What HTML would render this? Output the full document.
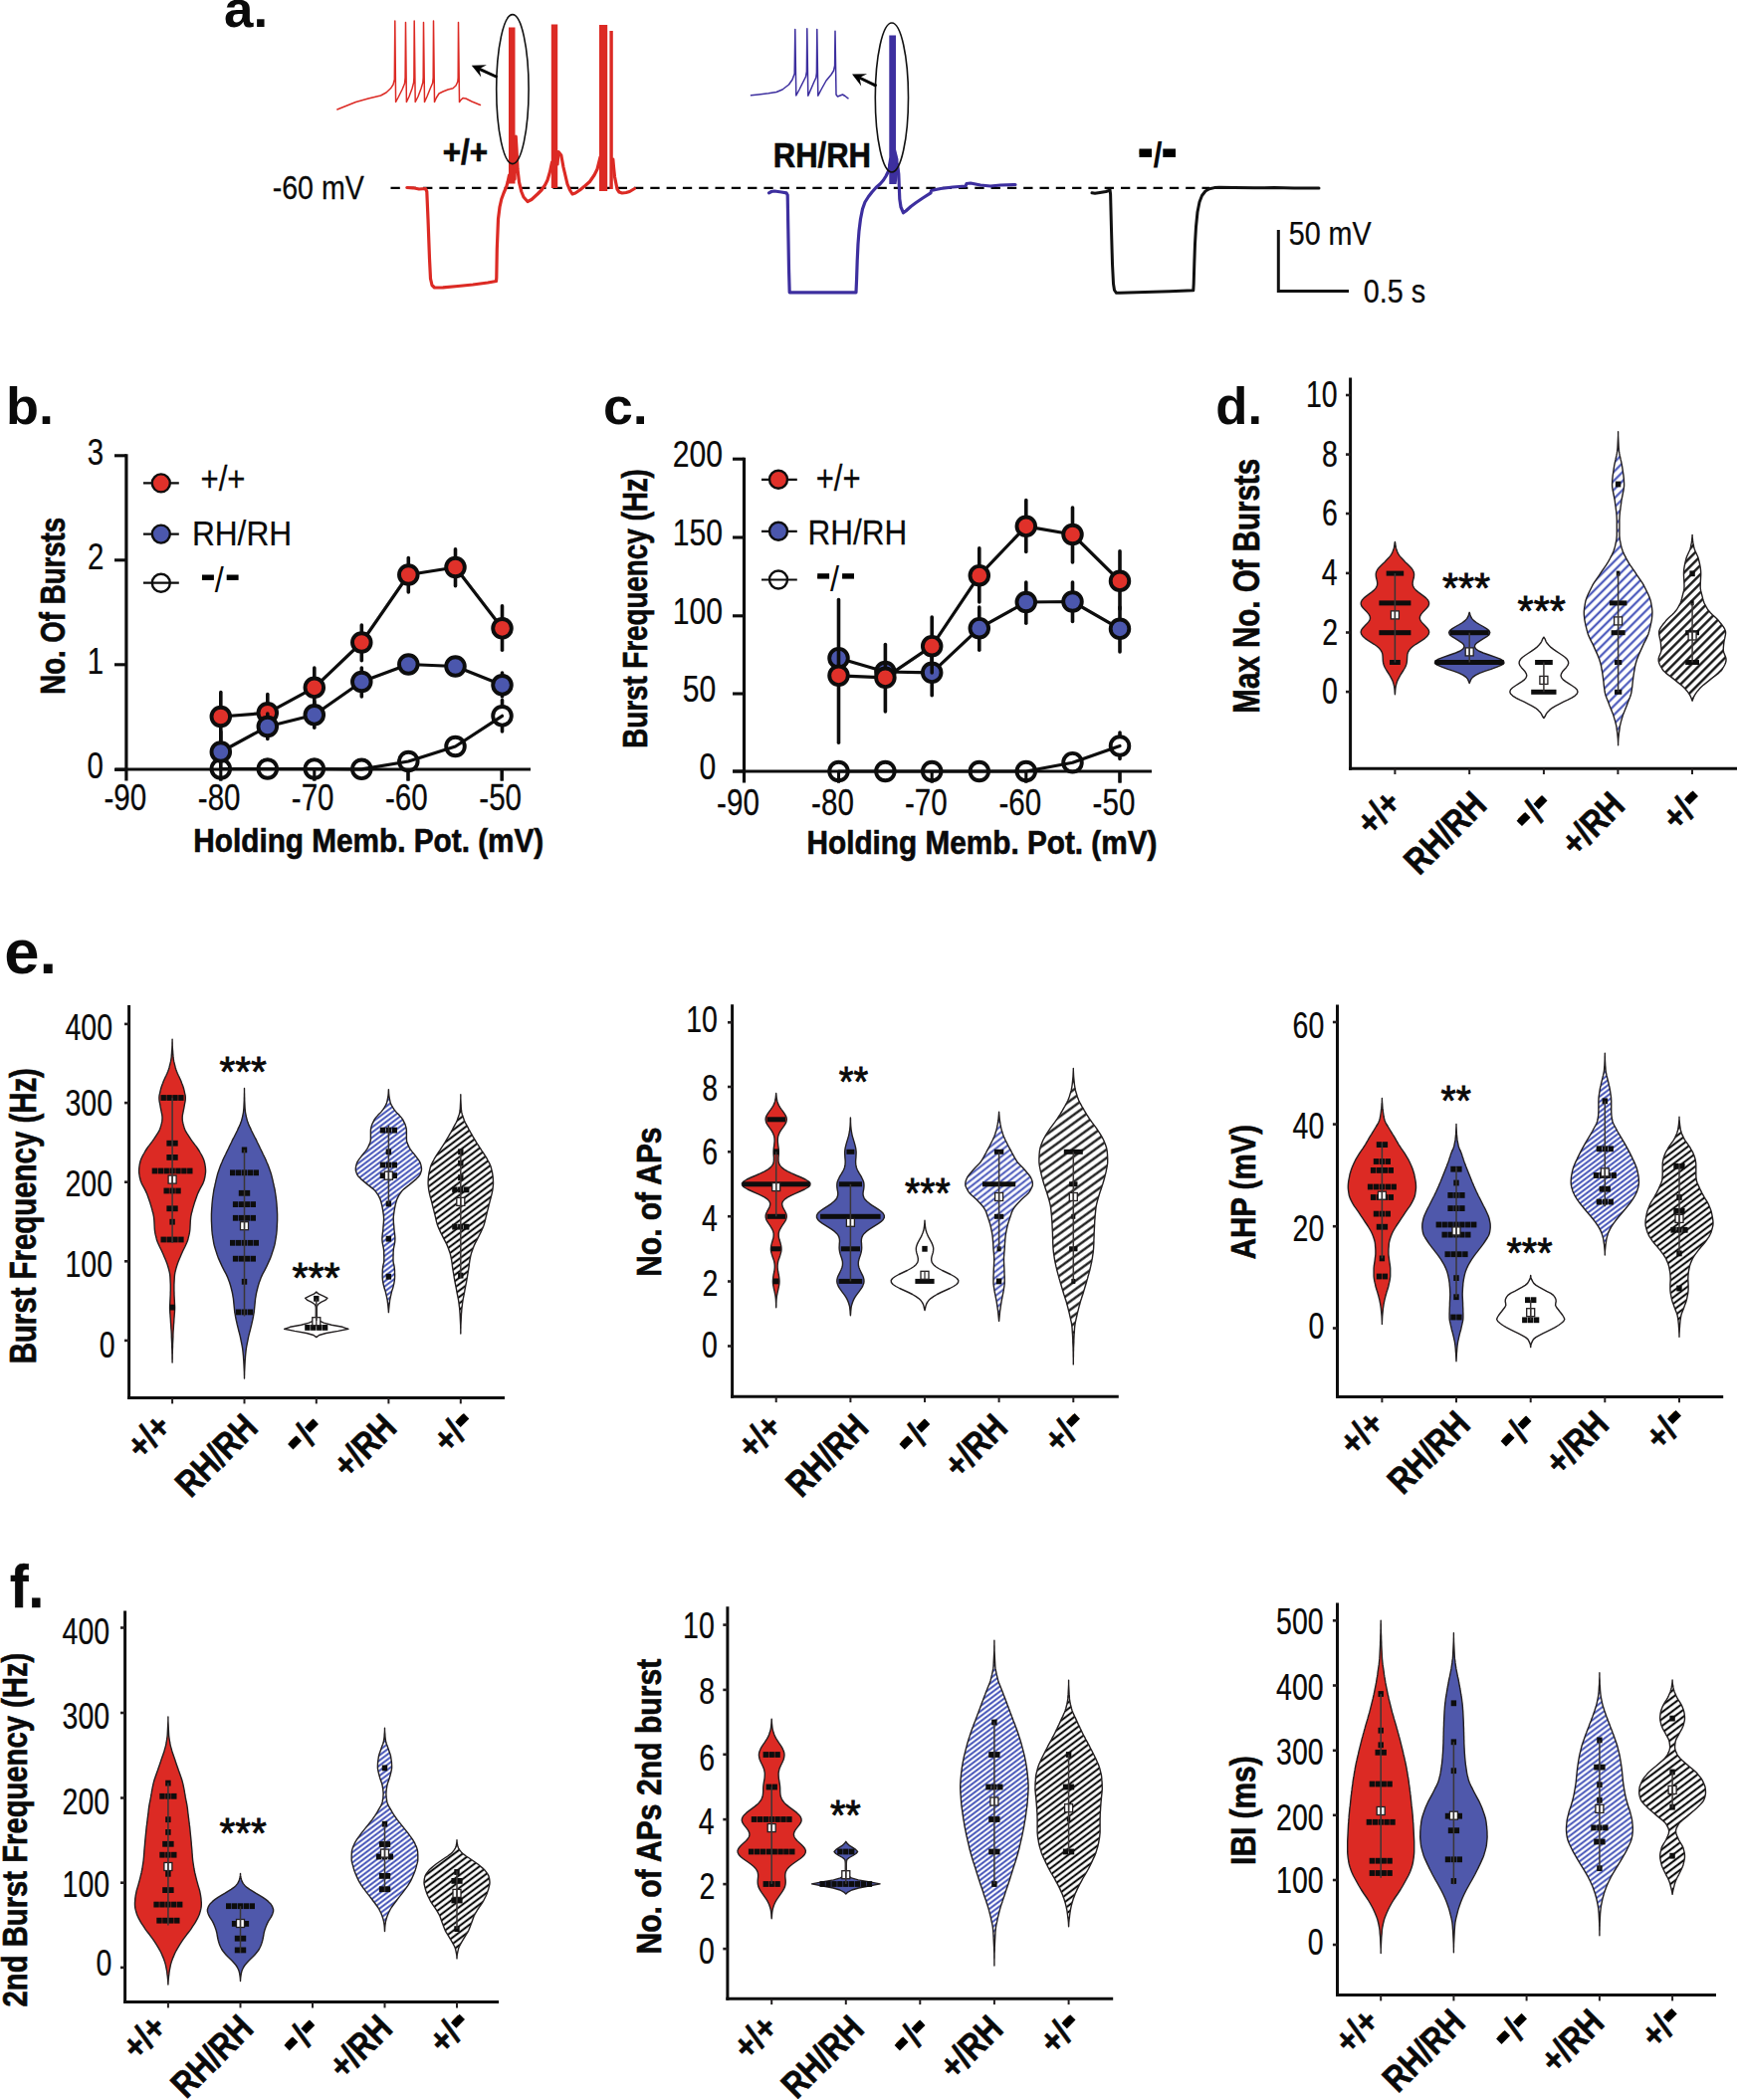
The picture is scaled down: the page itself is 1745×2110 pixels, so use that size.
<!DOCTYPE html>
<html><head><meta charset="utf-8"><title>figure</title>
<style>html,body{margin:0;padding:0;background:#fff}svg{display:block}text{font-family:"Liberation Sans",sans-serif;fill:#0a0a0a}.nb{stroke:#0a0a0a;stroke-width:.65px}.nr{stroke:#0a0a0a;stroke-width:.25px}</style>
</head><body>
<svg width="1745" height="2110" viewBox="0 0 1745 2110">
<defs>
<pattern id="hb" patternUnits="userSpaceOnUse" width="20" height="4.1" patternTransform="rotate(-37)"><rect width="20" height="4.1" fill="#fff"/><rect y="1.15" width="20" height="1.8" fill="#3444b2"/></pattern>
<pattern id="hk" patternUnits="userSpaceOnUse" width="20" height="5.1" patternTransform="rotate(-37)"><rect width="20" height="5.1" fill="#fff"/><rect y="1.5" width="20" height="2.1" fill="#0d0d0d"/></pattern>
<pattern id="hb2" patternUnits="userSpaceOnUse" width="20" height="4.85" patternTransform="rotate(-38)"><rect width="20" height="4.85" fill="#fff"/><rect y="1.5" width="20" height="1.8" fill="#3444b2"/></pattern>
<pattern id="hk2" patternUnits="userSpaceOnUse" width="20" height="6.8" patternTransform="rotate(-36)"><rect width="20" height="6.8" fill="#fff"/><rect y="2.3" width="20" height="2.2" fill="#0d0d0d"/></pattern>
<pattern id="hb3" patternUnits="userSpaceOnUse" width="20" height="4.4" patternTransform="rotate(-37)"><rect width="20" height="4.4" fill="#fff"/><rect y="1.3" width="20" height="1.8" fill="#3444b2"/></pattern>
<pattern id="hk3" patternUnits="userSpaceOnUse" width="20" height="5.5" patternTransform="rotate(-37)"><rect width="20" height="5.5" fill="#fff"/><rect y="1.7" width="20" height="2.15" fill="#0d0d0d"/></pattern>
<pattern id="hbd" patternUnits="userSpaceOnUse" width="20" height="6.4" patternTransform="rotate(-45)"><rect width="20" height="6.4" fill="#fff"/><rect y="2.2" width="20" height="1.95" fill="#3747b4"/></pattern>
<pattern id="hkd" patternUnits="userSpaceOnUse" width="20" height="6.4" patternTransform="rotate(-45)"><rect width="20" height="6.4" fill="#fff"/><rect y="2" width="20" height="2.3" fill="#0d0d0d"/></pattern>
</defs>
<rect width="1745" height="2110" fill="#fff"/>
<text transform="translate(225,26.5) scale(1.0170,1)" font-size="52" font-weight="bold">a.</text>
<line x1="392.5" y1="188.8" x2="1215" y2="188.8" stroke="#000" stroke-width="2.3" stroke-dasharray="9.3 7"/>
<path d="M408.8 188.5 L415 188.8 L421 190 L427.5 189.5 L428.8 192.5 L430 220 L431.5 260 L432.5 280 L434 286.5 L436.5 289 L445 288.8 L460 287.5 L475 286 L490 284 L498.5 282.5 L498.8 279 L499.3 250 L500.5 220 L502 208 L503.8 200 L506 194 L508.8 187.5 L510 183 L511.5 176" fill="none" stroke="#dc2a24" stroke-width="3.2" stroke-linejoin="round" stroke-linecap="round"/>
<rect x="511" y="27.5" width="6.5" height="157" fill="#dc2a24"/>
<path d="M517 180 L518.2 137 L519 150 L520 170 L521.5 183 L523.8 192.5 L526 198 L530 202.5 L534 200.5 L540 195 L544 191 L547.5 186 L550 181 L552.5 172.5 L554.5 163" fill="none" stroke="#dc2a24" stroke-width="3.2" stroke-linejoin="round" stroke-linecap="round"/>
<rect x="553.8" y="24.5" width="6.4" height="164.5" fill="#dc2a24"/>
<path d="M560 165 L561 152.5 L563.8 156 L566 168 L570 185 L572.5 191 L575 195 L578 194 L582.5 191 L588 186.5 L592.5 182.5 L597 176 L600 170 L603 158" fill="none" stroke="#dc2a24" stroke-width="3.2" stroke-linejoin="round" stroke-linecap="round"/>
<rect x="602" y="25" width="8.2" height="167" fill="#dc2a24"/>
<rect x="612.4" y="31" width="3.4" height="159" fill="#dc2a24"/>
<path d="M615.8 160 L616.5 168 L617.5 177.5 L620 190 L622 193 L625 194 L629 193.5 L632.5 192.5 L635 191 L637.5 189.5" fill="none" stroke="#dc2a24" stroke-width="3.2" stroke-linejoin="round" stroke-linecap="round"/>
<path d="M338.8 110 L345 107.5 L357.5 102.5 L370 99 L382.5 96 L388 93 L392.5 88.8 L395 85 L396.3 80 L396.8 21 L397.6 102.5 L400 98 L404 90 L406.5 84 L407.1 78 L407.5 22.5 L408.4 102.5 L411 97 L414 89 L415.6 83 L415.9 78 L416.2 21 L417.2 102.5 L420 97 L423 89 L424.8 83 L425.2 78 L425.5 22.5 L426.5 102.5 L429 97 L432 89.5 L434.6 83.5 L435.2 78 L435.5 21 L436.5 102.5 L438.5 98 L441 94 L445 92 L450 90 L455 88.8 L458 86 L459.8 82 L460.2 78 L460.5 22.5 L461.5 102.5 L462.5 101 L465 98.5 L468 99 L474 102 L482.5 105.5" fill="none" stroke="#dc2a24" stroke-width="1.5" stroke-linejoin="round" stroke-linecap="round"/>
<ellipse cx="514.9" cy="89.6" rx="16.2" ry="75" fill="none" stroke="#111" stroke-width="1.6"/>
<line x1="499.5" y1="77.5" x2="481.2" y2="69.2" stroke="#000" stroke-width="3" stroke-linecap="butt"/>
<path d="M473.8 65.8 L488.9 65.2 L481.4 69.3 L483.3 77.6 Z" fill="#000"/>
<text transform="translate(444.7,164.5) scale(0.8963,1)" font-size="35" font-weight="bold" class="nb">+/+</text>
<text transform="translate(273.7,200) scale(0.8660,1)" font-size="33" class="nr">-60 mV</text>
<path d="M772.5 193.8 L775 192.5 L778 192 L785 193 L790 193.8 L791.2 196 L791.8 230 L792.5 270 L793.2 293.8 L800 293.8 L830 293.8 L860 293.8 L860.6 280 L861.2 262 L862 245 L863 232 L864.5 220 L866.5 210 L869 203 L872.5 197.5 L876 193 L880 188.5 L884 185 L887.5 181 L890 177 L892.5 172 L894 166" fill="none" stroke="#3d2f9f" stroke-width="3.2" stroke-linejoin="round" stroke-linecap="round"/>
<path d="M893.3 35.5 L900 35.5 L900 150 L902.5 160 L902.5 172 L900.5 185 L893.3 185 L893.3 172 L892 166 L893.3 158 Z" fill="#3d2f9f"/>
<path d="M901.5 165 L902.8 175 L903.2 185 L903.8 200 L905 208 L907.5 213.8 L910 212 L915 207.5 L920 203.8 L927 199 L935 193.8 L935.5 191.5 L940 190.5 L945 189.5 L957 188 L970 187 L971 184.5 L975 184 L985 186 L995 187 L1005 186 L1020 185.5" fill="none" stroke="#3d2f9f" stroke-width="3.2" stroke-linejoin="round" stroke-linecap="round"/>
<path d="M754.5 95.8 L762 95 L772 93.8 L780 92.5 L786 90 L792.5 85 L796 80 L798.2 74 L798.8 29.5 L799.8 96 L803 90 L806.5 83 L809.5 77 L810.4 72 L810.8 28.8 L811.8 96.2 L814.5 90 L817.5 83 L819.8 78 L820.4 73 L820.8 29.5 L821.8 96.2 L825 90 L830 81 L835 75 L837.5 71 L838.6 66 L839 31.2 L840 95 L841.5 97 L844 96 L846.5 95 L849 96.5 L852 98.8" fill="none" stroke="#3d2f9f" stroke-width="1.5" stroke-linejoin="round" stroke-linecap="round"/>
<ellipse cx="895.9" cy="98" rx="16.6" ry="75" fill="none" stroke="#111" stroke-width="1.6"/>
<line x1="880.5" y1="86.3" x2="863.3" y2="78" stroke="#000" stroke-width="3" stroke-linecap="butt"/>
<path d="M856 74.5 L871.1 74.2 L863.5 78.1 L865.2 86.5 Z" fill="#000"/>
<text transform="translate(776.8,168) scale(0.8866,1)" font-size="35" font-weight="bold" class="nb">RH/RH</text>
<path d="M1097 193.8 L1100 194.3 L1105 193.5 L1111 192.5 L1114 191.5 L1115 190.5 L1115.6 195 L1116.5 230 L1117.5 265 L1118.5 285 L1119.5 291.5 L1121.5 294.3 L1125 294.3 L1150 293.5 L1175 292.8 L1198.8 291.8 L1199.2 285 L1199.8 265 L1200.5 245 L1201.5 228 L1203 213 L1205 203 L1207.5 196.5 L1211 192 L1215 189.8 L1220 188.6 L1225 188.2 L1240 188.4 L1260 188.8 L1280 188.6 L1300 189 L1325 189" fill="none" stroke="#111" stroke-width="3" stroke-linejoin="round" stroke-linecap="round"/>
<text transform="translate(1143.6,167.5) scale(0.93,1)" font-size="35" font-weight="bold"><tspan dy="-5.5">-</tspan><tspan dy="5.5" dx="4.4">/</tspan><tspan dy="-5.5" dx="1.5">-</tspan></text>
<rect x="1144.5" y="149.5" width="12.5" height="8.5" fill="#000"/>
<rect x="1168.3" y="149.5" width="12.7" height="8.5" fill="#000"/>
<path d="M1284.3 231 L1284.3 292.5 L1355 292.5" fill="none" stroke="#111" stroke-width="3" stroke-linejoin="miter"/>
<text transform="translate(1294.7,245.8) scale(0.8832,1)" font-size="32.5" class="nr">50 mV</text>
<text transform="translate(1369.7,303.8) scale(0.8853,1)" font-size="32.5" class="nr">0.5 s</text>
<text transform="translate(5.9,425.5) scale(1.0385,1)" font-size="52" font-weight="bold">b.</text>
<line x1="115" y1="457.8" x2="126.9" y2="457.8" stroke="#0d0d0d" stroke-width="3.1" stroke-linecap="butt"/>
<text transform="translate(87.7,466.5) scale(0.8100,1)" font-size="36.3" class="nr">3</text>
<line x1="115" y1="562.8" x2="126.9" y2="562.8" stroke="#0d0d0d" stroke-width="3.1" stroke-linecap="butt"/>
<text transform="translate(87.9,571.5) scale(0.8100,1)" font-size="36.3" class="nr">2</text>
<line x1="115" y1="667.8" x2="126.9" y2="667.8" stroke="#0d0d0d" stroke-width="3.1" stroke-linecap="butt"/>
<text transform="translate(87.7,676.5) scale(0.8100,1)" font-size="36.3" class="nr">1</text>
<line x1="115" y1="773.3" x2="126.9" y2="773.3" stroke="#0d0d0d" stroke-width="3.1" stroke-linecap="butt"/>
<text transform="translate(87.5,782) scale(0.8100,1)" font-size="36.3" class="nr">0</text>
<text transform="translate(104.5,814) scale(0.8150,1)" font-size="36.3" class="nr">-90</text>
<line x1="221.8" y1="773" x2="221.8" y2="784.5" stroke="#0d0d0d" stroke-width="3.1" stroke-linecap="butt"/>
<text transform="translate(198.8,814) scale(0.8150,1)" font-size="36.3" class="nr">-80</text>
<line x1="315.8" y1="773" x2="315.8" y2="784.5" stroke="#0d0d0d" stroke-width="3.1" stroke-linecap="butt"/>
<text transform="translate(292.8,814) scale(0.8150,1)" font-size="36.3" class="nr">-70</text>
<line x1="410" y1="773" x2="410" y2="784.5" stroke="#0d0d0d" stroke-width="3.1" stroke-linecap="butt"/>
<text transform="translate(387,814) scale(0.8150,1)" font-size="36.3" class="nr">-60</text>
<line x1="504.2" y1="773" x2="504.2" y2="784.5" stroke="#0d0d0d" stroke-width="3.1" stroke-linecap="butt"/>
<text transform="translate(481.3,814) scale(0.8150,1)" font-size="36.3" class="nr">-50</text>
<text transform="translate(194.3,856.2) scale(0.8752,1)" font-size="34" font-weight="bold" class="nb">Holding Memb. Pot. (mV)</text>
<text class="nb" transform="translate(64.6,697.8) rotate(-90) scale(0.7892,1)" font-size="35" font-weight="bold">No. Of Bursts</text>
<line x1="504.5" y1="703.5" x2="504.5" y2="735" stroke="#0d0d0d" stroke-width="3.6" stroke-linecap="round"/>
<circle cx="221.8" cy="772.5" r="9.3" fill="#fff" stroke="#0d0d0d" stroke-width="3.9"/>
<circle cx="268.8" cy="772.5" r="9.3" fill="#fff" stroke="#0d0d0d" stroke-width="3.9"/>
<circle cx="315.8" cy="772.5" r="9.3" fill="#fff" stroke="#0d0d0d" stroke-width="3.9"/>
<circle cx="363.3" cy="772.8" r="9.3" fill="#fff" stroke="#0d0d0d" stroke-width="3.9"/>
<circle cx="410.3" cy="765" r="9.3" fill="#fff" stroke="#0d0d0d" stroke-width="3.9"/>
<circle cx="457.5" cy="750" r="9.3" fill="#fff" stroke="#0d0d0d" stroke-width="3.9"/>
<circle cx="504.5" cy="719.3" r="9.3" fill="#fff" stroke="#0d0d0d" stroke-width="3.9"/>
<path d="M221.8 772.5 L268.8 772.5 L315.8 772.5 L363.3 772.8 L410.3 765 L457.5 750 L504.5 719.3" fill="none" stroke="#0d0d0d" stroke-width="3.2" stroke-linejoin="round" stroke-linecap="round"/>
<line x1="221.8" y1="695.5" x2="221.8" y2="744" stroke="#0d0d0d" stroke-width="3.6" stroke-linecap="round"/>
<line x1="268.8" y1="697.5" x2="268.8" y2="735" stroke="#0d0d0d" stroke-width="3.6" stroke-linecap="round"/>
<line x1="315.8" y1="671" x2="315.8" y2="710" stroke="#0d0d0d" stroke-width="3.6" stroke-linecap="round"/>
<line x1="363.3" y1="628" x2="363.3" y2="663.8" stroke="#0d0d0d" stroke-width="3.6" stroke-linecap="round"/>
<line x1="410.3" y1="560.5" x2="410.3" y2="595" stroke="#0d0d0d" stroke-width="3.6" stroke-linecap="round"/>
<line x1="457.5" y1="551.8" x2="457.5" y2="588.8" stroke="#0d0d0d" stroke-width="3.6" stroke-linecap="round"/>
<line x1="504.5" y1="608.8" x2="504.5" y2="653.3" stroke="#0d0d0d" stroke-width="3.6" stroke-linecap="round"/>
<path d="M221.8 720 L268.8 716.3 L315.8 690.8 L363.3 645.5 L410.3 577.5 L457.5 570 L504.5 631.3" fill="none" stroke="#0d0d0d" stroke-width="3.2" stroke-linejoin="round" stroke-linecap="round"/>
<circle cx="221.8" cy="720" r="9.3" fill="#e0312a" stroke="#0d0d0d" stroke-width="3.9"/>
<circle cx="268.8" cy="716.3" r="9.3" fill="#e0312a" stroke="#0d0d0d" stroke-width="3.9"/>
<circle cx="315.8" cy="690.8" r="9.3" fill="#e0312a" stroke="#0d0d0d" stroke-width="3.9"/>
<circle cx="363.3" cy="645.5" r="9.3" fill="#e0312a" stroke="#0d0d0d" stroke-width="3.9"/>
<circle cx="410.3" cy="577.5" r="9.3" fill="#e0312a" stroke="#0d0d0d" stroke-width="3.9"/>
<circle cx="457.5" cy="570" r="9.3" fill="#e0312a" stroke="#0d0d0d" stroke-width="3.9"/>
<circle cx="504.5" cy="631.3" r="9.3" fill="#e0312a" stroke="#0d0d0d" stroke-width="3.9"/>
<line x1="221.8" y1="735" x2="221.8" y2="772" stroke="#0d0d0d" stroke-width="3.6" stroke-linecap="round"/>
<line x1="268.8" y1="717" x2="268.8" y2="742.5" stroke="#0d0d0d" stroke-width="3.6" stroke-linecap="round"/>
<line x1="315.8" y1="705" x2="315.8" y2="731.3" stroke="#0d0d0d" stroke-width="3.6" stroke-linecap="round"/>
<line x1="363.3" y1="671" x2="363.3" y2="700" stroke="#0d0d0d" stroke-width="3.6" stroke-linecap="round"/>
<line x1="504.5" y1="676" x2="504.5" y2="700" stroke="#0d0d0d" stroke-width="3.6" stroke-linecap="round"/>
<path d="M221.8 755.5 L268.8 730 L315.8 718.3 L363.3 685 L410.3 667.5 L457.5 669.5 L504.5 688.3" fill="none" stroke="#0d0d0d" stroke-width="3.2" stroke-linejoin="round" stroke-linecap="round"/>
<circle cx="221.8" cy="755.5" r="9.3" fill="#4b57ad" stroke="#0d0d0d" stroke-width="3.9"/>
<circle cx="268.8" cy="730" r="9.3" fill="#4b57ad" stroke="#0d0d0d" stroke-width="3.9"/>
<circle cx="315.8" cy="718.3" r="9.3" fill="#4b57ad" stroke="#0d0d0d" stroke-width="3.9"/>
<circle cx="363.3" cy="685" r="9.3" fill="#4b57ad" stroke="#0d0d0d" stroke-width="3.9"/>
<circle cx="410.3" cy="667.5" r="9.3" fill="#4b57ad" stroke="#0d0d0d" stroke-width="3.9"/>
<circle cx="457.5" cy="669.5" r="9.3" fill="#4b57ad" stroke="#0d0d0d" stroke-width="3.9"/>
<circle cx="504.5" cy="688.3" r="9.3" fill="#4b57ad" stroke="#0d0d0d" stroke-width="3.9"/>
<line x1="126.9" y1="456.2" x2="126.9" y2="784.5" stroke="#0d0d0d" stroke-width="3.2" stroke-linecap="butt"/>
<line x1="115.5" y1="773" x2="533" y2="773" stroke="#0d0d0d" stroke-width="3.2" stroke-linecap="butt"/>
<line x1="221.8" y1="773" x2="221.8" y2="784.5" stroke="#0d0d0d" stroke-width="3.1" stroke-linecap="butt"/>
<line x1="315.8" y1="773" x2="315.8" y2="784.5" stroke="#0d0d0d" stroke-width="3.1" stroke-linecap="butt"/>
<line x1="410" y1="773" x2="410" y2="784.5" stroke="#0d0d0d" stroke-width="3.1" stroke-linecap="butt"/>
<line x1="504.2" y1="773" x2="504.2" y2="784.5" stroke="#0d0d0d" stroke-width="3.1" stroke-linecap="butt"/>
<line x1="144" y1="485.4" x2="179.8" y2="485.4" stroke="#0d0d0d" stroke-width="2.2" stroke-linecap="butt"/>
<circle cx="161.8" cy="485.4" r="9" fill="#e0312a" stroke="#0d0d0d" stroke-width="2.4"/>
<line x1="144" y1="536.6" x2="179.8" y2="536.6" stroke="#0d0d0d" stroke-width="2.2" stroke-linecap="butt"/>
<circle cx="161.8" cy="536.6" r="9" fill="#4b57ad" stroke="#0d0d0d" stroke-width="2.4"/>
<line x1="144" y1="585.7" x2="179.8" y2="585.7" stroke="#0d0d0d" stroke-width="2.2" stroke-linecap="butt"/>
<circle cx="161.8" cy="585.7" r="9" fill="none" stroke="#0d0d0d" stroke-width="2.4"/>
<text transform="translate(201.5,493) scale(0.8639,1)" font-size="36" class="nr">+/+</text>
<text transform="translate(192.9,548.3) scale(0.8796,1)" font-size="36" class="nr">RH/RH</text>
<text transform="translate(201.8,595) scale(0.9,1)" font-size="36"><tspan dy="-4.5">-</tspan><tspan dy="4.5" dx="3.5">/</tspan><tspan dy="-4.5" dx="2.5">-</tspan></text>
<rect x="203" y="577.5" width="11.9" height="5.4" fill="#000"/>
<rect x="227.7" y="577.5" width="11.9" height="5.4" fill="#000"/>
<text transform="translate(605.9,425.5) scale(1.0331,1)" font-size="52" font-weight="bold">c.</text>
<line x1="736" y1="461.2" x2="747.5" y2="461.2" stroke="#0d0d0d" stroke-width="3.1" stroke-linecap="butt"/>
<text transform="translate(675.8,469.4) scale(0.8300,1)" font-size="36.3" class="nr">200</text>
<line x1="736" y1="540" x2="747.5" y2="540" stroke="#0d0d0d" stroke-width="3.1" stroke-linecap="butt"/>
<text transform="translate(675.8,548.2) scale(0.8300,1)" font-size="36.3" class="nr">150</text>
<line x1="736" y1="618.8" x2="747.5" y2="618.8" stroke="#0d0d0d" stroke-width="3.1" stroke-linecap="butt"/>
<text transform="translate(675.8,627) scale(0.8300,1)" font-size="36.3" class="nr">100</text>
<line x1="736" y1="697" x2="747.5" y2="697" stroke="#0d0d0d" stroke-width="3.1" stroke-linecap="butt"/>
<text transform="translate(685.8,705.2) scale(0.8300,1)" font-size="36.3" class="nr">50</text>
<line x1="736" y1="775" x2="747.5" y2="775" stroke="#0d0d0d" stroke-width="3.1" stroke-linecap="butt"/>
<text transform="translate(702.6,783.2) scale(0.8300,1)" font-size="36.3" class="nr">0</text>
<text transform="translate(720.1,818.8) scale(0.8150,1)" font-size="36.3" class="nr">-90</text>
<line x1="842.5" y1="775" x2="842.5" y2="786.5" stroke="#0d0d0d" stroke-width="3.1" stroke-linecap="butt"/>
<text transform="translate(815.1,818.8) scale(0.8150,1)" font-size="36.3" class="nr">-80</text>
<line x1="936.2" y1="775" x2="936.2" y2="786.5" stroke="#0d0d0d" stroke-width="3.1" stroke-linecap="butt"/>
<text transform="translate(908.9,818.8) scale(0.8150,1)" font-size="36.3" class="nr">-70</text>
<line x1="1030.8" y1="775" x2="1030.8" y2="786.5" stroke="#0d0d0d" stroke-width="3.1" stroke-linecap="butt"/>
<text transform="translate(1003.4,818.8) scale(0.8150,1)" font-size="36.3" class="nr">-60</text>
<line x1="1125" y1="775" x2="1125" y2="786.5" stroke="#0d0d0d" stroke-width="3.1" stroke-linecap="butt"/>
<text transform="translate(1097.6,818.8) scale(0.8150,1)" font-size="36.3" class="nr">-50</text>
<text transform="translate(810.5,858) scale(0.8752,1)" font-size="34" font-weight="bold" class="nb">Holding Memb. Pot. (mV)</text>
<text class="nb" transform="translate(650,751.8) rotate(-90) scale(0.7929,1)" font-size="35" font-weight="bold">Burst Frequency (Hz)</text>
<line x1="1125" y1="736" x2="1125" y2="762.5" stroke="#0d0d0d" stroke-width="3.6" stroke-linecap="round"/>
<circle cx="842.5" cy="775" r="9.3" fill="#fff" stroke="#0d0d0d" stroke-width="3.9"/>
<circle cx="889.4" cy="775" r="9.3" fill="#fff" stroke="#0d0d0d" stroke-width="3.9"/>
<circle cx="936.2" cy="775" r="9.3" fill="#fff" stroke="#0d0d0d" stroke-width="3.9"/>
<circle cx="983.8" cy="775" r="9.3" fill="#fff" stroke="#0d0d0d" stroke-width="3.9"/>
<circle cx="1030.8" cy="775" r="9.3" fill="#fff" stroke="#0d0d0d" stroke-width="3.9"/>
<circle cx="1077.5" cy="766.2" r="9.3" fill="#fff" stroke="#0d0d0d" stroke-width="3.9"/>
<circle cx="1125" cy="749.5" r="9.3" fill="#fff" stroke="#0d0d0d" stroke-width="3.9"/>
<path d="M842.5 775 L889.4 775 L936.2 775 L983.8 775 L1030.8 775 L1077.5 766.2 L1125 749.5" fill="none" stroke="#0d0d0d" stroke-width="3.2" stroke-linejoin="round" stroke-linecap="round"/>
<line x1="936.2" y1="650" x2="936.2" y2="698.8" stroke="#0d0d0d" stroke-width="3.6" stroke-linecap="round"/>
<line x1="983.8" y1="610" x2="983.8" y2="653.2" stroke="#0d0d0d" stroke-width="3.6" stroke-linecap="round"/>
<line x1="1030.8" y1="585" x2="1030.8" y2="626.2" stroke="#0d0d0d" stroke-width="3.6" stroke-linecap="round"/>
<line x1="1077.5" y1="585" x2="1077.5" y2="624.5" stroke="#0d0d0d" stroke-width="3.6" stroke-linecap="round"/>
<line x1="1125" y1="610" x2="1125" y2="655" stroke="#0d0d0d" stroke-width="3.6" stroke-linecap="round"/>
<path d="M842.5 661.2 L889.4 675 L936.2 675.8 L983.8 631.2 L1030.8 605 L1077.5 604.5 L1125 631.8" fill="none" stroke="#0d0d0d" stroke-width="3.2" stroke-linejoin="round" stroke-linecap="round"/>
<circle cx="842.5" cy="661.2" r="9.3" fill="#4b57ad" stroke="#0d0d0d" stroke-width="3.9"/>
<circle cx="889.4" cy="675" r="9.3" fill="#4b57ad" stroke="#0d0d0d" stroke-width="3.9"/>
<circle cx="936.2" cy="675.8" r="9.3" fill="#4b57ad" stroke="#0d0d0d" stroke-width="3.9"/>
<circle cx="983.8" cy="631.2" r="9.3" fill="#4b57ad" stroke="#0d0d0d" stroke-width="3.9"/>
<circle cx="1030.8" cy="605" r="9.3" fill="#4b57ad" stroke="#0d0d0d" stroke-width="3.9"/>
<circle cx="1077.5" cy="604.5" r="9.3" fill="#4b57ad" stroke="#0d0d0d" stroke-width="3.9"/>
<circle cx="1125" cy="631.8" r="9.3" fill="#4b57ad" stroke="#0d0d0d" stroke-width="3.9"/>
<line x1="842.5" y1="602.5" x2="842.5" y2="746.2" stroke="#0d0d0d" stroke-width="3.6" stroke-linecap="round"/>
<line x1="889.4" y1="647.5" x2="889.4" y2="715" stroke="#0d0d0d" stroke-width="3.6" stroke-linecap="round"/>
<line x1="936.2" y1="620" x2="936.2" y2="676" stroke="#0d0d0d" stroke-width="3.6" stroke-linecap="round"/>
<line x1="983.8" y1="550.8" x2="983.8" y2="605" stroke="#0d0d0d" stroke-width="3.6" stroke-linecap="round"/>
<line x1="1030.8" y1="502.5" x2="1030.8" y2="554.5" stroke="#0d0d0d" stroke-width="3.6" stroke-linecap="round"/>
<line x1="1077.5" y1="510" x2="1077.5" y2="565" stroke="#0d0d0d" stroke-width="3.6" stroke-linecap="round"/>
<line x1="1125" y1="553.8" x2="1125" y2="612" stroke="#0d0d0d" stroke-width="3.6" stroke-linecap="round"/>
<path d="M842.5 678.8 L889.4 680.8 L936.2 649.2 L983.8 578.2 L1030.8 528.8 L1077.5 537 L1125 583.8" fill="none" stroke="#0d0d0d" stroke-width="3.2" stroke-linejoin="round" stroke-linecap="round"/>
<circle cx="842.5" cy="678.8" r="9.3" fill="#e0312a" stroke="#0d0d0d" stroke-width="3.9"/>
<circle cx="889.4" cy="680.8" r="9.3" fill="#e0312a" stroke="#0d0d0d" stroke-width="3.9"/>
<circle cx="936.2" cy="649.2" r="9.3" fill="#e0312a" stroke="#0d0d0d" stroke-width="3.9"/>
<circle cx="983.8" cy="578.2" r="9.3" fill="#e0312a" stroke="#0d0d0d" stroke-width="3.9"/>
<circle cx="1030.8" cy="528.8" r="9.3" fill="#e0312a" stroke="#0d0d0d" stroke-width="3.9"/>
<circle cx="1077.5" cy="537" r="9.3" fill="#e0312a" stroke="#0d0d0d" stroke-width="3.9"/>
<circle cx="1125" cy="583.8" r="9.3" fill="#e0312a" stroke="#0d0d0d" stroke-width="3.9"/>
<line x1="747.5" y1="459.8" x2="747.5" y2="786.5" stroke="#0d0d0d" stroke-width="3.2" stroke-linecap="butt"/>
<line x1="736.2" y1="775" x2="1157" y2="775" stroke="#0d0d0d" stroke-width="3.2" stroke-linecap="butt"/>
<line x1="842.5" y1="775" x2="842.5" y2="786.5" stroke="#0d0d0d" stroke-width="3.1" stroke-linecap="butt"/>
<line x1="936.2" y1="775" x2="936.2" y2="786.5" stroke="#0d0d0d" stroke-width="3.1" stroke-linecap="butt"/>
<line x1="1030.8" y1="775" x2="1030.8" y2="786.5" stroke="#0d0d0d" stroke-width="3.1" stroke-linecap="butt"/>
<line x1="1125" y1="775" x2="1125" y2="786.5" stroke="#0d0d0d" stroke-width="3.1" stroke-linecap="butt"/>
<line x1="765" y1="481.8" x2="800.8" y2="481.8" stroke="#0d0d0d" stroke-width="2.2" stroke-linecap="butt"/>
<circle cx="782" cy="481.8" r="9" fill="#e0312a" stroke="#0d0d0d" stroke-width="2.4"/>
<line x1="765" y1="533.8" x2="800.8" y2="533.8" stroke="#0d0d0d" stroke-width="2.2" stroke-linecap="butt"/>
<circle cx="782" cy="533.8" r="9" fill="#4b57ad" stroke="#0d0d0d" stroke-width="2.4"/>
<line x1="765" y1="582.5" x2="800.8" y2="582.5" stroke="#0d0d0d" stroke-width="2.2" stroke-linecap="butt"/>
<circle cx="782" cy="582.5" r="9" fill="none" stroke="#0d0d0d" stroke-width="2.4"/>
<text transform="translate(819.7,492.5) scale(0.8608,1)" font-size="36" class="nr">+/+</text>
<text transform="translate(811.6,547) scale(0.8750,1)" font-size="36" class="nr">RH/RH</text>
<text transform="translate(820,593.8) scale(0.9,1)" font-size="36"><tspan dy="-4.5">-</tspan><tspan dy="4.5" dx="3.5">/</tspan><tspan dy="-4.5" dx="2.5">-</tspan></text>
<rect x="821.2" y="576.2" width="11.9" height="5.4" fill="#000"/>
<rect x="846.1" y="576.2" width="11.9" height="5.4" fill="#000"/>
<text transform="translate(1221.2,425.9) scale(1.0137,1)" font-size="52" font-weight="bold">d.</text>
<line x1="1356.6" y1="379.5" x2="1356.6" y2="773.7" stroke="#0d0d0d" stroke-width="3" stroke-linecap="butt"/>
<line x1="1355.1" y1="772.2" x2="1745" y2="772.2" stroke="#0d0d0d" stroke-width="3" stroke-linecap="butt"/>
<line x1="1352" y1="397" x2="1356.6" y2="397" stroke="#231f20" stroke-width="2.6" stroke-linecap="butt"/>
<text transform="translate(1312,409.1) scale(0.7850,1)" font-size="36.3" class="nr">10</text>
<line x1="1352" y1="456.6" x2="1356.6" y2="456.6" stroke="#231f20" stroke-width="2.6" stroke-linecap="butt"/>
<text transform="translate(1328.1,468.7) scale(0.7850,1)" font-size="36.3" class="nr">8</text>
<line x1="1352" y1="516" x2="1356.6" y2="516" stroke="#231f20" stroke-width="2.6" stroke-linecap="butt"/>
<text transform="translate(1328.1,528.1) scale(0.7850,1)" font-size="36.3" class="nr">6</text>
<line x1="1352" y1="575.9" x2="1356.6" y2="575.9" stroke="#231f20" stroke-width="2.6" stroke-linecap="butt"/>
<text transform="translate(1327.7,588) scale(0.7850,1)" font-size="36.3" class="nr">4</text>
<line x1="1352" y1="635.5" x2="1356.6" y2="635.5" stroke="#231f20" stroke-width="2.6" stroke-linecap="butt"/>
<text transform="translate(1328.3,647.6) scale(0.7850,1)" font-size="36.3" class="nr">2</text>
<line x1="1352" y1="695.1" x2="1356.6" y2="695.1" stroke="#231f20" stroke-width="2.6" stroke-linecap="butt"/>
<text transform="translate(1327.9,707.2) scale(0.7850,1)" font-size="36.3" class="nr">0</text>
<line x1="1401.4" y1="772.2" x2="1401.4" y2="778" stroke="#231f20" stroke-width="2" stroke-linecap="butt"/>
<line x1="1476.2" y1="772.2" x2="1476.2" y2="778" stroke="#231f20" stroke-width="2" stroke-linecap="butt"/>
<line x1="1550.9" y1="772.2" x2="1550.9" y2="778" stroke="#231f20" stroke-width="2" stroke-linecap="butt"/>
<line x1="1625.4" y1="772.2" x2="1625.4" y2="778" stroke="#231f20" stroke-width="2" stroke-linecap="butt"/>
<line x1="1700" y1="772.2" x2="1700" y2="778" stroke="#231f20" stroke-width="2" stroke-linecap="butt"/>
<text class="nb" transform="translate(1265,716.7) rotate(-90) scale(0.8201,1)" font-size="36" font-weight="bold">Max No. Of Bursts</text>
<path d="M1401.4 544.5 L1401.8 546.5 L1402 548.5 L1402.4 550.5 L1403 552.6 L1403.8 554.6 L1404.8 556.6 L1406.1 558.6 L1407.8 560.6 L1409.7 562.6 L1411.7 564.7 L1413.9 566.7 L1415.9 568.7 L1417.8 570.7 L1419.2 572.7 L1420.2 574.7 L1420.6 576.8 L1420.5 578.8 L1420.2 580.8 L1419.6 582.8 L1419.2 584.8 L1419.1 586.8 L1419.5 588.8 L1420.6 590.9 L1422.3 592.9 L1424.7 594.9 L1427.4 596.9 L1430.1 598.9 L1432.6 600.9 L1434.5 603 L1435.5 605 L1435.6 607 L1434.9 609 L1433.3 611 L1431.4 613 L1429.4 615.1 L1427.7 617.1 L1426.6 619.1 L1426.3 621.1 L1426.8 623.1 L1428.2 625.1 L1430 627.1 L1432.1 629.2 L1433.9 631.2 L1435.2 633.2 L1435.7 635.2 L1435.2 637.2 L1433.8 639.2 L1431.5 641.3 L1428.6 643.3 L1425.5 645.3 L1422.4 647.3 L1419.6 649.3 L1417.3 651.3 L1415.6 653.4 L1414.5 655.4 L1413.9 657.4 L1413.7 659.4 L1413.6 661.4 L1413.5 663.4 L1413.3 665.4 L1412.8 667.5 L1412.1 669.5 L1411.1 671.5 L1409.9 673.5 L1408.6 675.5 L1407.3 677.5 L1406.1 679.6 L1405 681.6 L1404 683.6 L1403.3 685.6 L1402.7 687.6 L1402.2 689.6 L1401.9 691.7 L1401.7 693.7 L1401.6 695.7 L1401.4 697.7 L1401.2 695.7 L1401.1 693.7 L1400.9 691.7 L1400.6 689.6 L1400.1 687.6 L1399.5 685.6 L1398.8 683.6 L1397.8 681.6 L1396.7 679.6 L1395.5 677.5 L1394.2 675.5 L1392.9 673.5 L1391.7 671.5 L1390.7 669.5 L1390 667.5 L1389.5 665.4 L1389.3 663.4 L1389.2 661.4 L1389.1 659.4 L1388.9 657.4 L1388.3 655.4 L1387.2 653.4 L1385.5 651.3 L1383.2 649.3 L1380.4 647.3 L1377.3 645.3 L1374.2 643.3 L1371.3 641.3 L1369 639.2 L1367.6 637.2 L1367.1 635.2 L1367.6 633.2 L1368.9 631.2 L1370.7 629.2 L1372.8 627.1 L1374.6 625.1 L1376 623.1 L1376.5 621.1 L1376.2 619.1 L1375.1 617.1 L1373.4 615.1 L1371.4 613 L1369.5 611 L1367.9 609 L1367.2 607 L1367.3 605 L1368.3 603 L1370.2 600.9 L1372.7 598.9 L1375.4 596.9 L1378.1 594.9 L1380.5 592.9 L1382.2 590.9 L1383.3 588.8 L1383.7 586.8 L1383.6 584.8 L1383.2 582.8 L1382.6 580.8 L1382.3 578.8 L1382.2 576.8 L1382.6 574.7 L1383.6 572.7 L1385 570.7 L1386.9 568.7 L1388.9 566.7 L1391.1 564.7 L1393.1 562.6 L1395 560.6 L1396.7 558.6 L1398 556.6 L1399 554.6 L1399.8 552.6 L1400.4 550.5 L1400.8 548.5 L1401 546.5Z" fill="#dc2a24" stroke="#231f20" stroke-width="1.4" stroke-linejoin="round"/>
<rect x="1392.7" y="573.6" width="17.5" height="5" fill="#0d0d0d"/>
<rect x="1385.4" y="603.4" width="32" height="5" fill="#0d0d0d"/>
<rect x="1385.4" y="633.2" width="32" height="5" fill="#0d0d0d"/>
<rect x="1396" y="663" width="10.8" height="5" fill="#0d0d0d"/>
<rect x="1397.4" y="613.9" width="8" height="8" fill="#fff" stroke="#231f20" stroke-width="1.3"/>
<line x1="1401.4" y1="613.9" x2="1401.4" y2="621.9" stroke="#3a3636" stroke-width="1.3" stroke-linecap="butt"/>
<line x1="1401.4" y1="576.1" x2="1401.4" y2="665.5" stroke="#3a3636" stroke-width="1.5" stroke-linecap="butt"/>
<path d="M1476.2 615.3 L1476.8 617.3 L1477.5 619.4 L1478.6 621.4 L1480.4 623.4 L1483.1 625.5 L1486.4 627.5 L1490 629.5 L1493.4 631.6 L1495.9 633.6 L1496.8 635.6 L1496 637.7 L1493.6 639.7 L1490.3 641.7 L1486.8 643.8 L1483.8 645.8 L1481.9 647.8 L1481.4 649.9 L1482.5 651.9 L1485.4 654 L1490 656 L1495.8 658 L1501.9 660.1 L1507.2 662.1 L1510.5 664.1 L1511 666.2 L1508.6 668.2 L1503.9 670.2 L1497.9 672.3 L1491.7 674.3 L1486.4 676.3 L1482.4 678.4 L1479.6 680.4 L1477.9 682.4 L1477 684.5 L1476.2 686.5 L1475.4 684.5 L1474.5 682.4 L1472.8 680.4 L1470 678.4 L1466 676.3 L1460.7 674.3 L1454.5 672.3 L1448.5 670.2 L1443.8 668.2 L1441.4 666.2 L1441.9 664.1 L1445.2 662.1 L1450.5 660.1 L1456.6 658 L1462.4 656 L1467 654 L1469.9 651.9 L1471 649.9 L1470.5 647.8 L1468.6 645.8 L1465.6 643.8 L1462.1 641.7 L1458.8 639.7 L1456.4 637.7 L1455.6 635.6 L1456.5 633.6 L1459 631.6 L1462.4 629.5 L1466 627.5 L1469.3 625.5 L1472 623.4 L1473.8 621.4 L1474.9 619.4 L1475.6 617.3Z" fill="#4f58ab" stroke="#231f20" stroke-width="1.4" stroke-linejoin="round"/>
<rect x="1456.7" y="633.2" width="39" height="5" fill="#0d0d0d"/>
<rect x="1441.8" y="663" width="68.8" height="5" fill="#0d0d0d"/>
<rect x="1472.2" y="650.9" width="8" height="8" fill="#fff" stroke="#231f20" stroke-width="1.3"/>
<line x1="1476.2" y1="650.9" x2="1476.2" y2="658.9" stroke="#3a3636" stroke-width="1.3" stroke-linecap="butt"/>
<line x1="1476.2" y1="635.7" x2="1476.2" y2="665.5" stroke="#3a3636" stroke-width="1.5" stroke-linecap="butt"/>
<path d="M1550.9 640.2 L1552.2 642.2 L1553 644.3 L1554.2 646.3 L1555.9 648.3 L1558 650.4 L1560.6 652.4 L1563.5 654.4 L1566.7 656.5 L1569.7 658.5 L1572.4 660.5 L1574.4 662.6 L1575.5 664.6 L1575.7 666.6 L1574.9 668.7 L1573.4 670.7 L1571.5 672.7 L1569.7 674.8 L1568.5 676.8 L1568 678.8 L1568.7 680.9 L1570.3 682.9 L1573 684.9 L1576.1 686.9 L1579.4 689 L1582.3 691 L1584.3 693 L1585 695.1 L1584.3 697.1 L1582.2 699.1 L1579 701.2 L1575.1 703.2 L1570.7 705.2 L1566.5 707.3 L1562.6 709.3 L1559.3 711.3 L1556.7 713.4 L1554.7 715.4 L1553.3 717.4 L1552.3 719.5 L1550.9 721.5 L1549.5 719.5 L1548.5 717.4 L1547.1 715.4 L1545.1 713.4 L1542.5 711.3 L1539.2 709.3 L1535.3 707.3 L1531.1 705.2 L1526.7 703.2 L1522.8 701.2 L1519.6 699.1 L1517.5 697.1 L1516.8 695.1 L1517.5 693 L1519.5 691 L1522.4 689 L1525.7 686.9 L1528.8 684.9 L1531.5 682.9 L1533.1 680.9 L1533.8 678.8 L1533.3 676.8 L1532.1 674.8 L1530.3 672.7 L1528.4 670.7 L1526.9 668.7 L1526.1 666.6 L1526.3 664.6 L1527.4 662.6 L1529.4 660.5 L1532.1 658.5 L1535.1 656.5 L1538.3 654.4 L1541.2 652.4 L1543.8 650.4 L1545.9 648.3 L1547.6 646.3 L1548.8 644.3 L1549.6 642.2Z" fill="#fff" stroke="#231f20" stroke-width="1.4" stroke-linejoin="round"/>
<rect x="1542.1" y="663" width="17.7" height="5" fill="#0d0d0d"/>
<rect x="1538.2" y="692.8" width="25.3" height="5" fill="#0d0d0d"/>
<rect x="1546.9" y="679.4" width="8" height="8" fill="#fff" stroke="#231f20" stroke-width="1.3"/>
<line x1="1550.9" y1="679.4" x2="1550.9" y2="687.4" stroke="#3a3636" stroke-width="1.3" stroke-linecap="butt"/>
<line x1="1550.9" y1="665.5" x2="1550.9" y2="695.3" stroke="#3a3636" stroke-width="1.5" stroke-linecap="butt"/>
<path d="M1625.6 433.8 L1625.6 435.8 L1625.6 437.8 L1625.7 439.8 L1625.8 441.8 L1625.9 443.8 L1626 445.8 L1626.1 447.8 L1626.2 449.8 L1626.4 451.9 L1626.6 453.9 L1626.9 455.9 L1627.3 457.9 L1627.8 459.9 L1628.2 461.9 L1628.7 463.9 L1629.1 465.9 L1629.5 467.9 L1629.8 469.9 L1630.1 471.9 L1630.4 473.9 L1630.7 475.9 L1631 477.9 L1631.2 479.9 L1631.4 481.9 L1631.5 483.9 L1631.6 485.9 L1631.6 488 L1631.4 490 L1631.1 492 L1630.7 494 L1630.3 496 L1629.9 498 L1629.5 500 L1629.1 502 L1628.8 504 L1628.6 506 L1628.3 508 L1628 510 L1627.8 512 L1627.5 514 L1627.3 516 L1627.1 518 L1627 520 L1626.9 522.1 L1626.9 524.1 L1626.9 526.1 L1626.9 528.1 L1626.9 530.1 L1626.9 532.1 L1626.9 534.1 L1626.9 536.1 L1626.9 538.1 L1627.1 540.1 L1627.3 542.1 L1627.7 544.1 L1628.1 546.1 L1628.5 548.1 L1629 550.1 L1629.6 552.1 L1630.3 554.1 L1631.2 556.1 L1632.2 558.2 L1633.3 560.2 L1634.3 562.2 L1635.4 564.2 L1636.6 566.2 L1637.9 568.2 L1639.3 570.2 L1640.7 572.2 L1642.1 574.2 L1643.4 576.2 L1644.7 578.2 L1646.1 580.2 L1647.5 582.2 L1648.9 584.2 L1650.2 586.2 L1651.4 588.2 L1652.4 590.2 L1653.4 592.3 L1654.4 594.3 L1655.4 596.3 L1656.3 598.3 L1657.1 600.3 L1657.8 602.3 L1658.4 604.3 L1658.8 606.3 L1659.1 608.3 L1659.5 610.3 L1659.7 612.3 L1659.9 614.3 L1659.9 616.3 L1659.8 618.3 L1659.6 620.3 L1659.4 622.3 L1659 624.3 L1658.6 626.4 L1658.2 628.4 L1657.7 630.4 L1657.2 632.4 L1656.7 634.4 L1656.1 636.4 L1655.4 638.4 L1654.5 640.4 L1653.6 642.4 L1652.6 644.4 L1651.5 646.4 L1650.6 648.4 L1649.7 650.4 L1648.8 652.4 L1647.9 654.4 L1647 656.4 L1646.1 658.4 L1645.3 660.4 L1644.5 662.5 L1643.9 664.5 L1643.3 666.5 L1642.8 668.5 L1642.4 670.5 L1642.1 672.5 L1641.7 674.5 L1641.4 676.5 L1641.1 678.5 L1640.8 680.5 L1640.6 682.5 L1640.3 684.5 L1640.1 686.5 L1639.9 688.5 L1639.7 690.5 L1639.4 692.5 L1639.1 694.5 L1638.7 696.6 L1638.2 698.6 L1637.5 700.6 L1636.7 702.6 L1635.9 704.6 L1635.1 706.6 L1634.4 708.6 L1633.6 710.6 L1632.8 712.6 L1632 714.6 L1631.2 716.6 L1630.4 718.6 L1629.8 720.6 L1629.2 722.6 L1628.6 724.6 L1628.1 726.6 L1627.6 728.6 L1627.2 730.6 L1627 732.7 L1626.7 734.7 L1626.4 736.7 L1626.2 738.7 L1626 740.7 L1625.8 742.7 L1625.7 744.7 L1625.6 746.7 L1625.6 748.7 L1625.6 746.7 L1625.5 744.7 L1625.4 742.7 L1625.2 740.7 L1625 738.7 L1624.8 736.7 L1624.5 734.7 L1624.2 732.7 L1624 730.6 L1623.6 728.6 L1623.1 726.6 L1622.6 724.6 L1622 722.6 L1621.4 720.6 L1620.8 718.6 L1620 716.6 L1619.2 714.6 L1618.4 712.6 L1617.6 710.6 L1616.8 708.6 L1616.1 706.6 L1615.3 704.6 L1614.5 702.6 L1613.7 700.6 L1613 698.6 L1612.5 696.6 L1612.1 694.5 L1611.8 692.5 L1611.5 690.5 L1611.3 688.5 L1611.1 686.5 L1610.9 684.5 L1610.6 682.5 L1610.4 680.5 L1610.1 678.5 L1609.8 676.5 L1609.5 674.5 L1609.1 672.5 L1608.8 670.5 L1608.4 668.5 L1607.9 666.5 L1607.3 664.5 L1606.7 662.5 L1605.9 660.4 L1605.1 658.4 L1604.2 656.4 L1603.3 654.4 L1602.4 652.4 L1601.5 650.4 L1600.6 648.4 L1599.7 646.4 L1598.6 644.4 L1597.6 642.4 L1596.7 640.4 L1595.8 638.4 L1595.1 636.4 L1594.5 634.4 L1594 632.4 L1593.5 630.4 L1593 628.4 L1592.6 626.4 L1592.2 624.3 L1591.8 622.3 L1591.6 620.3 L1591.4 618.3 L1591.3 616.3 L1591.3 614.3 L1591.5 612.3 L1591.7 610.3 L1592.1 608.3 L1592.4 606.3 L1592.8 604.3 L1593.4 602.3 L1594.1 600.3 L1594.9 598.3 L1595.8 596.3 L1596.8 594.3 L1597.8 592.3 L1598.8 590.2 L1599.8 588.2 L1601 586.2 L1602.3 584.2 L1603.7 582.2 L1605.1 580.2 L1606.5 578.2 L1607.8 576.2 L1609.1 574.2 L1610.5 572.2 L1611.9 570.2 L1613.3 568.2 L1614.6 566.2 L1615.8 564.2 L1616.9 562.2 L1617.9 560.2 L1619 558.2 L1620 556.1 L1620.9 554.1 L1621.6 552.1 L1622.2 550.1 L1622.7 548.1 L1623.1 546.1 L1623.5 544.1 L1623.9 542.1 L1624.1 540.1 L1624.3 538.1 L1624.3 536.1 L1624.3 534.1 L1624.3 532.1 L1624.3 530.1 L1624.3 528.1 L1624.3 526.1 L1624.3 524.1 L1624.3 522.1 L1624.2 520 L1624.1 518 L1623.9 516 L1623.7 514 L1623.4 512 L1623.2 510 L1622.9 508 L1622.6 506 L1622.4 504 L1622.1 502 L1621.7 500 L1621.3 498 L1620.9 496 L1620.5 494 L1620.1 492 L1619.8 490 L1619.6 488 L1619.6 485.9 L1619.7 483.9 L1619.8 481.9 L1620 479.9 L1620.2 477.9 L1620.5 475.9 L1620.8 473.9 L1621.1 471.9 L1621.4 469.9 L1621.7 467.9 L1622.1 465.9 L1622.5 463.9 L1623 461.9 L1623.4 459.9 L1623.9 457.9 L1624.3 455.9 L1624.6 453.9 L1624.8 451.9 L1625 449.8 L1625.1 447.8 L1625.2 445.8 L1625.3 443.8 L1625.4 441.8 L1625.5 439.8 L1625.6 437.8 L1625.6 435.8Z" fill="url(#hbd)" stroke="#231f20" stroke-width="1.4" stroke-linejoin="round"/>
<rect x="1622.9" y="483.6" width="5.4" height="5.8" fill="#0d0d0d"/>
<rect x="1623.8" y="573.6" width="3.6" height="5" fill="#0d0d0d"/>
<rect x="1616.9" y="603.4" width="17.5" height="5" fill="#0d0d0d"/>
<rect x="1618.6" y="633.2" width="14" height="5" fill="#0d0d0d"/>
<rect x="1622" y="663" width="7.3" height="5" fill="#0d0d0d"/>
<rect x="1622" y="692.8" width="7.3" height="5" fill="#0d0d0d"/>
<rect x="1621.6" y="619.9" width="8" height="8" fill="#fff" stroke="#231f20" stroke-width="1.3"/>
<line x1="1625.6" y1="619.9" x2="1625.6" y2="627.9" stroke="#3a3636" stroke-width="1.3" stroke-linecap="butt"/>
<line x1="1625.6" y1="576.1" x2="1625.6" y2="695.3" stroke="#3a3636" stroke-width="1.5" stroke-linecap="butt"/>
<path d="M1700.1 537.4 L1700.2 539.4 L1700.4 541.4 L1700.6 543.4 L1700.9 545.4 L1701.3 547.4 L1701.7 549.5 L1702.2 551.5 L1703 553.5 L1703.9 555.5 L1704.8 557.5 L1705.7 559.5 L1706.3 561.5 L1706.8 563.5 L1707.3 565.5 L1707.7 567.5 L1708.1 569.6 L1708.4 571.6 L1708.6 573.6 L1708.7 575.6 L1708.7 577.6 L1708.6 579.6 L1708.5 581.6 L1708.4 583.6 L1708.3 585.6 L1708.2 587.6 L1708.2 589.7 L1708.3 591.7 L1708.7 593.7 L1709.2 595.7 L1709.7 597.7 L1710.2 599.7 L1710.7 601.7 L1711.3 603.7 L1712 605.7 L1712.9 607.7 L1714 609.7 L1715.3 611.8 L1716.7 613.8 L1718.4 615.8 L1720.4 617.8 L1722.7 619.8 L1724.8 621.8 L1726.7 623.8 L1728.2 625.8 L1729.9 627.8 L1731.4 629.8 L1732.6 631.9 L1733.4 633.9 L1733.6 635.9 L1733.4 637.9 L1733 639.9 L1732.6 641.9 L1732.1 643.9 L1731.8 645.9 L1731.6 647.9 L1731.4 649.9 L1731.3 651.9 L1731.3 654 L1731.9 656 L1732.7 658 L1733.5 660 L1734 662 L1734 664 L1733.5 666 L1732.7 668 L1731.6 670 L1730.4 672 L1729 674.1 L1726.8 676.1 L1724.2 678.1 L1721.5 680.1 L1718.9 682.1 L1716.5 684.1 L1714 686.1 L1711.5 688.1 L1709.3 690.1 L1707.3 692.1 L1705.5 694.2 L1704 696.2 L1702.7 698.2 L1701.6 700.2 L1700.8 702.2 L1700.1 704.2 L1699.4 702.2 L1698.6 700.2 L1697.5 698.2 L1696.2 696.2 L1694.7 694.2 L1692.9 692.1 L1690.9 690.1 L1688.7 688.1 L1686.2 686.1 L1683.7 684.1 L1681.3 682.1 L1678.7 680.1 L1676 678.1 L1673.4 676.1 L1671.2 674.1 L1669.8 672 L1668.6 670 L1667.5 668 L1666.7 666 L1666.2 664 L1666.2 662 L1666.7 660 L1667.5 658 L1668.3 656 L1668.9 654 L1668.9 651.9 L1668.8 649.9 L1668.6 647.9 L1668.4 645.9 L1668.1 643.9 L1667.6 641.9 L1667.2 639.9 L1666.8 637.9 L1666.6 635.9 L1666.8 633.9 L1667.6 631.9 L1668.8 629.8 L1670.3 627.8 L1672 625.8 L1673.5 623.8 L1675.4 621.8 L1677.5 619.8 L1679.8 617.8 L1681.8 615.8 L1683.5 613.8 L1684.9 611.8 L1686.2 609.7 L1687.3 607.7 L1688.2 605.7 L1688.9 603.7 L1689.5 601.7 L1690 599.7 L1690.5 597.7 L1691 595.7 L1691.5 593.7 L1691.9 591.7 L1692 589.7 L1692 587.6 L1691.9 585.6 L1691.8 583.6 L1691.7 581.6 L1691.6 579.6 L1691.5 577.6 L1691.5 575.6 L1691.6 573.6 L1691.8 571.6 L1692.1 569.6 L1692.5 567.5 L1692.9 565.5 L1693.4 563.5 L1693.9 561.5 L1694.5 559.5 L1695.4 557.5 L1696.3 555.5 L1697.2 553.5 L1698 551.5 L1698.5 549.5 L1698.9 547.4 L1699.3 545.4 L1699.6 543.4 L1699.8 541.4 L1700 539.4Z" fill="url(#hkd)" stroke="#231f20" stroke-width="1.4" stroke-linejoin="round"/>
<rect x="1697.4" y="573.4" width="5.4" height="5.8" fill="#0d0d0d"/>
<rect x="1698.5" y="603.4" width="3.2" height="5" fill="#0d0d0d"/>
<rect x="1693.2" y="633.2" width="13.8" height="5" fill="#0d0d0d"/>
<rect x="1693.2" y="663" width="13.8" height="5" fill="#0d0d0d"/>
<rect x="1696.1" y="635" width="8" height="8" fill="#fff" stroke="#231f20" stroke-width="1.3"/>
<line x1="1700.1" y1="635" x2="1700.1" y2="643" stroke="#3a3636" stroke-width="1.3" stroke-linecap="butt"/>
<line x1="1700.1" y1="605.9" x2="1700.1" y2="665.5" stroke="#3a3636" stroke-width="1.5" stroke-linecap="butt"/>
<text transform="translate(1449,605.3) scale(0.9579,1)" font-size="43" style="stroke:#0a0a0a;stroke-width:0.9px">***</text>
<text transform="translate(1524.6,627.6) scale(0.9579,1)" font-size="43" style="stroke:#0a0a0a;stroke-width:0.9px">***</text>
<text class="nb" transform="translate(1377.9,841.2) rotate(-45) scale(0.84,1)" font-size="37" font-weight="bold">+/+</text>
<text class="nb" transform="translate(1425.8,880.5) rotate(-45) scale(0.84,1)" font-size="37" font-weight="bold">RH/RH</text>
<g transform="translate(1562.2,812.3) rotate(-45)">
<text class="nb" transform="translate(-34.8,0) scale(0.84,1)" font-size="37" font-weight="bold"><tspan dy="-6.5">-</tspan><tspan dy="6.5" dx="4">/</tspan><tspan dy="-6.5" dx="3.2">-</tspan></text>
<rect x="-36.1" y="-18.5" width="12.2" height="7.6" fill="#000"/>
<rect x="-12.2" y="-18.5" width="12.2" height="7.6" fill="#000"/>
</g>
<text class="nb" transform="translate(1583.5,862) rotate(-45) scale(0.84,1)" font-size="37" font-weight="bold">+/RH</text>
<g transform="translate(1713.7,807.6) rotate(-45)">
<text class="nb" transform="translate(-40.5,0) scale(0.84,1)" font-size="37" font-weight="bold">+/<tspan dy="-6.5" dx="3.2">-</tspan></text>
<rect x="-12.2" y="-18.5" width="12.2" height="7.6" fill="#000"/>
</g>
<text transform="translate(4.2,978.2) scale(1.0222,1)" font-size="62" font-weight="bold">e.</text>
<line x1="129.6" y1="1010.1" x2="129.6" y2="1406.1" stroke="#0d0d0d" stroke-width="3" stroke-linecap="butt"/>
<line x1="128.1" y1="1404.6" x2="507" y2="1404.6" stroke="#0d0d0d" stroke-width="3" stroke-linecap="butt"/>
<line x1="125" y1="1028.9" x2="129.6" y2="1028.9" stroke="#231f20" stroke-width="2.6" stroke-linecap="butt"/>
<text transform="translate(65.5,1044.5) scale(0.7850,1)" font-size="36.3" class="nr">400</text>
<line x1="125" y1="1108.1" x2="129.6" y2="1108.1" stroke="#231f20" stroke-width="2.6" stroke-linecap="butt"/>
<text transform="translate(65.5,1121.1) scale(0.7850,1)" font-size="36.3" class="nr">300</text>
<line x1="125" y1="1187.7" x2="129.6" y2="1187.7" stroke="#231f20" stroke-width="2.6" stroke-linecap="butt"/>
<text transform="translate(65.5,1201.7) scale(0.7850,1)" font-size="36.3" class="nr">200</text>
<line x1="125" y1="1267.3" x2="129.6" y2="1267.3" stroke="#231f20" stroke-width="2.6" stroke-linecap="butt"/>
<text transform="translate(65.5,1282.6) scale(0.7850,1)" font-size="36.3" class="nr">100</text>
<line x1="125" y1="1346.9" x2="129.6" y2="1346.9" stroke="#231f20" stroke-width="2.6" stroke-linecap="butt"/>
<text transform="translate(99.8,1364.1) scale(0.7850,1)" font-size="36.3" class="nr">0</text>
<line x1="173.1" y1="1404.6" x2="173.1" y2="1410.4" stroke="#231f20" stroke-width="2" stroke-linecap="butt"/>
<line x1="245.5" y1="1404.6" x2="245.5" y2="1410.4" stroke="#231f20" stroke-width="2" stroke-linecap="butt"/>
<line x1="317.8" y1="1404.6" x2="317.8" y2="1410.4" stroke="#231f20" stroke-width="2" stroke-linecap="butt"/>
<line x1="390.4" y1="1404.6" x2="390.4" y2="1410.4" stroke="#231f20" stroke-width="2" stroke-linecap="butt"/>
<line x1="462.8" y1="1404.6" x2="462.8" y2="1410.4" stroke="#231f20" stroke-width="2" stroke-linecap="butt"/>
<text class="nb" transform="translate(35.8,1370.3) rotate(-90) scale(0.8164,1)" font-size="36" font-weight="bold">Burst Frequency (Hz)</text>
<path d="M173.1 1044.1 L173.1 1046.1 L173.2 1048.1 L173.2 1050.1 L173.3 1052.1 L173.4 1054.1 L173.6 1056.1 L173.7 1058.1 L173.9 1060.1 L174 1062.2 L174.3 1064.2 L174.6 1066.2 L175.1 1068.2 L175.6 1070.2 L176.1 1072.2 L176.7 1074.2 L177.4 1076.2 L178.2 1078.2 L179.1 1080.2 L180.1 1082.2 L181 1084.2 L181.9 1086.2 L182.6 1088.2 L183.4 1090.2 L184.1 1092.3 L184.7 1094.3 L185.2 1096.3 L185.6 1098.3 L186.1 1100.3 L186.3 1102.3 L186.3 1104.3 L186.1 1106.3 L185.7 1108.3 L185.3 1110.3 L185 1112.3 L184.6 1114.3 L184.2 1116.3 L183.8 1118.3 L183.4 1120.3 L183.2 1122.3 L183.2 1124.4 L183.4 1126.4 L183.8 1128.4 L184.3 1130.4 L184.9 1132.4 L185.6 1134.4 L186.4 1136.4 L187.6 1138.4 L188.9 1140.4 L190.2 1142.4 L191.5 1144.4 L192.9 1146.4 L194.4 1148.4 L195.9 1150.4 L197.5 1152.4 L198.9 1154.5 L200.2 1156.5 L201.3 1158.5 L202.5 1160.5 L203.5 1162.5 L204.4 1164.5 L205.1 1166.5 L205.6 1168.5 L206 1170.5 L206.3 1172.5 L206.5 1174.5 L206.6 1176.5 L206.5 1178.5 L206.2 1180.5 L205.9 1182.5 L205.4 1184.5 L204.9 1186.6 L204.1 1188.6 L203.1 1190.6 L202 1192.6 L200.9 1194.6 L199.9 1196.6 L199 1198.6 L198.2 1200.6 L197.5 1202.6 L196.8 1204.6 L196.1 1206.6 L195.4 1208.6 L194.8 1210.6 L194.2 1212.6 L193.6 1214.6 L193.1 1216.7 L192.5 1218.7 L192.1 1220.7 L191.7 1222.7 L191.5 1224.7 L191.3 1226.7 L191.2 1228.7 L191.1 1230.7 L191 1232.7 L190.9 1234.7 L190.7 1236.7 L190.4 1238.7 L190 1240.7 L189.5 1242.7 L189 1244.7 L188.4 1246.8 L187.6 1248.8 L186.7 1250.8 L185.8 1252.8 L184.8 1254.8 L183.8 1256.8 L182.9 1258.8 L182 1260.8 L181.2 1262.8 L180.3 1264.8 L179.5 1266.8 L178.7 1268.8 L178 1270.8 L177.4 1272.8 L176.8 1274.8 L176.3 1276.8 L175.8 1278.9 L175.5 1280.9 L175.3 1282.9 L175.2 1284.9 L175.1 1286.9 L175 1288.9 L174.9 1290.9 L174.9 1292.9 L174.9 1294.9 L174.9 1296.9 L175 1298.9 L175 1300.9 L175.1 1302.9 L175.2 1304.9 L175.3 1306.9 L175.4 1309 L175.5 1311 L175.6 1313 L175.6 1315 L175.5 1317 L175.4 1319 L175.2 1321 L175.1 1323 L174.9 1325 L174.8 1327 L174.7 1329 L174.5 1331 L174.4 1333 L174.3 1335 L174.1 1337 L174 1339 L173.9 1341.1 L173.9 1343.1 L173.8 1345.1 L173.7 1347.1 L173.6 1349.1 L173.5 1351.1 L173.5 1353.1 L173.4 1355.1 L173.3 1357.1 L173.3 1359.1 L173.2 1361.1 L173.2 1363.1 L173.2 1365.1 L173.1 1367.1 L173.1 1369.1 L173.1 1367.1 L173 1365.1 L173 1363.1 L173 1361.1 L172.9 1359.1 L172.9 1357.1 L172.8 1355.1 L172.7 1353.1 L172.7 1351.1 L172.6 1349.1 L172.5 1347.1 L172.4 1345.1 L172.3 1343.1 L172.3 1341.1 L172.2 1339 L172.1 1337 L171.9 1335 L171.8 1333 L171.7 1331 L171.5 1329 L171.4 1327 L171.3 1325 L171.1 1323 L171 1321 L170.8 1319 L170.7 1317 L170.6 1315 L170.6 1313 L170.7 1311 L170.8 1309 L170.9 1306.9 L171 1304.9 L171.1 1302.9 L171.2 1300.9 L171.2 1298.9 L171.3 1296.9 L171.3 1294.9 L171.3 1292.9 L171.3 1290.9 L171.2 1288.9 L171.1 1286.9 L171 1284.9 L170.9 1282.9 L170.7 1280.9 L170.4 1278.9 L169.9 1276.8 L169.4 1274.8 L168.8 1272.8 L168.2 1270.8 L167.5 1268.8 L166.7 1266.8 L165.9 1264.8 L165 1262.8 L164.2 1260.8 L163.3 1258.8 L162.4 1256.8 L161.4 1254.8 L160.4 1252.8 L159.5 1250.8 L158.6 1248.8 L157.8 1246.8 L157.2 1244.7 L156.7 1242.7 L156.2 1240.7 L155.8 1238.7 L155.5 1236.7 L155.3 1234.7 L155.2 1232.7 L155.1 1230.7 L155 1228.7 L154.9 1226.7 L154.7 1224.7 L154.5 1222.7 L154.1 1220.7 L153.7 1218.7 L153.1 1216.7 L152.6 1214.6 L152 1212.6 L151.4 1210.6 L150.8 1208.6 L150.1 1206.6 L149.4 1204.6 L148.7 1202.6 L148 1200.6 L147.2 1198.6 L146.3 1196.6 L145.3 1194.6 L144.2 1192.6 L143.1 1190.6 L142.1 1188.6 L141.3 1186.6 L140.8 1184.5 L140.3 1182.5 L140 1180.5 L139.7 1178.5 L139.6 1176.5 L139.7 1174.5 L139.9 1172.5 L140.2 1170.5 L140.6 1168.5 L141.1 1166.5 L141.8 1164.5 L142.7 1162.5 L143.7 1160.5 L144.9 1158.5 L146 1156.5 L147.3 1154.5 L148.7 1152.4 L150.3 1150.4 L151.8 1148.4 L153.3 1146.4 L154.7 1144.4 L156 1142.4 L157.3 1140.4 L158.6 1138.4 L159.8 1136.4 L160.6 1134.4 L161.3 1132.4 L161.9 1130.4 L162.4 1128.4 L162.8 1126.4 L163 1124.4 L163 1122.3 L162.8 1120.3 L162.4 1118.3 L162 1116.3 L161.6 1114.3 L161.2 1112.3 L160.9 1110.3 L160.5 1108.3 L160.1 1106.3 L159.9 1104.3 L159.9 1102.3 L160.1 1100.3 L160.6 1098.3 L161 1096.3 L161.5 1094.3 L162.1 1092.3 L162.8 1090.2 L163.6 1088.2 L164.3 1086.2 L165.2 1084.2 L166.1 1082.2 L167.1 1080.2 L168 1078.2 L168.8 1076.2 L169.5 1074.2 L170.1 1072.2 L170.6 1070.2 L171.1 1068.2 L171.6 1066.2 L171.9 1064.2 L172.2 1062.2 L172.3 1060.1 L172.5 1058.1 L172.6 1056.1 L172.8 1054.1 L172.9 1052.1 L173 1050.1 L173 1048.1 L173.1 1046.1Z" fill="#dc2a24" stroke="#231f20" stroke-width="1.4" stroke-linejoin="round"/>
<rect x="161.5" y="1100.1" width="5.4" height="5.8" fill="#0d0d0d"/>
<rect x="167.4" y="1100.1" width="5.4" height="5.8" fill="#0d0d0d"/>
<rect x="173.3" y="1100.1" width="5.4" height="5.8" fill="#0d0d0d"/>
<rect x="179.2" y="1100.1" width="5.4" height="5.8" fill="#0d0d0d"/>
<rect x="167.4" y="1145.8" width="5.4" height="5.8" fill="#0d0d0d"/>
<rect x="173.3" y="1145.8" width="5.4" height="5.8" fill="#0d0d0d"/>
<rect x="167.4" y="1160" width="5.4" height="5.8" fill="#0d0d0d"/>
<rect x="173.3" y="1160" width="5.4" height="5.8" fill="#0d0d0d"/>
<rect x="152.7" y="1173.6" width="5.4" height="5.8" fill="#0d0d0d"/>
<rect x="158.6" y="1173.6" width="5.4" height="5.8" fill="#0d0d0d"/>
<rect x="164.5" y="1173.6" width="5.4" height="5.8" fill="#0d0d0d"/>
<rect x="170.4" y="1173.6" width="5.4" height="5.8" fill="#0d0d0d"/>
<rect x="176.3" y="1173.6" width="5.4" height="5.8" fill="#0d0d0d"/>
<rect x="182.2" y="1173.6" width="5.4" height="5.8" fill="#0d0d0d"/>
<rect x="188.1" y="1173.6" width="5.4" height="5.8" fill="#0d0d0d"/>
<rect x="164.5" y="1193.6" width="5.4" height="5.8" fill="#0d0d0d"/>
<rect x="170.4" y="1193.6" width="5.4" height="5.8" fill="#0d0d0d"/>
<rect x="176.3" y="1193.6" width="5.4" height="5.8" fill="#0d0d0d"/>
<rect x="167.4" y="1211.4" width="5.4" height="5.8" fill="#0d0d0d"/>
<rect x="173.3" y="1211.4" width="5.4" height="5.8" fill="#0d0d0d"/>
<rect x="170.4" y="1224.8" width="5.4" height="5.8" fill="#0d0d0d"/>
<rect x="161.5" y="1242.6" width="5.4" height="5.8" fill="#0d0d0d"/>
<rect x="167.4" y="1242.6" width="5.4" height="5.8" fill="#0d0d0d"/>
<rect x="173.3" y="1242.6" width="5.4" height="5.8" fill="#0d0d0d"/>
<rect x="179.2" y="1242.6" width="5.4" height="5.8" fill="#0d0d0d"/>
<rect x="170.4" y="1310.7" width="5.4" height="5.8" fill="#0d0d0d"/>
<rect x="169.1" y="1181.1" width="8" height="8" fill="#fff" stroke="#231f20" stroke-width="1.3"/>
<line x1="173.1" y1="1181.1" x2="173.1" y2="1189.1" stroke="#3a3636" stroke-width="1.3" stroke-linecap="butt"/>
<line x1="173.1" y1="1103" x2="173.1" y2="1249" stroke="#3a3636" stroke-width="1.5" stroke-linecap="butt"/>
<path d="M245.5 1093.4 L245.5 1095.4 L245.5 1097.4 L245.6 1099.5 L245.6 1101.5 L245.7 1103.5 L245.7 1105.5 L245.8 1107.5 L245.9 1109.5 L246 1111.5 L246.1 1113.5 L246.3 1115.5 L246.5 1117.6 L246.9 1119.6 L247.3 1121.6 L247.8 1123.6 L248.3 1125.6 L248.9 1127.6 L249.7 1129.6 L250.6 1131.6 L251.6 1133.6 L252.5 1135.7 L253.5 1137.7 L254.5 1139.7 L255.5 1141.7 L256.5 1143.7 L257.6 1145.7 L258.5 1147.7 L259.5 1149.7 L260.5 1151.7 L261.4 1153.8 L262.4 1155.8 L263.4 1157.8 L264.3 1159.8 L265.3 1161.8 L266.3 1163.8 L267.2 1165.8 L268 1167.8 L268.9 1169.8 L269.7 1171.8 L270.5 1173.9 L271.2 1175.9 L271.9 1177.9 L272.5 1179.9 L273 1181.9 L273.5 1183.9 L274 1185.9 L274.4 1187.9 L274.9 1189.9 L275.3 1192 L275.8 1194 L276.2 1196 L276.5 1198 L276.8 1200 L277.1 1202 L277.4 1204 L277.6 1206 L277.8 1208 L278 1210.1 L278.1 1212.1 L278.3 1214.1 L278.4 1216.1 L278.5 1218.1 L278.6 1220.1 L278.6 1222.1 L278.6 1224.1 L278.6 1226.1 L278.5 1228.2 L278.4 1230.2 L278.3 1232.2 L278.2 1234.2 L278.1 1236.2 L277.9 1238.2 L277.7 1240.2 L277.4 1242.2 L277.1 1244.2 L276.7 1246.3 L276.4 1248.3 L276 1250.3 L275.5 1252.3 L274.9 1254.3 L274.3 1256.3 L273.6 1258.3 L273 1260.3 L272.3 1262.3 L271.5 1264.4 L270.6 1266.4 L269.7 1268.4 L268.8 1270.4 L267.9 1272.4 L266.9 1274.4 L265.9 1276.4 L264.8 1278.4 L263.7 1280.4 L262.8 1282.4 L261.9 1284.5 L261.2 1286.5 L260.4 1288.5 L259.8 1290.5 L259.2 1292.5 L258.7 1294.5 L258.2 1296.5 L257.7 1298.5 L257.3 1300.5 L257 1302.6 L256.6 1304.6 L256.4 1306.6 L256.2 1308.6 L256 1310.6 L255.8 1312.6 L255.6 1314.6 L255.4 1316.6 L255.2 1318.6 L254.8 1320.7 L254.5 1322.7 L254.1 1324.7 L253.7 1326.7 L253.2 1328.7 L252.8 1330.7 L252.3 1332.7 L251.8 1334.7 L251.3 1336.7 L250.7 1338.8 L250.2 1340.8 L249.7 1342.8 L249.3 1344.8 L248.9 1346.8 L248.5 1348.8 L248.1 1350.8 L247.7 1352.8 L247.4 1354.8 L247.1 1356.9 L246.9 1358.9 L246.7 1360.9 L246.5 1362.9 L246.4 1364.9 L246.2 1366.9 L246.1 1368.9 L246 1370.9 L245.9 1372.9 L245.8 1374.9 L245.7 1377 L245.6 1379 L245.6 1381 L245.5 1383 L245.5 1385 L245.5 1383 L245.4 1381 L245.4 1379 L245.3 1377 L245.2 1374.9 L245.1 1372.9 L245 1370.9 L244.9 1368.9 L244.8 1366.9 L244.6 1364.9 L244.5 1362.9 L244.3 1360.9 L244.1 1358.9 L243.9 1356.9 L243.6 1354.8 L243.3 1352.8 L242.9 1350.8 L242.5 1348.8 L242.1 1346.8 L241.7 1344.8 L241.3 1342.8 L240.8 1340.8 L240.3 1338.8 L239.7 1336.7 L239.2 1334.7 L238.7 1332.7 L238.2 1330.7 L237.8 1328.7 L237.3 1326.7 L236.9 1324.7 L236.5 1322.7 L236.2 1320.7 L235.8 1318.6 L235.6 1316.6 L235.4 1314.6 L235.2 1312.6 L235 1310.6 L234.8 1308.6 L234.6 1306.6 L234.4 1304.6 L234 1302.6 L233.7 1300.5 L233.3 1298.5 L232.8 1296.5 L232.3 1294.5 L231.8 1292.5 L231.2 1290.5 L230.6 1288.5 L229.8 1286.5 L229.1 1284.5 L228.2 1282.4 L227.3 1280.4 L226.2 1278.4 L225.1 1276.4 L224.1 1274.4 L223.1 1272.4 L222.2 1270.4 L221.3 1268.4 L220.4 1266.4 L219.5 1264.4 L218.7 1262.3 L218 1260.3 L217.4 1258.3 L216.7 1256.3 L216.1 1254.3 L215.5 1252.3 L215 1250.3 L214.6 1248.3 L214.3 1246.3 L213.9 1244.2 L213.6 1242.2 L213.3 1240.2 L213.1 1238.2 L212.9 1236.2 L212.8 1234.2 L212.7 1232.2 L212.6 1230.2 L212.5 1228.2 L212.4 1226.1 L212.4 1224.1 L212.4 1222.1 L212.4 1220.1 L212.5 1218.1 L212.6 1216.1 L212.7 1214.1 L212.9 1212.1 L213 1210.1 L213.2 1208 L213.4 1206 L213.6 1204 L213.9 1202 L214.2 1200 L214.5 1198 L214.8 1196 L215.2 1194 L215.7 1192 L216.1 1189.9 L216.6 1187.9 L217 1185.9 L217.5 1183.9 L218 1181.9 L218.5 1179.9 L219.1 1177.9 L219.8 1175.9 L220.5 1173.9 L221.3 1171.8 L222.1 1169.8 L223 1167.8 L223.8 1165.8 L224.7 1163.8 L225.7 1161.8 L226.7 1159.8 L227.6 1157.8 L228.6 1155.8 L229.6 1153.8 L230.5 1151.7 L231.5 1149.7 L232.5 1147.7 L233.4 1145.7 L234.5 1143.7 L235.5 1141.7 L236.5 1139.7 L237.5 1137.7 L238.5 1135.7 L239.4 1133.6 L240.4 1131.6 L241.3 1129.6 L242.1 1127.6 L242.7 1125.6 L243.2 1123.6 L243.7 1121.6 L244.1 1119.6 L244.5 1117.6 L244.7 1115.5 L244.9 1113.5 L245 1111.5 L245.1 1109.5 L245.2 1107.5 L245.3 1105.5 L245.3 1103.5 L245.4 1101.5 L245.4 1099.5 L245.5 1097.4 L245.5 1095.4Z" fill="#4f58ab" stroke="#231f20" stroke-width="1.4" stroke-linejoin="round"/>
<rect x="242.8" y="1152.5" width="5.4" height="5.8" fill="#0d0d0d"/>
<rect x="231" y="1175.4" width="5.4" height="5.8" fill="#0d0d0d"/>
<rect x="236.9" y="1175.4" width="5.4" height="5.8" fill="#0d0d0d"/>
<rect x="242.8" y="1175.4" width="5.4" height="5.8" fill="#0d0d0d"/>
<rect x="248.7" y="1175.4" width="5.4" height="5.8" fill="#0d0d0d"/>
<rect x="254.6" y="1175.4" width="5.4" height="5.8" fill="#0d0d0d"/>
<rect x="239.8" y="1195.9" width="5.4" height="5.8" fill="#0d0d0d"/>
<rect x="245.8" y="1195.9" width="5.4" height="5.8" fill="#0d0d0d"/>
<rect x="233.9" y="1207.2" width="5.4" height="5.8" fill="#0d0d0d"/>
<rect x="239.8" y="1207.2" width="5.4" height="5.8" fill="#0d0d0d"/>
<rect x="245.8" y="1207.2" width="5.4" height="5.8" fill="#0d0d0d"/>
<rect x="251.6" y="1207.2" width="5.4" height="5.8" fill="#0d0d0d"/>
<rect x="233.9" y="1220.9" width="5.4" height="5.8" fill="#0d0d0d"/>
<rect x="239.8" y="1220.9" width="5.4" height="5.8" fill="#0d0d0d"/>
<rect x="245.8" y="1220.9" width="5.4" height="5.8" fill="#0d0d0d"/>
<rect x="251.6" y="1220.9" width="5.4" height="5.8" fill="#0d0d0d"/>
<rect x="231" y="1245.9" width="5.4" height="5.8" fill="#0d0d0d"/>
<rect x="236.9" y="1245.9" width="5.4" height="5.8" fill="#0d0d0d"/>
<rect x="242.8" y="1245.9" width="5.4" height="5.8" fill="#0d0d0d"/>
<rect x="248.7" y="1245.9" width="5.4" height="5.8" fill="#0d0d0d"/>
<rect x="254.6" y="1245.9" width="5.4" height="5.8" fill="#0d0d0d"/>
<rect x="233.9" y="1261.8" width="5.4" height="5.8" fill="#0d0d0d"/>
<rect x="239.8" y="1261.8" width="5.4" height="5.8" fill="#0d0d0d"/>
<rect x="245.8" y="1261.8" width="5.4" height="5.8" fill="#0d0d0d"/>
<rect x="251.6" y="1261.8" width="5.4" height="5.8" fill="#0d0d0d"/>
<rect x="242.8" y="1284.9" width="5.4" height="5.8" fill="#0d0d0d"/>
<rect x="236.9" y="1315.5" width="5.4" height="5.8" fill="#0d0d0d"/>
<rect x="242.8" y="1315.5" width="5.4" height="5.8" fill="#0d0d0d"/>
<rect x="248.7" y="1315.5" width="5.4" height="5.8" fill="#0d0d0d"/>
<rect x="241.5" y="1227.7" width="8" height="8" fill="#fff" stroke="#231f20" stroke-width="1.3"/>
<line x1="245.5" y1="1227.7" x2="245.5" y2="1235.7" stroke="#3a3636" stroke-width="1.3" stroke-linecap="butt"/>
<line x1="245.5" y1="1155.4" x2="245.5" y2="1322.5" stroke="#3a3636" stroke-width="1.5" stroke-linecap="butt"/>
<path d="M317.8 1298.1 L320.3 1300.2 L324.7 1302.2 L329 1304.3 L326.7 1306.4 L322.5 1308.4 L319.5 1310.5 L318.4 1312.6 L318.3 1314.6 L318.3 1316.7 L318.3 1318.8 L318.3 1320.8 L318.4 1322.9 L318.8 1325 L320.9 1327.1 L325.2 1329.1 L333 1331.2 L344.2 1333.3 L350 1335.3 L339.6 1337.4 L327.6 1339.5 L320.6 1341.5 L317.8 1343.6 L315 1341.5 L308 1339.5 L296 1337.4 L285.6 1335.3 L291.4 1333.3 L302.6 1331.2 L310.4 1329.1 L314.7 1327.1 L316.8 1325 L317.2 1322.9 L317.3 1320.8 L317.3 1318.8 L317.3 1316.7 L317.3 1314.6 L317.2 1312.6 L316.1 1310.5 L313.1 1308.4 L308.9 1306.4 L306.6 1304.3 L310.9 1302.2 L315.3 1300.2Z" fill="#fff" stroke="#231f20" stroke-width="1.4" stroke-linejoin="round"/>
<rect x="315.1" y="1301.9" width="5.4" height="5.8" fill="#0d0d0d"/>
<rect x="306.2" y="1331" width="5.4" height="5.8" fill="#0d0d0d"/>
<rect x="312.1" y="1331" width="5.4" height="5.8" fill="#0d0d0d"/>
<rect x="318.1" y="1331" width="5.4" height="5.8" fill="#0d0d0d"/>
<rect x="323.9" y="1331" width="5.4" height="5.8" fill="#0d0d0d"/>
<rect x="313.8" y="1323.7" width="8" height="8" fill="#fff" stroke="#231f20" stroke-width="1.3"/>
<line x1="317.8" y1="1323.7" x2="317.8" y2="1331.7" stroke="#3a3636" stroke-width="1.3" stroke-linecap="butt"/>
<line x1="317.8" y1="1304.8" x2="317.8" y2="1327" stroke="#3a3636" stroke-width="1.5" stroke-linecap="butt"/>
<path d="M390.4 1094.6 L390.5 1096.6 L390.6 1098.6 L390.8 1100.6 L391.1 1102.6 L391.5 1104.6 L391.9 1106.6 L392.4 1108.6 L393.4 1110.6 L394.6 1112.6 L395.9 1114.6 L397.4 1116.6 L399.2 1118.6 L401.2 1120.6 L403 1122.6 L404.5 1124.6 L405.5 1126.6 L406.5 1128.6 L407.3 1130.6 L407.9 1132.6 L408.3 1134.6 L408.4 1136.6 L408.4 1138.6 L408.4 1140.6 L408.4 1142.6 L408.4 1144.6 L408.6 1146.6 L409.2 1148.6 L410.1 1150.6 L411 1152.6 L412.1 1154.6 L413.6 1156.6 L415.3 1158.6 L416.9 1160.6 L418.4 1162.6 L419.9 1164.6 L421.3 1166.6 L422.3 1168.6 L422.9 1170.6 L423.3 1172.6 L423.5 1174.6 L423.3 1176.6 L422.6 1178.6 L421.7 1180.6 L420.3 1182.6 L418.2 1184.6 L415.8 1186.6 L413.4 1188.6 L411 1190.6 L408.4 1192.6 L406 1194.6 L403.9 1196.6 L402.4 1198.6 L401 1200.6 L399.9 1202.6 L399 1204.6 L398.3 1206.6 L397.7 1208.6 L397.2 1210.6 L396.8 1212.6 L396.4 1214.6 L396.1 1216.6 L395.8 1218.6 L395.5 1220.6 L395.3 1222.6 L395.2 1224.6 L395.3 1226.6 L395.4 1228.6 L395.6 1230.6 L395.8 1232.6 L395.9 1234.6 L396.1 1236.6 L396.4 1238.6 L396.6 1240.6 L396.8 1242.6 L396.9 1244.6 L396.8 1246.6 L396.6 1248.6 L396.2 1250.6 L395.8 1252.6 L395.4 1254.6 L395.2 1256.6 L395.1 1258.6 L395.1 1260.6 L395 1262.6 L395 1264.6 L395 1266.6 L395.2 1268.6 L395.7 1270.6 L396.1 1272.6 L396.3 1274.6 L396.5 1276.6 L396.5 1278.6 L396.6 1280.6 L396.6 1282.6 L396.5 1284.6 L396.3 1286.6 L396 1288.6 L395.6 1290.6 L395.1 1292.6 L394.6 1294.6 L393.9 1296.6 L393.3 1298.6 L392.9 1300.6 L392.4 1302.6 L392 1304.6 L391.6 1306.6 L391.4 1308.6 L391.1 1310.6 L390.9 1312.6 L390.7 1314.6 L390.5 1316.6 L390.4 1318.6 L390.3 1316.6 L390.1 1314.6 L389.9 1312.6 L389.7 1310.6 L389.4 1308.6 L389.2 1306.6 L388.8 1304.6 L388.4 1302.6 L387.9 1300.6 L387.5 1298.6 L386.9 1296.6 L386.2 1294.6 L385.7 1292.6 L385.2 1290.6 L384.8 1288.6 L384.5 1286.6 L384.3 1284.6 L384.2 1282.6 L384.2 1280.6 L384.3 1278.6 L384.3 1276.6 L384.5 1274.6 L384.7 1272.6 L385.1 1270.6 L385.6 1268.6 L385.8 1266.6 L385.8 1264.6 L385.8 1262.6 L385.7 1260.6 L385.7 1258.6 L385.6 1256.6 L385.4 1254.6 L385 1252.6 L384.6 1250.6 L384.2 1248.6 L384 1246.6 L383.9 1244.6 L384 1242.6 L384.2 1240.6 L384.4 1238.6 L384.7 1236.6 L384.9 1234.6 L385 1232.6 L385.2 1230.6 L385.4 1228.6 L385.5 1226.6 L385.6 1224.6 L385.5 1222.6 L385.3 1220.6 L385 1218.6 L384.7 1216.6 L384.4 1214.6 L384 1212.6 L383.6 1210.6 L383.1 1208.6 L382.5 1206.6 L381.8 1204.6 L380.9 1202.6 L379.8 1200.6 L378.4 1198.6 L376.9 1196.6 L374.8 1194.6 L372.4 1192.6 L369.8 1190.6 L367.4 1188.6 L365 1186.6 L362.6 1184.6 L360.5 1182.6 L359.1 1180.6 L358.2 1178.6 L357.5 1176.6 L357.3 1174.6 L357.5 1172.6 L357.9 1170.6 L358.5 1168.6 L359.5 1166.6 L360.9 1164.6 L362.4 1162.6 L363.9 1160.6 L365.5 1158.6 L367.2 1156.6 L368.7 1154.6 L369.8 1152.6 L370.7 1150.6 L371.6 1148.6 L372.2 1146.6 L372.4 1144.6 L372.4 1142.6 L372.4 1140.6 L372.4 1138.6 L372.4 1136.6 L372.5 1134.6 L372.9 1132.6 L373.5 1130.6 L374.3 1128.6 L375.3 1126.6 L376.3 1124.6 L377.8 1122.6 L379.6 1120.6 L381.6 1118.6 L383.4 1116.6 L384.9 1114.6 L386.2 1112.6 L387.4 1110.6 L388.4 1108.6 L388.9 1106.6 L389.3 1104.6 L389.7 1102.6 L390 1100.6 L390.2 1098.6 L390.3 1096.6Z" fill="url(#hb)" stroke="#231f20" stroke-width="1.4" stroke-linejoin="round"/>
<rect x="381.8" y="1132.7" width="5.4" height="5.8" fill="#0d0d0d"/>
<rect x="387.7" y="1132.7" width="5.4" height="5.8" fill="#0d0d0d"/>
<rect x="393.6" y="1132.7" width="5.4" height="5.8" fill="#0d0d0d"/>
<rect x="387.7" y="1154.4" width="5.4" height="5.8" fill="#0d0d0d"/>
<rect x="381.8" y="1167.6" width="5.4" height="5.8" fill="#0d0d0d"/>
<rect x="387.7" y="1167.6" width="5.4" height="5.8" fill="#0d0d0d"/>
<rect x="393.6" y="1167.6" width="5.4" height="5.8" fill="#0d0d0d"/>
<rect x="381.8" y="1178.3" width="5.4" height="5.8" fill="#0d0d0d"/>
<rect x="387.7" y="1178.3" width="5.4" height="5.8" fill="#0d0d0d"/>
<rect x="393.6" y="1178.3" width="5.4" height="5.8" fill="#0d0d0d"/>
<rect x="387.7" y="1206.6" width="5.4" height="5.8" fill="#0d0d0d"/>
<rect x="387.7" y="1241.8" width="5.4" height="5.8" fill="#0d0d0d"/>
<rect x="387.7" y="1279.8" width="5.4" height="5.8" fill="#0d0d0d"/>
<rect x="386.4" y="1177.2" width="8" height="8" fill="#fff" stroke="#231f20" stroke-width="1.3"/>
<line x1="390.4" y1="1177.2" x2="390.4" y2="1185.2" stroke="#3a3636" stroke-width="1.3" stroke-linecap="butt"/>
<line x1="390.4" y1="1130.8" x2="390.4" y2="1209.5" stroke="#3a3636" stroke-width="1.5" stroke-linecap="butt"/>
<path d="M462.8 1099.7 L462.8 1101.7 L462.8 1103.7 L462.9 1105.7 L463 1107.7 L463.1 1109.7 L463.2 1111.7 L463.3 1113.7 L463.5 1115.7 L463.8 1117.7 L464.3 1119.7 L465 1121.7 L465.7 1123.7 L466.4 1125.7 L467.3 1127.7 L468.3 1129.7 L469.4 1131.7 L470.5 1133.7 L471.5 1135.7 L472.6 1137.7 L473.8 1139.7 L474.9 1141.7 L476.1 1143.7 L477.3 1145.7 L478.6 1147.8 L479.9 1149.8 L481.2 1151.8 L482.5 1153.8 L483.8 1155.8 L485.2 1157.8 L486.5 1159.8 L487.8 1161.8 L489 1163.8 L490 1165.8 L491.1 1167.8 L492.1 1169.8 L492.9 1171.8 L493.5 1173.8 L494 1175.8 L494.5 1177.8 L494.8 1179.8 L495.1 1181.8 L495.3 1183.8 L495.4 1185.8 L495.5 1187.8 L495.5 1189.8 L495.3 1191.8 L495.1 1193.8 L494.8 1195.8 L494.4 1197.8 L494 1199.8 L493.5 1201.8 L493 1203.8 L492.4 1205.8 L491.9 1207.8 L491.4 1209.8 L490.9 1211.8 L490.4 1213.8 L489.9 1215.8 L489.4 1217.8 L488.9 1219.8 L488.4 1221.8 L487.9 1223.8 L487.5 1225.8 L487 1227.9 L486.4 1229.9 L485.7 1231.9 L484.9 1233.9 L484 1235.9 L483.1 1237.9 L482.1 1239.9 L481.1 1241.9 L480.1 1243.9 L479.1 1245.9 L478 1247.9 L477 1249.9 L476.1 1251.9 L475.3 1253.9 L474.6 1255.9 L473.9 1257.9 L473.3 1259.9 L472.8 1261.9 L472.4 1263.9 L472 1265.9 L471.7 1267.9 L471.4 1269.9 L471.2 1271.9 L470.9 1273.9 L470.6 1275.9 L470.3 1277.9 L469.9 1279.9 L469.6 1281.9 L469.3 1283.9 L468.9 1285.9 L468.6 1287.9 L468.2 1289.9 L467.8 1291.9 L467.4 1293.9 L467 1295.9 L466.7 1297.9 L466.3 1299.9 L465.9 1301.9 L465.5 1303.9 L465.1 1305.9 L464.8 1308 L464.5 1310 L464.3 1312 L464 1314 L463.8 1316 L463.7 1318 L463.5 1320 L463.4 1322 L463.3 1324 L463.2 1326 L463.1 1328 L463 1330 L462.9 1332 L462.9 1334 L462.8 1336 L462.8 1338 L462.8 1340 L462.8 1338 L462.8 1336 L462.7 1334 L462.7 1332 L462.6 1330 L462.5 1328 L462.4 1326 L462.3 1324 L462.2 1322 L462.1 1320 L461.9 1318 L461.8 1316 L461.6 1314 L461.3 1312 L461.1 1310 L460.8 1308 L460.5 1305.9 L460.1 1303.9 L459.7 1301.9 L459.3 1299.9 L458.9 1297.9 L458.6 1295.9 L458.2 1293.9 L457.8 1291.9 L457.4 1289.9 L457 1287.9 L456.7 1285.9 L456.3 1283.9 L456 1281.9 L455.7 1279.9 L455.3 1277.9 L455 1275.9 L454.7 1273.9 L454.4 1271.9 L454.2 1269.9 L453.9 1267.9 L453.6 1265.9 L453.2 1263.9 L452.8 1261.9 L452.3 1259.9 L451.7 1257.9 L451 1255.9 L450.3 1253.9 L449.5 1251.9 L448.6 1249.9 L447.6 1247.9 L446.5 1245.9 L445.5 1243.9 L444.5 1241.9 L443.5 1239.9 L442.5 1237.9 L441.6 1235.9 L440.7 1233.9 L439.9 1231.9 L439.2 1229.9 L438.6 1227.9 L438.1 1225.8 L437.7 1223.8 L437.2 1221.8 L436.7 1219.8 L436.2 1217.8 L435.7 1215.8 L435.2 1213.8 L434.7 1211.8 L434.2 1209.8 L433.7 1207.8 L433.2 1205.8 L432.6 1203.8 L432.1 1201.8 L431.6 1199.8 L431.2 1197.8 L430.8 1195.8 L430.5 1193.8 L430.3 1191.8 L430.1 1189.8 L430.1 1187.8 L430.2 1185.8 L430.3 1183.8 L430.5 1181.8 L430.8 1179.8 L431.1 1177.8 L431.6 1175.8 L432.1 1173.8 L432.7 1171.8 L433.5 1169.8 L434.5 1167.8 L435.6 1165.8 L436.6 1163.8 L437.8 1161.8 L439.1 1159.8 L440.4 1157.8 L441.8 1155.8 L443.1 1153.8 L444.4 1151.8 L445.7 1149.8 L447 1147.8 L448.3 1145.7 L449.5 1143.7 L450.7 1141.7 L451.8 1139.7 L453 1137.7 L454.1 1135.7 L455.1 1133.7 L456.2 1131.7 L457.3 1129.7 L458.3 1127.7 L459.2 1125.7 L459.9 1123.7 L460.6 1121.7 L461.3 1119.7 L461.8 1117.7 L462.1 1115.7 L462.3 1113.7 L462.4 1111.7 L462.5 1109.7 L462.6 1107.7 L462.7 1105.7 L462.8 1103.7 L462.8 1101.7Z" fill="url(#hk)" stroke="#231f20" stroke-width="1.4" stroke-linejoin="round"/>
<rect x="460.1" y="1154.4" width="5.4" height="5.8" fill="#0d0d0d"/>
<rect x="460.1" y="1165.8" width="5.4" height="5.8" fill="#0d0d0d"/>
<rect x="460.1" y="1180.3" width="5.4" height="5.8" fill="#0d0d0d"/>
<rect x="454.2" y="1192.5" width="5.4" height="5.8" fill="#0d0d0d"/>
<rect x="460.1" y="1192.5" width="5.4" height="5.8" fill="#0d0d0d"/>
<rect x="466" y="1192.5" width="5.4" height="5.8" fill="#0d0d0d"/>
<rect x="454.2" y="1229.8" width="5.4" height="5.8" fill="#0d0d0d"/>
<rect x="460.1" y="1229.8" width="5.4" height="5.8" fill="#0d0d0d"/>
<rect x="466" y="1229.8" width="5.4" height="5.8" fill="#0d0d0d"/>
<rect x="460.1" y="1278.7" width="5.4" height="5.8" fill="#0d0d0d"/>
<rect x="458.8" y="1203.4" width="8" height="8" fill="#fff" stroke="#231f20" stroke-width="1.3"/>
<line x1="462.8" y1="1203.4" x2="462.8" y2="1211.4" stroke="#3a3636" stroke-width="1.3" stroke-linecap="butt"/>
<line x1="462.8" y1="1155.6" x2="462.8" y2="1284.1" stroke="#3a3636" stroke-width="1.5" stroke-linecap="butt"/>
<text transform="translate(220.4,1090.7) scale(0.9415,1)" font-size="43" class="nr" style="stroke:#0a0a0a;stroke-width:0.9px">***</text>
<text transform="translate(293.5,1297.7) scale(0.9600,1)" font-size="43" style="stroke:#0a0a0a;stroke-width:0.9px">***</text>
<text class="nb" transform="translate(142.4,1467.9) rotate(-45) scale(0.84,1)" font-size="37" font-weight="bold">+/+</text>
<text class="nb" transform="translate(191.4,1506) rotate(-45) scale(0.84,1)" font-size="37" font-weight="bold">RH/RH</text>
<g transform="translate(327.7,1438.6) rotate(-45)">
<text class="nb" transform="translate(-34.8,0) scale(0.84,1)" font-size="37" font-weight="bold"><tspan dy="-6.5">-</tspan><tspan dy="6.5" dx="4">/</tspan><tspan dy="-6.5" dx="3.2">-</tspan></text>
<rect x="-36.1" y="-18.5" width="12.2" height="7.6" fill="#000"/>
<rect x="-12.2" y="-18.5" width="12.2" height="7.6" fill="#000"/>
</g>
<text class="nb" transform="translate(349.7,1487) rotate(-45) scale(0.84,1)" font-size="37" font-weight="bold">+/RH</text>
<g transform="translate(479,1433.1) rotate(-45)">
<text class="nb" transform="translate(-40.5,0) scale(0.84,1)" font-size="37" font-weight="bold">+/<tspan dy="-6.5" dx="3.2">-</tspan></text>
<rect x="-12.2" y="-18.5" width="12.2" height="7.6" fill="#000"/>
</g>
<line x1="735.6" y1="1009.3" x2="735.6" y2="1404.8" stroke="#0d0d0d" stroke-width="3" stroke-linecap="butt"/>
<line x1="734.1" y1="1403.3" x2="1123.8" y2="1403.3" stroke="#0d0d0d" stroke-width="3" stroke-linecap="butt"/>
<line x1="731" y1="1027.3" x2="735.6" y2="1027.3" stroke="#231f20" stroke-width="2.6" stroke-linecap="butt"/>
<text transform="translate(689.2,1037.3) scale(0.7850,1)" font-size="36.3" class="nr">10</text>
<line x1="731" y1="1092" x2="735.6" y2="1092" stroke="#231f20" stroke-width="2.6" stroke-linecap="butt"/>
<text transform="translate(705.3,1106.1) scale(0.7850,1)" font-size="36.3" class="nr">8</text>
<line x1="731" y1="1157.3" x2="735.6" y2="1157.3" stroke="#231f20" stroke-width="2.6" stroke-linecap="butt"/>
<text transform="translate(705.3,1170.3) scale(0.7850,1)" font-size="36.3" class="nr">6</text>
<line x1="731" y1="1222.2" x2="735.6" y2="1222.2" stroke="#231f20" stroke-width="2.6" stroke-linecap="butt"/>
<text transform="translate(704.9,1237.3) scale(0.7850,1)" font-size="36.3" class="nr">4</text>
<line x1="731" y1="1287.5" x2="735.6" y2="1287.5" stroke="#231f20" stroke-width="2.6" stroke-linecap="butt"/>
<text transform="translate(705.5,1301.5) scale(0.7850,1)" font-size="36.3" class="nr">2</text>
<line x1="731" y1="1352.5" x2="735.6" y2="1352.5" stroke="#231f20" stroke-width="2.6" stroke-linecap="butt"/>
<text transform="translate(705.1,1363.8) scale(0.7850,1)" font-size="36.3" class="nr">0</text>
<line x1="779.7" y1="1403.3" x2="779.7" y2="1409.1" stroke="#231f20" stroke-width="2" stroke-linecap="butt"/>
<line x1="854.4" y1="1403.3" x2="854.4" y2="1409.1" stroke="#231f20" stroke-width="2" stroke-linecap="butt"/>
<line x1="929" y1="1403.3" x2="929" y2="1409.1" stroke="#231f20" stroke-width="2" stroke-linecap="butt"/>
<line x1="1003.6" y1="1403.3" x2="1003.6" y2="1409.1" stroke="#231f20" stroke-width="2" stroke-linecap="butt"/>
<line x1="1078.3" y1="1403.3" x2="1078.3" y2="1409.1" stroke="#231f20" stroke-width="2" stroke-linecap="butt"/>
<text class="nb" transform="translate(663.7,1282.8) rotate(-90) scale(0.8322,1)" font-size="36" font-weight="bold">No. of APs</text>
<path d="M779.7 1098.5 L779.9 1100.5 L780.1 1102.5 L780.4 1104.5 L780.8 1106.5 L781.5 1108.6 L782.4 1110.6 L783.6 1112.6 L785 1114.6 L786.5 1116.6 L787.9 1118.6 L789.1 1120.6 L790 1122.6 L790.3 1124.6 L790 1126.7 L789.3 1128.7 L788.1 1130.7 L786.7 1132.7 L785.2 1134.7 L783.9 1136.7 L782.8 1138.7 L782 1140.7 L781.5 1142.7 L781.3 1144.8 L781.3 1146.8 L781.5 1148.8 L781.7 1150.8 L782 1152.8 L782.2 1154.8 L782.3 1156.8 L782.3 1158.8 L782.2 1160.8 L782 1162.9 L782 1164.9 L782.1 1166.9 L782.5 1168.9 L783.5 1170.9 L785.2 1172.9 L787.7 1174.9 L791.1 1176.9 L795.3 1178.9 L800 1181 L804.8 1183 L809.1 1185 L812.3 1187 L814 1189 L813.8 1191 L811.8 1193 L808.3 1195 L803.9 1197 L799.2 1199.1 L794.8 1201.1 L791 1203.1 L788.2 1205.1 L786.5 1207.1 L785.7 1209.1 L785.8 1211.1 L786.5 1213.1 L787.6 1215.2 L788.7 1217.2 L789.7 1219.2 L790.2 1221.2 L790.2 1223.2 L789.7 1225.2 L788.7 1227.2 L787.4 1229.2 L786 1231.2 L784.6 1233.3 L783.5 1235.3 L782.7 1237.3 L782.2 1239.3 L782.2 1241.3 L782.4 1243.3 L782.9 1245.3 L783.5 1247.3 L784.1 1249.3 L784.6 1251.4 L784.9 1253.4 L785 1255.4 L784.8 1257.4 L784.3 1259.4 L783.7 1261.4 L783 1263.4 L782.3 1265.4 L781.7 1267.4 L781.3 1269.5 L781.1 1271.5 L781.1 1273.5 L781.3 1275.5 L781.6 1277.5 L782 1279.5 L782.4 1281.5 L782.7 1283.5 L782.9 1285.5 L783 1287.6 L782.9 1289.6 L782.6 1291.6 L782.2 1293.6 L781.8 1295.6 L781.3 1297.6 L780.9 1299.6 L780.5 1301.6 L780.2 1303.6 L780 1305.7 L779.9 1307.7 L779.8 1309.7 L779.8 1311.7 L779.7 1313.7 L779.6 1311.7 L779.6 1309.7 L779.5 1307.7 L779.4 1305.7 L779.2 1303.6 L778.9 1301.6 L778.5 1299.6 L778.1 1297.6 L777.6 1295.6 L777.2 1293.6 L776.8 1291.6 L776.5 1289.6 L776.4 1287.6 L776.5 1285.5 L776.7 1283.5 L777 1281.5 L777.4 1279.5 L777.8 1277.5 L778.1 1275.5 L778.3 1273.5 L778.3 1271.5 L778.1 1269.5 L777.7 1267.4 L777.1 1265.4 L776.4 1263.4 L775.7 1261.4 L775.1 1259.4 L774.6 1257.4 L774.4 1255.4 L774.5 1253.4 L774.8 1251.4 L775.3 1249.3 L775.9 1247.3 L776.5 1245.3 L777 1243.3 L777.2 1241.3 L777.2 1239.3 L776.7 1237.3 L775.9 1235.3 L774.8 1233.3 L773.4 1231.2 L772 1229.2 L770.7 1227.2 L769.7 1225.2 L769.2 1223.2 L769.2 1221.2 L769.7 1219.2 L770.7 1217.2 L771.8 1215.2 L772.9 1213.1 L773.6 1211.1 L773.7 1209.1 L772.9 1207.1 L771.2 1205.1 L768.4 1203.1 L764.6 1201.1 L760.2 1199.1 L755.5 1197 L751.1 1195 L747.6 1193 L745.6 1191 L745.4 1189 L747.1 1187 L750.3 1185 L754.6 1183 L759.4 1181 L764.1 1178.9 L768.3 1176.9 L771.7 1174.9 L774.2 1172.9 L775.9 1170.9 L776.9 1168.9 L777.3 1166.9 L777.4 1164.9 L777.4 1162.9 L777.2 1160.8 L777.1 1158.8 L777.1 1156.8 L777.2 1154.8 L777.4 1152.8 L777.7 1150.8 L777.9 1148.8 L778.1 1146.8 L778.1 1144.8 L777.9 1142.7 L777.4 1140.7 L776.6 1138.7 L775.5 1136.7 L774.2 1134.7 L772.7 1132.7 L771.3 1130.7 L770.1 1128.7 L769.4 1126.7 L769.1 1124.6 L769.4 1122.6 L770.3 1120.6 L771.5 1118.6 L772.9 1116.6 L774.4 1114.6 L775.8 1112.6 L777 1110.6 L777.9 1108.6 L778.6 1106.5 L779 1104.5 L779.3 1102.5 L779.5 1100.5Z" fill="#dc2a24" stroke="#231f20" stroke-width="1.4" stroke-linejoin="round"/>
<rect x="770.5" y="1122.3" width="18.5" height="5" fill="#0d0d0d"/>
<rect x="777" y="1154.4" width="5.4" height="5.8" fill="#0d0d0d"/>
<rect x="746" y="1187.3" width="67.5" height="5" fill="#0d0d0d"/>
<rect x="770.5" y="1219.8" width="18.5" height="5" fill="#0d0d0d"/>
<rect x="775" y="1252.3" width="9.5" height="5" fill="#0d0d0d"/>
<rect x="777" y="1284.5" width="5.4" height="5.8" fill="#0d0d0d"/>
<rect x="775.7" y="1188.6" width="8" height="8" fill="#fff" stroke="#231f20" stroke-width="1.3"/>
<line x1="779.7" y1="1188.6" x2="779.7" y2="1196.6" stroke="#3a3636" stroke-width="1.3" stroke-linecap="butt"/>
<line x1="779.7" y1="1157.3" x2="779.7" y2="1222.3" stroke="#3a3636" stroke-width="1.5" stroke-linecap="butt"/>
<path d="M854.4 1123 L854.5 1125 L854.5 1127 L854.6 1129 L854.7 1131 L854.9 1133 L855.1 1135 L855.4 1137 L855.8 1139.1 L856.2 1141.1 L856.8 1143.1 L857.4 1145.1 L858 1147.1 L858.6 1149.1 L859.1 1151.1 L859.6 1153.1 L859.9 1155.1 L860.1 1157.1 L860.1 1159.1 L860 1161.1 L859.9 1163.1 L859.7 1165.1 L859.6 1167.2 L859.7 1169.2 L859.9 1171.2 L860.4 1173.2 L861.2 1175.2 L862.2 1177.2 L863.3 1179.2 L864.6 1181.2 L865.7 1183.2 L866.7 1185.2 L867.5 1187.2 L867.9 1189.2 L868 1191.2 L867.9 1193.2 L867.6 1195.3 L867.2 1197.3 L867 1199.3 L867.2 1201.3 L867.9 1203.3 L869.1 1205.3 L871.1 1207.3 L873.6 1209.3 L876.5 1211.3 L879.7 1213.3 L882.7 1215.3 L885.3 1217.3 L887.3 1219.3 L888.3 1221.3 L888.3 1223.4 L887.2 1225.4 L885.2 1227.4 L882.5 1229.4 L879.3 1231.4 L876.1 1233.4 L873 1235.4 L870.3 1237.4 L868.2 1239.4 L866.7 1241.4 L865.8 1243.4 L865.4 1245.4 L865.3 1247.4 L865.5 1249.4 L865.6 1251.5 L865.7 1253.5 L865.6 1255.5 L865.3 1257.5 L864.8 1259.5 L864.2 1261.5 L863.5 1263.5 L862.9 1265.5 L862.4 1267.5 L862.3 1269.5 L862.4 1271.5 L862.9 1273.5 L863.7 1275.5 L864.6 1277.5 L865.6 1279.6 L866.6 1281.6 L867.4 1283.6 L867.9 1285.6 L868 1287.6 L867.7 1289.6 L866.9 1291.6 L865.9 1293.6 L864.5 1295.6 L863.1 1297.6 L861.6 1299.6 L860.1 1301.6 L858.8 1303.6 L857.7 1305.6 L856.8 1307.7 L856.1 1309.7 L855.5 1311.7 L855.1 1313.7 L854.9 1315.7 L854.7 1317.7 L854.6 1319.7 L854.4 1321.7 L854.2 1319.7 L854.1 1317.7 L853.9 1315.7 L853.7 1313.7 L853.3 1311.7 L852.7 1309.7 L852 1307.7 L851.1 1305.6 L850 1303.6 L848.7 1301.6 L847.2 1299.6 L845.7 1297.6 L844.3 1295.6 L842.9 1293.6 L841.9 1291.6 L841.1 1289.6 L840.8 1287.6 L840.9 1285.6 L841.4 1283.6 L842.2 1281.6 L843.2 1279.6 L844.2 1277.5 L845.1 1275.5 L845.9 1273.5 L846.4 1271.5 L846.5 1269.5 L846.4 1267.5 L845.9 1265.5 L845.3 1263.5 L844.6 1261.5 L844 1259.5 L843.5 1257.5 L843.2 1255.5 L843.1 1253.5 L843.2 1251.5 L843.3 1249.4 L843.5 1247.4 L843.4 1245.4 L843 1243.4 L842.1 1241.4 L840.6 1239.4 L838.5 1237.4 L835.8 1235.4 L832.7 1233.4 L829.5 1231.4 L826.3 1229.4 L823.6 1227.4 L821.6 1225.4 L820.5 1223.4 L820.5 1221.3 L821.5 1219.3 L823.5 1217.3 L826.1 1215.3 L829.1 1213.3 L832.3 1211.3 L835.2 1209.3 L837.7 1207.3 L839.7 1205.3 L840.9 1203.3 L841.6 1201.3 L841.8 1199.3 L841.6 1197.3 L841.2 1195.3 L840.9 1193.2 L840.8 1191.2 L840.9 1189.2 L841.3 1187.2 L842.1 1185.2 L843.1 1183.2 L844.2 1181.2 L845.5 1179.2 L846.6 1177.2 L847.6 1175.2 L848.4 1173.2 L848.9 1171.2 L849.1 1169.2 L849.2 1167.2 L849.1 1165.1 L848.9 1163.1 L848.8 1161.1 L848.7 1159.1 L848.7 1157.1 L848.9 1155.1 L849.2 1153.1 L849.7 1151.1 L850.2 1149.1 L850.8 1147.1 L851.4 1145.1 L852 1143.1 L852.6 1141.1 L853 1139.1 L853.4 1137 L853.7 1135 L853.9 1133 L854.1 1131 L854.2 1129 L854.3 1127 L854.3 1125Z" fill="#4f58ab" stroke="#231f20" stroke-width="1.4" stroke-linejoin="round"/>
<rect x="850.4" y="1154.8" width="8" height="5" fill="#0d0d0d"/>
<rect x="842.8" y="1187.3" width="23.2" height="5" fill="#0d0d0d"/>
<rect x="824.1" y="1219.8" width="60.5" height="5" fill="#0d0d0d"/>
<rect x="844.8" y="1252.3" width="19.2" height="5" fill="#0d0d0d"/>
<rect x="842.5" y="1284.9" width="23.8" height="5" fill="#0d0d0d"/>
<rect x="850.4" y="1224.3" width="8" height="8" fill="#fff" stroke="#231f20" stroke-width="1.3"/>
<line x1="854.4" y1="1224.3" x2="854.4" y2="1232.3" stroke="#3a3636" stroke-width="1.3" stroke-linecap="butt"/>
<line x1="854.4" y1="1189.8" x2="854.4" y2="1287.4" stroke="#3a3636" stroke-width="1.5" stroke-linecap="butt"/>
<path d="M929 1226.3 L929.1 1228.3 L929.3 1230.3 L929.5 1232.3 L929.8 1234.3 L930.2 1236.3 L930.8 1238.3 L931.6 1240.3 L932.5 1242.4 L933.6 1244.4 L934.7 1246.4 L935.8 1248.4 L936.7 1250.4 L937.4 1252.4 L937.7 1254.4 L937.6 1256.4 L937.3 1258.4 L936.7 1260.4 L936.1 1262.4 L935.7 1264.4 L935.7 1266.4 L936.2 1268.4 L937.6 1270.4 L939.8 1272.5 L942.9 1274.5 L946.6 1276.5 L950.8 1278.5 L955 1280.5 L958.6 1282.5 L961.4 1284.5 L962.8 1286.5 L962.6 1288.5 L961 1290.5 L958 1292.5 L954.2 1294.5 L949.8 1296.5 L945.4 1298.5 L941.4 1300.5 L937.9 1302.6 L935.1 1304.6 L933 1306.6 L931.5 1308.6 L930.5 1310.6 L929.9 1312.6 L929.5 1314.6 L929 1316.6 L928.5 1314.6 L928.1 1312.6 L927.5 1310.6 L926.5 1308.6 L925 1306.6 L922.9 1304.6 L920.1 1302.6 L916.6 1300.5 L912.6 1298.5 L908.2 1296.5 L903.8 1294.5 L900 1292.5 L897 1290.5 L895.4 1288.5 L895.2 1286.5 L896.6 1284.5 L899.4 1282.5 L903 1280.5 L907.2 1278.5 L911.4 1276.5 L915.1 1274.5 L918.2 1272.5 L920.4 1270.4 L921.8 1268.4 L922.3 1266.4 L922.3 1264.4 L921.9 1262.4 L921.3 1260.4 L920.7 1258.4 L920.4 1256.4 L920.3 1254.4 L920.6 1252.4 L921.3 1250.4 L922.2 1248.4 L923.3 1246.4 L924.4 1244.4 L925.5 1242.4 L926.4 1240.3 L927.2 1238.3 L927.8 1236.3 L928.2 1234.3 L928.5 1232.3 L928.7 1230.3 L928.9 1228.3Z" fill="#fff" stroke="#231f20" stroke-width="1.4" stroke-linejoin="round"/>
<rect x="926.3" y="1251.9" width="5.4" height="5.8" fill="#0d0d0d"/>
<rect x="919.4" y="1284.9" width="19.2" height="5" fill="#0d0d0d"/>
<rect x="925" y="1277.3" width="8" height="8" fill="#fff" stroke="#231f20" stroke-width="1.3"/>
<line x1="929" y1="1277.3" x2="929" y2="1285.3" stroke="#3a3636" stroke-width="1.3" stroke-linecap="butt"/>
<path d="M1003.6 1117.1 L1003.7 1119.1 L1003.9 1121.1 L1004.1 1123.2 L1004.3 1125.2 L1004.6 1127.2 L1004.9 1129.2 L1005.3 1131.2 L1005.7 1133.2 L1006.2 1135.2 L1006.8 1137.2 L1007.4 1139.2 L1008.1 1141.2 L1009 1143.2 L1009.9 1145.2 L1010.9 1147.2 L1011.9 1149.2 L1012.9 1151.2 L1013.9 1153.2 L1015 1155.2 L1016.1 1157.2 L1017.1 1159.2 L1018.2 1161.2 L1019.3 1163.2 L1020.5 1165.2 L1021.8 1167.2 L1023.5 1169.2 L1025.5 1171.2 L1027.5 1173.2 L1029.3 1175.2 L1031 1177.2 L1032.7 1179.2 L1034.3 1181.2 L1035.6 1183.2 L1036.5 1185.2 L1037.1 1187.2 L1037.4 1189.2 L1037.3 1191.2 L1036.5 1193.2 L1035.5 1195.2 L1034.3 1197.3 L1032.8 1199.3 L1030.7 1201.3 L1028.4 1203.3 L1026.2 1205.3 L1024.3 1207.3 L1022.4 1209.3 L1020.6 1211.3 L1019 1213.3 L1017.7 1215.3 L1016.8 1217.3 L1016 1219.3 L1015.4 1221.3 L1014.7 1223.3 L1014 1225.3 L1013.4 1227.3 L1012.7 1229.3 L1012.2 1231.3 L1011.7 1233.3 L1011.3 1235.3 L1010.9 1237.3 L1010.5 1239.3 L1010.2 1241.3 L1010 1243.3 L1009.8 1245.3 L1009.7 1247.3 L1009.5 1249.3 L1009.4 1251.3 L1009.3 1253.3 L1009.2 1255.3 L1009 1257.3 L1008.8 1259.3 L1008.7 1261.3 L1008.5 1263.3 L1008.5 1265.3 L1008.5 1267.3 L1008.6 1269.3 L1008.7 1271.4 L1008.8 1273.4 L1008.9 1275.4 L1009 1277.4 L1009 1279.4 L1009.1 1281.4 L1009.2 1283.4 L1009.2 1285.4 L1009.2 1287.4 L1009.2 1289.4 L1009 1291.4 L1008.7 1293.4 L1008.4 1295.4 L1008.1 1297.4 L1007.7 1299.4 L1007.3 1301.4 L1006.9 1303.4 L1006.5 1305.4 L1006.1 1307.4 L1005.8 1309.4 L1005.5 1311.4 L1005.2 1313.4 L1004.9 1315.4 L1004.6 1317.4 L1004.4 1319.4 L1004.2 1321.4 L1004 1323.4 L1003.8 1325.4 L1003.6 1327.4 L1003.4 1325.4 L1003.2 1323.4 L1003 1321.4 L1002.8 1319.4 L1002.6 1317.4 L1002.3 1315.4 L1002 1313.4 L1001.7 1311.4 L1001.4 1309.4 L1001.1 1307.4 L1000.7 1305.4 L1000.3 1303.4 L999.9 1301.4 L999.5 1299.4 L999.1 1297.4 L998.8 1295.4 L998.5 1293.4 L998.2 1291.4 L998 1289.4 L998 1287.4 L998 1285.4 L998 1283.4 L998.1 1281.4 L998.2 1279.4 L998.2 1277.4 L998.3 1275.4 L998.4 1273.4 L998.5 1271.4 L998.6 1269.3 L998.7 1267.3 L998.7 1265.3 L998.7 1263.3 L998.5 1261.3 L998.4 1259.3 L998.2 1257.3 L998 1255.3 L997.9 1253.3 L997.8 1251.3 L997.7 1249.3 L997.5 1247.3 L997.4 1245.3 L997.2 1243.3 L997 1241.3 L996.7 1239.3 L996.3 1237.3 L995.9 1235.3 L995.5 1233.3 L995 1231.3 L994.5 1229.3 L993.8 1227.3 L993.2 1225.3 L992.5 1223.3 L991.8 1221.3 L991.2 1219.3 L990.4 1217.3 L989.5 1215.3 L988.2 1213.3 L986.6 1211.3 L984.8 1209.3 L982.9 1207.3 L981 1205.3 L978.8 1203.3 L976.5 1201.3 L974.4 1199.3 L972.9 1197.3 L971.7 1195.2 L970.7 1193.2 L969.9 1191.2 L969.8 1189.2 L970.1 1187.2 L970.7 1185.2 L971.6 1183.2 L972.9 1181.2 L974.5 1179.2 L976.2 1177.2 L977.9 1175.2 L979.7 1173.2 L981.7 1171.2 L983.7 1169.2 L985.4 1167.2 L986.7 1165.2 L987.9 1163.2 L989 1161.2 L990.1 1159.2 L991.1 1157.2 L992.2 1155.2 L993.3 1153.2 L994.3 1151.2 L995.3 1149.2 L996.3 1147.2 L997.3 1145.2 L998.2 1143.2 L999.1 1141.2 L999.8 1139.2 L1000.4 1137.2 L1001 1135.2 L1001.5 1133.2 L1001.9 1131.2 L1002.3 1129.2 L1002.6 1127.2 L1002.9 1125.2 L1003.1 1123.2 L1003.3 1121.1 L1003.5 1119.1Z" fill="url(#hb2)" stroke="#231f20" stroke-width="1.4" stroke-linejoin="round"/>
<rect x="998.9" y="1154.8" width="9.4" height="5" fill="#0d0d0d"/>
<rect x="987" y="1187.3" width="33.2" height="5" fill="#0d0d0d"/>
<rect x="998.9" y="1219.8" width="9.4" height="5" fill="#0d0d0d"/>
<rect x="1001.6" y="1252.3" width="4" height="5" fill="#0d0d0d"/>
<rect x="1000.9" y="1284.5" width="5.4" height="5.8" fill="#0d0d0d"/>
<rect x="999.6" y="1198.5" width="8" height="8" fill="#fff" stroke="#231f20" stroke-width="1.3"/>
<line x1="1003.6" y1="1198.5" x2="1003.6" y2="1206.5" stroke="#3a3636" stroke-width="1.3" stroke-linecap="butt"/>
<line x1="1003.6" y1="1157.3" x2="1003.6" y2="1254.8" stroke="#3a3636" stroke-width="1.5" stroke-linecap="butt"/>
<path d="M1078.3 1073.4 L1078.3 1075.4 L1078.4 1077.4 L1078.5 1079.4 L1078.6 1081.4 L1078.8 1083.5 L1079 1085.5 L1079.2 1087.5 L1079.4 1089.5 L1079.7 1091.5 L1080 1093.5 L1080.4 1095.5 L1081 1097.5 L1081.6 1099.5 L1082.2 1101.5 L1082.9 1103.6 L1083.7 1105.6 L1084.7 1107.6 L1085.8 1109.6 L1086.9 1111.6 L1088.1 1113.6 L1089.2 1115.6 L1090.4 1117.6 L1091.6 1119.6 L1092.9 1121.6 L1094.2 1123.7 L1095.6 1125.7 L1097 1127.7 L1098.5 1129.7 L1100 1131.7 L1101.5 1133.7 L1102.8 1135.7 L1104.1 1137.7 L1105.4 1139.7 L1106.6 1141.7 L1107.8 1143.8 L1108.8 1145.8 L1109.6 1147.8 L1110.4 1149.8 L1111.1 1151.8 L1111.7 1153.8 L1112.1 1155.8 L1112.3 1157.8 L1112.5 1159.8 L1112.6 1161.8 L1112.7 1163.8 L1112.7 1165.9 L1112.7 1167.9 L1112.5 1169.9 L1112.2 1171.9 L1111.8 1173.9 L1111.4 1175.9 L1111 1177.9 L1110.5 1179.9 L1110 1181.9 L1109.5 1183.9 L1108.9 1186 L1108.3 1188 L1107.7 1190 L1107 1192 L1106.4 1194 L1105.7 1196 L1105 1198 L1104.4 1200 L1103.8 1202 L1103.2 1204 L1102.6 1206.1 L1102.1 1208.1 L1101.6 1210.1 L1101.2 1212.1 L1100.9 1214.1 L1100.7 1216.1 L1100.5 1218.1 L1100.3 1220.1 L1100.1 1222.1 L1100 1224.1 L1099.8 1226.2 L1099.7 1228.2 L1099.6 1230.2 L1099.5 1232.2 L1099.4 1234.2 L1099.3 1236.2 L1099.2 1238.2 L1099.1 1240.2 L1099.1 1242.2 L1099 1244.2 L1098.9 1246.3 L1098.9 1248.3 L1098.8 1250.3 L1098.7 1252.3 L1098.6 1254.3 L1098.4 1256.3 L1098.2 1258.3 L1097.9 1260.3 L1097.6 1262.3 L1097.3 1264.3 L1096.9 1266.3 L1096.6 1268.4 L1096.1 1270.4 L1095.7 1272.4 L1095.2 1274.4 L1094.8 1276.4 L1094.2 1278.4 L1093.7 1280.4 L1093.1 1282.4 L1092.6 1284.4 L1092 1286.4 L1091.4 1288.5 L1090.8 1290.5 L1090.2 1292.5 L1089.6 1294.5 L1089 1296.5 L1088.4 1298.5 L1087.8 1300.5 L1087.1 1302.5 L1086.5 1304.5 L1085.8 1306.5 L1085.2 1308.6 L1084.7 1310.6 L1084.1 1312.6 L1083.6 1314.6 L1083.1 1316.6 L1082.6 1318.6 L1082.1 1320.6 L1081.7 1322.6 L1081.2 1324.6 L1080.8 1326.6 L1080.3 1328.7 L1080 1330.7 L1079.7 1332.7 L1079.5 1334.7 L1079.4 1336.7 L1079.3 1338.7 L1079.1 1340.7 L1079 1342.7 L1078.9 1344.7 L1078.8 1346.7 L1078.8 1348.7 L1078.7 1350.8 L1078.6 1352.8 L1078.5 1354.8 L1078.5 1356.8 L1078.4 1358.8 L1078.4 1360.8 L1078.4 1362.8 L1078.3 1364.8 L1078.3 1366.8 L1078.3 1368.8 L1078.3 1370.9 L1078.3 1368.8 L1078.3 1366.8 L1078.3 1364.8 L1078.2 1362.8 L1078.2 1360.8 L1078.2 1358.8 L1078.1 1356.8 L1078.1 1354.8 L1078 1352.8 L1077.9 1350.8 L1077.8 1348.7 L1077.8 1346.7 L1077.7 1344.7 L1077.6 1342.7 L1077.5 1340.7 L1077.3 1338.7 L1077.2 1336.7 L1077.1 1334.7 L1076.9 1332.7 L1076.6 1330.7 L1076.3 1328.7 L1075.8 1326.6 L1075.4 1324.6 L1074.9 1322.6 L1074.5 1320.6 L1074 1318.6 L1073.5 1316.6 L1073 1314.6 L1072.5 1312.6 L1071.9 1310.6 L1071.4 1308.6 L1070.8 1306.5 L1070.1 1304.5 L1069.5 1302.5 L1068.8 1300.5 L1068.2 1298.5 L1067.6 1296.5 L1067 1294.5 L1066.4 1292.5 L1065.8 1290.5 L1065.2 1288.5 L1064.6 1286.4 L1064 1284.4 L1063.5 1282.4 L1062.9 1280.4 L1062.4 1278.4 L1061.8 1276.4 L1061.4 1274.4 L1060.9 1272.4 L1060.5 1270.4 L1060 1268.4 L1059.7 1266.3 L1059.3 1264.3 L1059 1262.3 L1058.7 1260.3 L1058.4 1258.3 L1058.2 1256.3 L1058 1254.3 L1057.9 1252.3 L1057.8 1250.3 L1057.7 1248.3 L1057.7 1246.3 L1057.6 1244.2 L1057.5 1242.2 L1057.5 1240.2 L1057.4 1238.2 L1057.3 1236.2 L1057.2 1234.2 L1057.1 1232.2 L1057 1230.2 L1056.9 1228.2 L1056.8 1226.2 L1056.6 1224.1 L1056.5 1222.1 L1056.3 1220.1 L1056.1 1218.1 L1055.9 1216.1 L1055.7 1214.1 L1055.4 1212.1 L1055 1210.1 L1054.5 1208.1 L1054 1206.1 L1053.4 1204 L1052.8 1202 L1052.2 1200 L1051.6 1198 L1050.9 1196 L1050.2 1194 L1049.6 1192 L1048.9 1190 L1048.3 1188 L1047.7 1186 L1047.1 1183.9 L1046.6 1181.9 L1046.1 1179.9 L1045.6 1177.9 L1045.2 1175.9 L1044.8 1173.9 L1044.4 1171.9 L1044.1 1169.9 L1043.9 1167.9 L1043.9 1165.9 L1043.9 1163.8 L1044 1161.8 L1044.1 1159.8 L1044.3 1157.8 L1044.5 1155.8 L1044.9 1153.8 L1045.5 1151.8 L1046.2 1149.8 L1047 1147.8 L1047.8 1145.8 L1048.8 1143.8 L1050 1141.7 L1051.2 1139.7 L1052.5 1137.7 L1053.8 1135.7 L1055.1 1133.7 L1056.6 1131.7 L1058.1 1129.7 L1059.6 1127.7 L1061 1125.7 L1062.4 1123.7 L1063.7 1121.6 L1065 1119.6 L1066.2 1117.6 L1067.4 1115.6 L1068.5 1113.6 L1069.7 1111.6 L1070.8 1109.6 L1071.9 1107.6 L1072.9 1105.6 L1073.7 1103.6 L1074.4 1101.5 L1075 1099.5 L1075.6 1097.5 L1076.2 1095.5 L1076.6 1093.5 L1076.9 1091.5 L1077.2 1089.5 L1077.4 1087.5 L1077.6 1085.5 L1077.8 1083.5 L1078 1081.4 L1078.1 1079.4 L1078.2 1077.4 L1078.3 1075.4Z" fill="url(#hk2)" stroke="#231f20" stroke-width="1.4" stroke-linejoin="round"/>
<rect x="1068.8" y="1154.8" width="19" height="5" fill="#0d0d0d"/>
<rect x="1074.1" y="1187.3" width="8.4" height="5" fill="#0d0d0d"/>
<rect x="1076.3" y="1219.8" width="4" height="5" fill="#0d0d0d"/>
<rect x="1074.1" y="1252.3" width="8.4" height="5" fill="#0d0d0d"/>
<rect x="1076.3" y="1284.9" width="4" height="5" fill="#0d0d0d"/>
<rect x="1074.3" y="1198.5" width="8" height="8" fill="#fff" stroke="#231f20" stroke-width="1.3"/>
<line x1="1078.3" y1="1198.5" x2="1078.3" y2="1206.5" stroke="#3a3636" stroke-width="1.3" stroke-linecap="butt"/>
<line x1="1078.3" y1="1157.3" x2="1078.3" y2="1287.4" stroke="#3a3636" stroke-width="1.5" stroke-linecap="butt"/>
<text transform="translate(842.8,1101.4) scale(0.8781,1)" font-size="43" class="nr" style="stroke:#0a0a0a;stroke-width:0.9px">**</text>
<text transform="translate(909,1212.6) scale(0.9087,1)" font-size="43" class="nr" style="stroke:#0a0a0a;stroke-width:0.9px">***</text>
<text class="nb" transform="translate(755.9,1467.9) rotate(-45) scale(0.84,1)" font-size="37" font-weight="bold">+/+</text>
<text class="nb" transform="translate(804.9,1506) rotate(-45) scale(0.84,1)" font-size="37" font-weight="bold">RH/RH</text>
<g transform="translate(942,1438.6) rotate(-45)">
<text class="nb" transform="translate(-34.8,0) scale(0.84,1)" font-size="37" font-weight="bold"><tspan dy="-6.5">-</tspan><tspan dy="6.5" dx="4">/</tspan><tspan dy="-6.5" dx="3.2">-</tspan></text>
<rect x="-36.1" y="-18.5" width="12.2" height="7.6" fill="#000"/>
<rect x="-12.2" y="-18.5" width="12.2" height="7.6" fill="#000"/>
</g>
<text class="nb" transform="translate(963.4,1487) rotate(-45) scale(0.84,1)" font-size="37" font-weight="bold">+/RH</text>
<g transform="translate(1092.7,1433.1) rotate(-45)">
<text class="nb" transform="translate(-40.5,0) scale(0.84,1)" font-size="37" font-weight="bold">+/<tspan dy="-6.5" dx="3.2">-</tspan></text>
<rect x="-12.2" y="-18.5" width="12.2" height="7.6" fill="#000"/>
</g>
<line x1="1343.5" y1="1009.5" x2="1343.5" y2="1404.9" stroke="#0d0d0d" stroke-width="3" stroke-linecap="butt"/>
<line x1="1342" y1="1403.4" x2="1731.2" y2="1403.4" stroke="#0d0d0d" stroke-width="3" stroke-linecap="butt"/>
<line x1="1338.9" y1="1027" x2="1343.5" y2="1027" stroke="#231f20" stroke-width="2.6" stroke-linecap="butt"/>
<text transform="translate(1298.6,1042.5) scale(0.7850,1)" font-size="36.3" class="nr">60</text>
<line x1="1338.9" y1="1129.6" x2="1343.5" y2="1129.6" stroke="#231f20" stroke-width="2.6" stroke-linecap="butt"/>
<text transform="translate(1298.6,1143.8) scale(0.7850,1)" font-size="36.3" class="nr">40</text>
<line x1="1338.9" y1="1232.2" x2="1343.5" y2="1232.2" stroke="#231f20" stroke-width="2.6" stroke-linecap="butt"/>
<text transform="translate(1298.6,1247.2) scale(0.7850,1)" font-size="36.3" class="nr">20</text>
<line x1="1338.9" y1="1334.5" x2="1343.5" y2="1334.5" stroke="#231f20" stroke-width="2.6" stroke-linecap="butt"/>
<text transform="translate(1314.5,1345.4) scale(0.7850,1)" font-size="36.3" class="nr">0</text>
<line x1="1388.4" y1="1403.4" x2="1388.4" y2="1409.2" stroke="#231f20" stroke-width="2" stroke-linecap="butt"/>
<line x1="1463" y1="1403.4" x2="1463" y2="1409.2" stroke="#231f20" stroke-width="2" stroke-linecap="butt"/>
<line x1="1537.7" y1="1403.4" x2="1537.7" y2="1409.2" stroke="#231f20" stroke-width="2" stroke-linecap="butt"/>
<line x1="1612.3" y1="1403.4" x2="1612.3" y2="1409.2" stroke="#231f20" stroke-width="2" stroke-linecap="butt"/>
<line x1="1687" y1="1403.4" x2="1687" y2="1409.2" stroke="#231f20" stroke-width="2" stroke-linecap="butt"/>
<text class="nb" transform="translate(1261.2,1265.3) rotate(-90) scale(0.8190,1)" font-size="36" font-weight="bold">AHP (mV)</text>
<path d="M1388.4 1103.4 L1388.4 1105.4 L1388.5 1107.4 L1388.7 1109.4 L1388.8 1111.4 L1389 1113.4 L1389.3 1115.5 L1389.5 1117.5 L1389.8 1119.5 L1390.1 1121.5 L1390.5 1123.5 L1391 1125.5 L1391.8 1127.5 L1392.8 1129.5 L1394.1 1131.5 L1395.3 1133.5 L1396.5 1135.5 L1397.8 1137.6 L1399 1139.6 L1400.3 1141.6 L1401.5 1143.6 L1402.6 1145.6 L1403.8 1147.6 L1404.9 1149.6 L1406.2 1151.6 L1407.5 1153.6 L1408.9 1155.6 L1410.3 1157.6 L1411.6 1159.7 L1412.8 1161.7 L1414 1163.7 L1415.2 1165.7 L1416.2 1167.7 L1417.1 1169.7 L1418 1171.7 L1418.8 1173.7 L1419.5 1175.7 L1420.1 1177.7 L1420.7 1179.7 L1421.1 1181.8 L1421.5 1183.8 L1421.9 1185.8 L1422.2 1187.8 L1422.4 1189.8 L1422.5 1191.8 L1422.5 1193.8 L1422.3 1195.8 L1422 1197.8 L1421.7 1199.8 L1421.3 1201.8 L1420.5 1203.9 L1419.6 1205.9 L1418.6 1207.9 L1417.5 1209.9 L1416.3 1211.9 L1414.8 1213.9 L1413.4 1215.9 L1412 1217.9 L1410.7 1219.9 L1409.4 1221.9 L1408 1223.9 L1406.7 1225.9 L1405.3 1228 L1403.9 1230 L1402.6 1232 L1401.4 1234 L1400.2 1236 L1399.1 1238 L1398.2 1240 L1397.4 1242 L1396.7 1244 L1396.1 1246 L1395.6 1248 L1395.3 1250.1 L1395.2 1252.1 L1395 1254.1 L1394.9 1256.1 L1394.9 1258.1 L1394.9 1260.1 L1395.1 1262.1 L1395.4 1264.1 L1395.6 1266.1 L1395.9 1268.1 L1396.2 1270.1 L1396.5 1272.2 L1396.7 1274.2 L1396.7 1276.2 L1396.7 1278.2 L1396.7 1280.2 L1396.7 1282.2 L1396.5 1284.2 L1396.2 1286.2 L1395.8 1288.2 L1395.3 1290.2 L1394.9 1292.2 L1394.3 1294.3 L1393.7 1296.3 L1393 1298.3 L1392.5 1300.3 L1391.9 1302.3 L1391.4 1304.3 L1390.9 1306.3 L1390.5 1308.3 L1390.1 1310.3 L1389.8 1312.3 L1389.5 1314.3 L1389.3 1316.4 L1389.1 1318.4 L1388.9 1320.4 L1388.7 1322.4 L1388.6 1324.4 L1388.5 1326.4 L1388.4 1328.4 L1388.4 1330.4 L1388.4 1328.4 L1388.3 1326.4 L1388.2 1324.4 L1388.1 1322.4 L1387.9 1320.4 L1387.7 1318.4 L1387.5 1316.4 L1387.3 1314.3 L1387 1312.3 L1386.7 1310.3 L1386.3 1308.3 L1385.9 1306.3 L1385.4 1304.3 L1384.9 1302.3 L1384.3 1300.3 L1383.8 1298.3 L1383.1 1296.3 L1382.5 1294.3 L1381.9 1292.2 L1381.5 1290.2 L1381 1288.2 L1380.6 1286.2 L1380.3 1284.2 L1380.1 1282.2 L1380.1 1280.2 L1380.1 1278.2 L1380.1 1276.2 L1380.1 1274.2 L1380.3 1272.2 L1380.6 1270.1 L1380.9 1268.1 L1381.2 1266.1 L1381.4 1264.1 L1381.7 1262.1 L1381.9 1260.1 L1381.9 1258.1 L1381.9 1256.1 L1381.8 1254.1 L1381.6 1252.1 L1381.5 1250.1 L1381.2 1248 L1380.7 1246 L1380.1 1244 L1379.4 1242 L1378.6 1240 L1377.7 1238 L1376.6 1236 L1375.4 1234 L1374.2 1232 L1372.9 1230 L1371.5 1228 L1370.1 1225.9 L1368.8 1223.9 L1367.4 1221.9 L1366.1 1219.9 L1364.8 1217.9 L1363.4 1215.9 L1362 1213.9 L1360.5 1211.9 L1359.3 1209.9 L1358.2 1207.9 L1357.2 1205.9 L1356.3 1203.9 L1355.5 1201.8 L1355.1 1199.8 L1354.8 1197.8 L1354.5 1195.8 L1354.3 1193.8 L1354.3 1191.8 L1354.4 1189.8 L1354.6 1187.8 L1354.9 1185.8 L1355.3 1183.8 L1355.7 1181.8 L1356.1 1179.7 L1356.7 1177.7 L1357.3 1175.7 L1358 1173.7 L1358.8 1171.7 L1359.7 1169.7 L1360.6 1167.7 L1361.6 1165.7 L1362.8 1163.7 L1364 1161.7 L1365.2 1159.7 L1366.5 1157.6 L1367.9 1155.6 L1369.3 1153.6 L1370.6 1151.6 L1371.9 1149.6 L1373 1147.6 L1374.2 1145.6 L1375.3 1143.6 L1376.5 1141.6 L1377.8 1139.6 L1379 1137.6 L1380.3 1135.5 L1381.5 1133.5 L1382.7 1131.5 L1384 1129.5 L1385 1127.5 L1385.8 1125.5 L1386.3 1123.5 L1386.7 1121.5 L1387 1119.5 L1387.3 1117.5 L1387.5 1115.5 L1387.8 1113.4 L1388 1111.4 L1388.1 1109.4 L1388.3 1107.4 L1388.4 1105.4Z" fill="#dc2a24" stroke="#231f20" stroke-width="1.4" stroke-linejoin="round"/>
<rect x="1382.8" y="1147.2" width="5.4" height="5.8" fill="#0d0d0d"/>
<rect x="1388.7" y="1147.2" width="5.4" height="5.8" fill="#0d0d0d"/>
<rect x="1379.8" y="1164.1" width="5.4" height="5.8" fill="#0d0d0d"/>
<rect x="1385.7" y="1164.1" width="5.4" height="5.8" fill="#0d0d0d"/>
<rect x="1391.6" y="1164.1" width="5.4" height="5.8" fill="#0d0d0d"/>
<rect x="1376.9" y="1173" width="5.4" height="5.8" fill="#0d0d0d"/>
<rect x="1382.8" y="1173" width="5.4" height="5.8" fill="#0d0d0d"/>
<rect x="1388.7" y="1173" width="5.4" height="5.8" fill="#0d0d0d"/>
<rect x="1394.6" y="1173" width="5.4" height="5.8" fill="#0d0d0d"/>
<rect x="1373.9" y="1189.6" width="5.4" height="5.8" fill="#0d0d0d"/>
<rect x="1379.8" y="1189.6" width="5.4" height="5.8" fill="#0d0d0d"/>
<rect x="1385.7" y="1189.6" width="5.4" height="5.8" fill="#0d0d0d"/>
<rect x="1391.6" y="1189.6" width="5.4" height="5.8" fill="#0d0d0d"/>
<rect x="1397.5" y="1189.6" width="5.4" height="5.8" fill="#0d0d0d"/>
<rect x="1376.9" y="1200.1" width="5.4" height="5.8" fill="#0d0d0d"/>
<rect x="1382.8" y="1200.1" width="5.4" height="5.8" fill="#0d0d0d"/>
<rect x="1388.7" y="1200.1" width="5.4" height="5.8" fill="#0d0d0d"/>
<rect x="1394.6" y="1200.1" width="5.4" height="5.8" fill="#0d0d0d"/>
<rect x="1379.8" y="1216.7" width="5.4" height="5.8" fill="#0d0d0d"/>
<rect x="1385.7" y="1216.7" width="5.4" height="5.8" fill="#0d0d0d"/>
<rect x="1391.6" y="1216.7" width="5.4" height="5.8" fill="#0d0d0d"/>
<rect x="1382.8" y="1229.8" width="5.4" height="5.8" fill="#0d0d0d"/>
<rect x="1388.7" y="1229.8" width="5.4" height="5.8" fill="#0d0d0d"/>
<rect x="1385.7" y="1261.5" width="5.4" height="5.8" fill="#0d0d0d"/>
<rect x="1382.8" y="1279.6" width="5.4" height="5.8" fill="#0d0d0d"/>
<rect x="1388.7" y="1279.6" width="5.4" height="5.8" fill="#0d0d0d"/>
<rect x="1384.4" y="1197.2" width="8" height="8" fill="#fff" stroke="#231f20" stroke-width="1.3"/>
<line x1="1388.4" y1="1197.2" x2="1388.4" y2="1205.2" stroke="#3a3636" stroke-width="1.3" stroke-linecap="butt"/>
<line x1="1388.4" y1="1148" x2="1388.4" y2="1264.4" stroke="#3a3636" stroke-width="1.5" stroke-linecap="butt"/>
<path d="M1463 1129.4 L1463 1131.4 L1463.1 1133.4 L1463.2 1135.4 L1463.3 1137.4 L1463.4 1139.4 L1463.6 1141.4 L1463.8 1143.4 L1464 1145.4 L1464.4 1147.4 L1464.8 1149.4 L1465.2 1151.4 L1465.9 1153.4 L1466.7 1155.4 L1467.6 1157.4 L1468.4 1159.4 L1469 1161.4 L1469.7 1163.4 L1470.3 1165.4 L1471 1167.4 L1471.8 1169.4 L1472.5 1171.4 L1473.3 1173.4 L1474.1 1175.4 L1474.9 1177.4 L1475.7 1179.5 L1476.5 1181.5 L1477.3 1183.5 L1478.1 1185.5 L1478.9 1187.5 L1479.8 1189.5 L1480.6 1191.5 L1481.5 1193.5 L1482.4 1195.5 L1483.3 1197.5 L1484.3 1199.5 L1485.2 1201.5 L1486.3 1203.5 L1487.3 1205.5 L1488.3 1207.5 L1489.3 1209.5 L1490.3 1211.5 L1491.4 1213.5 L1492.4 1215.5 L1493.3 1217.5 L1494.2 1219.5 L1495.1 1221.5 L1495.8 1223.5 L1496.3 1225.5 L1496.7 1227.5 L1497.1 1229.5 L1497.2 1231.5 L1497.2 1233.5 L1497 1235.5 L1496.7 1237.5 L1496.2 1239.5 L1495.5 1241.5 L1494.3 1243.5 L1493 1245.5 L1491.7 1247.5 L1490.3 1249.6 L1488.8 1251.6 L1487.3 1253.6 L1485.7 1255.6 L1484.2 1257.6 L1482.6 1259.6 L1481.1 1261.6 L1479.7 1263.6 L1478.3 1265.6 L1477.1 1267.6 L1475.9 1269.6 L1474.8 1271.6 L1473.9 1273.6 L1473.1 1275.6 L1472.3 1277.6 L1471.7 1279.6 L1471.2 1281.6 L1470.8 1283.6 L1470.4 1285.6 L1470.1 1287.6 L1469.8 1289.6 L1469.7 1291.6 L1469.5 1293.6 L1469.4 1295.6 L1469.3 1297.6 L1469.2 1299.6 L1469.2 1301.6 L1469.3 1303.6 L1469.4 1305.6 L1469.5 1307.6 L1469.6 1309.6 L1469.6 1311.6 L1469.7 1313.6 L1469.8 1315.6 L1469.8 1317.6 L1469.9 1319.7 L1469.9 1321.7 L1469.9 1323.7 L1469.8 1325.7 L1469.5 1327.7 L1469 1329.7 L1468.6 1331.7 L1468.1 1333.7 L1467.7 1335.7 L1467.1 1337.7 L1466.6 1339.7 L1466.1 1341.7 L1465.6 1343.7 L1465.2 1345.7 L1464.7 1347.7 L1464.4 1349.7 L1464.1 1351.7 L1463.9 1353.7 L1463.7 1355.7 L1463.6 1357.7 L1463.4 1359.7 L1463.3 1361.7 L1463.2 1363.7 L1463.1 1365.7 L1463 1367.7 L1462.9 1365.7 L1462.8 1363.7 L1462.7 1361.7 L1462.6 1359.7 L1462.4 1357.7 L1462.3 1355.7 L1462.1 1353.7 L1461.9 1351.7 L1461.6 1349.7 L1461.3 1347.7 L1460.8 1345.7 L1460.4 1343.7 L1459.9 1341.7 L1459.4 1339.7 L1458.9 1337.7 L1458.3 1335.7 L1457.9 1333.7 L1457.4 1331.7 L1457 1329.7 L1456.5 1327.7 L1456.2 1325.7 L1456.1 1323.7 L1456.1 1321.7 L1456.1 1319.7 L1456.2 1317.6 L1456.2 1315.6 L1456.3 1313.6 L1456.4 1311.6 L1456.4 1309.6 L1456.5 1307.6 L1456.6 1305.6 L1456.7 1303.6 L1456.8 1301.6 L1456.8 1299.6 L1456.7 1297.6 L1456.6 1295.6 L1456.5 1293.6 L1456.3 1291.6 L1456.2 1289.6 L1455.9 1287.6 L1455.6 1285.6 L1455.2 1283.6 L1454.8 1281.6 L1454.3 1279.6 L1453.7 1277.6 L1452.9 1275.6 L1452.1 1273.6 L1451.2 1271.6 L1450.1 1269.6 L1448.9 1267.6 L1447.7 1265.6 L1446.3 1263.6 L1444.9 1261.6 L1443.4 1259.6 L1441.8 1257.6 L1440.3 1255.6 L1438.7 1253.6 L1437.2 1251.6 L1435.7 1249.6 L1434.3 1247.5 L1433 1245.5 L1431.7 1243.5 L1430.5 1241.5 L1429.8 1239.5 L1429.3 1237.5 L1429 1235.5 L1428.8 1233.5 L1428.8 1231.5 L1428.9 1229.5 L1429.3 1227.5 L1429.7 1225.5 L1430.2 1223.5 L1430.9 1221.5 L1431.8 1219.5 L1432.7 1217.5 L1433.6 1215.5 L1434.6 1213.5 L1435.7 1211.5 L1436.7 1209.5 L1437.7 1207.5 L1438.7 1205.5 L1439.7 1203.5 L1440.8 1201.5 L1441.7 1199.5 L1442.7 1197.5 L1443.6 1195.5 L1444.5 1193.5 L1445.4 1191.5 L1446.2 1189.5 L1447.1 1187.5 L1447.9 1185.5 L1448.7 1183.5 L1449.5 1181.5 L1450.3 1179.5 L1451.1 1177.4 L1451.9 1175.4 L1452.7 1173.4 L1453.5 1171.4 L1454.2 1169.4 L1455 1167.4 L1455.7 1165.4 L1456.3 1163.4 L1457 1161.4 L1457.6 1159.4 L1458.4 1157.4 L1459.3 1155.4 L1460.1 1153.4 L1460.8 1151.4 L1461.2 1149.4 L1461.6 1147.4 L1462 1145.4 L1462.2 1143.4 L1462.4 1141.4 L1462.6 1139.4 L1462.7 1137.4 L1462.8 1135.4 L1462.9 1133.4 L1463 1131.4Z" fill="#4f58ab" stroke="#231f20" stroke-width="1.4" stroke-linejoin="round"/>
<rect x="1457.3" y="1171.8" width="5.4" height="5.8" fill="#0d0d0d"/>
<rect x="1463.2" y="1171.8" width="5.4" height="5.8" fill="#0d0d0d"/>
<rect x="1460.3" y="1185.6" width="5.4" height="5.8" fill="#0d0d0d"/>
<rect x="1454.4" y="1198" width="5.4" height="5.8" fill="#0d0d0d"/>
<rect x="1460.3" y="1198" width="5.4" height="5.8" fill="#0d0d0d"/>
<rect x="1466.2" y="1198" width="5.4" height="5.8" fill="#0d0d0d"/>
<rect x="1454.4" y="1211.2" width="5.4" height="5.8" fill="#0d0d0d"/>
<rect x="1460.3" y="1211.2" width="5.4" height="5.8" fill="#0d0d0d"/>
<rect x="1466.2" y="1211.2" width="5.4" height="5.8" fill="#0d0d0d"/>
<rect x="1442.6" y="1227.6" width="5.4" height="5.8" fill="#0d0d0d"/>
<rect x="1448.5" y="1227.6" width="5.4" height="5.8" fill="#0d0d0d"/>
<rect x="1454.4" y="1227.6" width="5.4" height="5.8" fill="#0d0d0d"/>
<rect x="1460.3" y="1227.6" width="5.4" height="5.8" fill="#0d0d0d"/>
<rect x="1466.2" y="1227.6" width="5.4" height="5.8" fill="#0d0d0d"/>
<rect x="1472.1" y="1227.6" width="5.4" height="5.8" fill="#0d0d0d"/>
<rect x="1478" y="1227.6" width="5.4" height="5.8" fill="#0d0d0d"/>
<rect x="1448.5" y="1237.7" width="5.4" height="5.8" fill="#0d0d0d"/>
<rect x="1454.4" y="1237.7" width="5.4" height="5.8" fill="#0d0d0d"/>
<rect x="1460.3" y="1237.7" width="5.4" height="5.8" fill="#0d0d0d"/>
<rect x="1466.2" y="1237.7" width="5.4" height="5.8" fill="#0d0d0d"/>
<rect x="1472.1" y="1237.7" width="5.4" height="5.8" fill="#0d0d0d"/>
<rect x="1451.5" y="1257.3" width="5.4" height="5.8" fill="#0d0d0d"/>
<rect x="1457.4" y="1257.3" width="5.4" height="5.8" fill="#0d0d0d"/>
<rect x="1463.2" y="1257.3" width="5.4" height="5.8" fill="#0d0d0d"/>
<rect x="1469.2" y="1257.3" width="5.4" height="5.8" fill="#0d0d0d"/>
<rect x="1460.3" y="1281.2" width="5.4" height="5.8" fill="#0d0d0d"/>
<rect x="1460.3" y="1300.3" width="5.4" height="5.8" fill="#0d0d0d"/>
<rect x="1457.3" y="1320.6" width="5.4" height="5.8" fill="#0d0d0d"/>
<rect x="1463.2" y="1320.6" width="5.4" height="5.8" fill="#0d0d0d"/>
<rect x="1459" y="1232.9" width="8" height="8" fill="#fff" stroke="#231f20" stroke-width="1.3"/>
<line x1="1463" y1="1232.9" x2="1463" y2="1240.9" stroke="#3a3636" stroke-width="1.3" stroke-linecap="butt"/>
<line x1="1463" y1="1172.9" x2="1463" y2="1303.2" stroke="#3a3636" stroke-width="1.5" stroke-linecap="butt"/>
<path d="M1537.7 1281.4 L1537.9 1283.4 L1538.6 1285.4 L1539.6 1287.4 L1540.8 1289.4 L1543.1 1291.4 L1546.5 1293.4 L1550.1 1295.4 L1553.7 1297.4 L1557.8 1299.4 L1560.5 1301.4 L1562 1303.4 L1563 1305.5 L1563.2 1307.5 L1562.8 1309.5 L1562.6 1311.5 L1563.6 1313.5 L1565.2 1315.5 L1566.7 1317.5 L1568.3 1319.5 L1569.8 1321.5 L1571 1323.5 L1571.8 1325.5 L1570.8 1327.5 L1568.5 1329.5 L1565.8 1331.5 L1562.3 1333.6 L1558.5 1335.6 L1554.5 1337.6 L1550.3 1339.6 L1546.5 1341.6 L1542.9 1343.6 L1540.5 1345.6 L1539.4 1347.6 L1538.5 1349.6 L1537.9 1351.6 L1537.7 1353.6 L1537.5 1351.6 L1536.9 1349.6 L1536 1347.6 L1534.9 1345.6 L1532.5 1343.6 L1528.9 1341.6 L1525.1 1339.6 L1520.9 1337.6 L1516.9 1335.6 L1513.1 1333.6 L1509.6 1331.5 L1506.9 1329.5 L1504.6 1327.5 L1503.6 1325.5 L1504.4 1323.5 L1505.6 1321.5 L1507.1 1319.5 L1508.7 1317.5 L1510.2 1315.5 L1511.8 1313.5 L1512.8 1311.5 L1512.6 1309.5 L1512.2 1307.5 L1512.4 1305.5 L1513.4 1303.4 L1514.9 1301.4 L1517.6 1299.4 L1521.7 1297.4 L1525.3 1295.4 L1528.9 1293.4 L1532.3 1291.4 L1534.6 1289.4 L1535.8 1287.4 L1536.8 1285.4 L1537.5 1283.4Z" fill="#fff" stroke="#231f20" stroke-width="1.4" stroke-linejoin="round"/>
<rect x="1532" y="1303.3" width="5.4" height="5.8" fill="#0d0d0d"/>
<rect x="1538" y="1303.3" width="5.4" height="5.8" fill="#0d0d0d"/>
<rect x="1529.1" y="1323.4" width="5.4" height="5.8" fill="#0d0d0d"/>
<rect x="1535" y="1323.4" width="5.4" height="5.8" fill="#0d0d0d"/>
<rect x="1540.9" y="1323.4" width="5.4" height="5.8" fill="#0d0d0d"/>
<rect x="1533.7" y="1314.7" width="8" height="8" fill="#fff" stroke="#231f20" stroke-width="1.3"/>
<line x1="1537.7" y1="1314.7" x2="1537.7" y2="1322.7" stroke="#3a3636" stroke-width="1.3" stroke-linecap="butt"/>
<line x1="1537.7" y1="1306.2" x2="1537.7" y2="1326.3" stroke="#3a3636" stroke-width="1.5" stroke-linecap="butt"/>
<path d="M1612.3 1058.3 L1612.3 1060.3 L1612.4 1062.3 L1612.4 1064.3 L1612.5 1066.3 L1612.6 1068.3 L1612.7 1070.3 L1612.9 1072.3 L1613 1074.3 L1613.2 1076.3 L1613.6 1078.4 L1614 1080.4 L1614.5 1082.4 L1615 1084.4 L1615.5 1086.4 L1616 1088.4 L1616.4 1090.4 L1616.9 1092.4 L1617.3 1094.4 L1617.6 1096.4 L1617.9 1098.4 L1618.2 1100.4 L1618.5 1102.4 L1618.6 1104.4 L1618.7 1106.4 L1618.7 1108.5 L1618.7 1110.5 L1618.7 1112.5 L1618.7 1114.5 L1618.7 1116.5 L1618.8 1118.5 L1618.9 1120.5 L1619.2 1122.5 L1619.5 1124.5 L1619.9 1126.5 L1620.6 1128.5 L1621.6 1130.5 L1622.7 1132.5 L1623.8 1134.5 L1624.8 1136.5 L1626 1138.5 L1627.2 1140.6 L1628.4 1142.6 L1629.6 1144.6 L1630.8 1146.6 L1632 1148.6 L1633.1 1150.6 L1634.2 1152.6 L1635.3 1154.6 L1636.4 1156.6 L1637.4 1158.6 L1638.4 1160.6 L1639.4 1162.6 L1640.3 1164.6 L1641.3 1166.6 L1642.2 1168.6 L1643.1 1170.7 L1643.9 1172.7 L1644.5 1174.7 L1645 1176.7 L1645.4 1178.7 L1645.8 1180.7 L1646.1 1182.7 L1646.3 1184.7 L1646.4 1186.7 L1646.4 1188.7 L1646.2 1190.7 L1645.8 1192.7 L1645.2 1194.7 L1644.7 1196.7 L1643.8 1198.7 L1642.8 1200.8 L1641.6 1202.8 L1640.4 1204.8 L1639 1206.8 L1637.6 1208.8 L1636 1210.8 L1634.4 1212.8 L1632.8 1214.8 L1631.1 1216.8 L1629.4 1218.8 L1627.7 1220.8 L1626 1222.8 L1624.4 1224.8 L1622.8 1226.8 L1621.3 1228.8 L1619.9 1230.9 L1618.6 1232.9 L1617.5 1234.9 L1616.5 1236.9 L1615.6 1238.9 L1615 1240.9 L1614.4 1242.9 L1613.9 1244.9 L1613.6 1246.9 L1613.3 1248.9 L1613 1250.9 L1612.8 1252.9 L1612.6 1254.9 L1612.4 1256.9 L1612.3 1258.9 L1612.3 1261 L1612.3 1258.9 L1612.2 1256.9 L1612 1254.9 L1611.8 1252.9 L1611.6 1250.9 L1611.3 1248.9 L1611 1246.9 L1610.7 1244.9 L1610.2 1242.9 L1609.6 1240.9 L1609 1238.9 L1608.1 1236.9 L1607.1 1234.9 L1606 1232.9 L1604.7 1230.9 L1603.3 1228.8 L1601.8 1226.8 L1600.2 1224.8 L1598.6 1222.8 L1596.9 1220.8 L1595.2 1218.8 L1593.5 1216.8 L1591.8 1214.8 L1590.2 1212.8 L1588.6 1210.8 L1587 1208.8 L1585.6 1206.8 L1584.2 1204.8 L1583 1202.8 L1581.8 1200.8 L1580.8 1198.7 L1579.9 1196.7 L1579.4 1194.7 L1578.8 1192.7 L1578.4 1190.7 L1578.2 1188.7 L1578.2 1186.7 L1578.3 1184.7 L1578.5 1182.7 L1578.8 1180.7 L1579.2 1178.7 L1579.6 1176.7 L1580.1 1174.7 L1580.7 1172.7 L1581.5 1170.7 L1582.4 1168.6 L1583.3 1166.6 L1584.3 1164.6 L1585.2 1162.6 L1586.2 1160.6 L1587.2 1158.6 L1588.2 1156.6 L1589.3 1154.6 L1590.4 1152.6 L1591.5 1150.6 L1592.6 1148.6 L1593.8 1146.6 L1595 1144.6 L1596.2 1142.6 L1597.4 1140.6 L1598.6 1138.5 L1599.8 1136.5 L1600.8 1134.5 L1601.9 1132.5 L1603 1130.5 L1604 1128.5 L1604.7 1126.5 L1605.1 1124.5 L1605.4 1122.5 L1605.7 1120.5 L1605.8 1118.5 L1605.9 1116.5 L1605.9 1114.5 L1605.9 1112.5 L1605.9 1110.5 L1605.9 1108.5 L1605.9 1106.4 L1606 1104.4 L1606.1 1102.4 L1606.4 1100.4 L1606.7 1098.4 L1607 1096.4 L1607.3 1094.4 L1607.7 1092.4 L1608.2 1090.4 L1608.6 1088.4 L1609.1 1086.4 L1609.6 1084.4 L1610.1 1082.4 L1610.6 1080.4 L1611 1078.4 L1611.4 1076.3 L1611.6 1074.3 L1611.7 1072.3 L1611.9 1070.3 L1612 1068.3 L1612.1 1066.3 L1612.2 1064.3 L1612.2 1062.3 L1612.3 1060.3Z" fill="url(#hb)" stroke="#231f20" stroke-width="1.4" stroke-linejoin="round"/>
<rect x="1609.6" y="1103.4" width="5.4" height="5.8" fill="#0d0d0d"/>
<rect x="1603.7" y="1151.4" width="5.4" height="5.8" fill="#0d0d0d"/>
<rect x="1609.6" y="1151.4" width="5.4" height="5.8" fill="#0d0d0d"/>
<rect x="1615.5" y="1151.4" width="5.4" height="5.8" fill="#0d0d0d"/>
<rect x="1600.8" y="1178.1" width="5.4" height="5.8" fill="#0d0d0d"/>
<rect x="1606.7" y="1178.1" width="5.4" height="5.8" fill="#0d0d0d"/>
<rect x="1612.5" y="1178.1" width="5.4" height="5.8" fill="#0d0d0d"/>
<rect x="1618.5" y="1178.1" width="5.4" height="5.8" fill="#0d0d0d"/>
<rect x="1606.6" y="1191.8" width="5.4" height="5.8" fill="#0d0d0d"/>
<rect x="1612.5" y="1191.8" width="5.4" height="5.8" fill="#0d0d0d"/>
<rect x="1603.7" y="1204.7" width="5.4" height="5.8" fill="#0d0d0d"/>
<rect x="1609.6" y="1204.7" width="5.4" height="5.8" fill="#0d0d0d"/>
<rect x="1615.5" y="1204.7" width="5.4" height="5.8" fill="#0d0d0d"/>
<rect x="1608.3" y="1173.9" width="8" height="8" fill="#fff" stroke="#231f20" stroke-width="1.3"/>
<line x1="1612.3" y1="1173.9" x2="1612.3" y2="1181.9" stroke="#3a3636" stroke-width="1.3" stroke-linecap="butt"/>
<line x1="1612.3" y1="1106.3" x2="1612.3" y2="1212.2" stroke="#3a3636" stroke-width="1.5" stroke-linecap="butt"/>
<path d="M1687 1122.3 L1687 1124.3 L1687.2 1126.3 L1687.4 1128.3 L1687.6 1130.3 L1687.9 1132.3 L1688.2 1134.3 L1688.6 1136.3 L1689.3 1138.4 L1690.1 1140.4 L1691 1142.4 L1692 1144.4 L1693.2 1146.4 L1694.7 1148.4 L1696.1 1150.4 L1697.5 1152.4 L1698.6 1154.4 L1699.8 1156.4 L1700.9 1158.4 L1701.7 1160.5 L1702.4 1162.5 L1703 1164.5 L1703.4 1166.5 L1703.7 1168.5 L1703.8 1170.5 L1703.8 1172.5 L1703.8 1174.5 L1703.8 1176.5 L1703.8 1178.5 L1703.8 1180.5 L1703.9 1182.5 L1704.1 1184.6 L1704.4 1186.6 L1705.1 1188.6 L1706 1190.6 L1706.9 1192.6 L1707.8 1194.6 L1708.8 1196.6 L1709.8 1198.6 L1710.9 1200.6 L1712 1202.6 L1713.2 1204.6 L1714.5 1206.6 L1715.7 1208.7 L1716.7 1210.7 L1717.5 1212.7 L1718.3 1214.7 L1719 1216.7 L1719.5 1218.7 L1719.9 1220.7 L1720.3 1222.7 L1720.6 1224.7 L1720.9 1226.7 L1721 1228.7 L1720.9 1230.8 L1720.5 1232.8 L1720 1234.8 L1719.4 1236.8 L1718.8 1238.8 L1717.8 1240.8 L1716.7 1242.8 L1715.3 1244.8 L1714 1246.8 L1712.5 1248.8 L1710.8 1250.8 L1709 1252.8 L1707.3 1254.9 L1705.7 1256.9 L1704.2 1258.9 L1702.7 1260.9 L1701.4 1262.9 L1700.2 1264.9 L1699.4 1266.9 L1698.5 1268.9 L1697.8 1270.9 L1697.3 1272.9 L1696.9 1274.9 L1696.5 1277 L1696.2 1279 L1696 1281 L1695.9 1283 L1695.8 1285 L1695.9 1287 L1696 1289 L1696.1 1291 L1696.1 1293 L1696.1 1295 L1696 1297 L1695.8 1299 L1695.4 1301.1 L1695 1303.1 L1694.6 1305.1 L1694.1 1307.1 L1693.5 1309.1 L1692.7 1311.1 L1692 1313.1 L1691.3 1315.1 L1690.5 1317.1 L1689.7 1319.1 L1689 1321.1 L1688.6 1323.2 L1688.3 1325.2 L1688 1327.2 L1687.8 1329.2 L1687.6 1331.2 L1687.5 1333.2 L1687.3 1335.2 L1687.2 1337.2 L1687.1 1339.2 L1687 1341.2 L1687 1343.2 L1687 1341.2 L1686.9 1339.2 L1686.8 1337.2 L1686.7 1335.2 L1686.5 1333.2 L1686.4 1331.2 L1686.2 1329.2 L1686 1327.2 L1685.7 1325.2 L1685.4 1323.2 L1685 1321.1 L1684.3 1319.1 L1683.5 1317.1 L1682.7 1315.1 L1682 1313.1 L1681.3 1311.1 L1680.5 1309.1 L1679.9 1307.1 L1679.4 1305.1 L1679 1303.1 L1678.6 1301.1 L1678.2 1299 L1678 1297 L1677.9 1295 L1677.9 1293 L1677.9 1291 L1678 1289 L1678.1 1287 L1678.2 1285 L1678.1 1283 L1678 1281 L1677.8 1279 L1677.5 1277 L1677.1 1274.9 L1676.7 1272.9 L1676.2 1270.9 L1675.5 1268.9 L1674.6 1266.9 L1673.8 1264.9 L1672.6 1262.9 L1671.3 1260.9 L1669.8 1258.9 L1668.3 1256.9 L1666.7 1254.9 L1665 1252.8 L1663.2 1250.8 L1661.5 1248.8 L1660 1246.8 L1658.7 1244.8 L1657.3 1242.8 L1656.2 1240.8 L1655.2 1238.8 L1654.6 1236.8 L1654 1234.8 L1653.5 1232.8 L1653.1 1230.8 L1653 1228.7 L1653.1 1226.7 L1653.4 1224.7 L1653.7 1222.7 L1654.1 1220.7 L1654.5 1218.7 L1655 1216.7 L1655.7 1214.7 L1656.5 1212.7 L1657.3 1210.7 L1658.3 1208.7 L1659.5 1206.6 L1660.8 1204.6 L1662 1202.6 L1663.1 1200.6 L1664.2 1198.6 L1665.2 1196.6 L1666.2 1194.6 L1667.1 1192.6 L1668 1190.6 L1668.9 1188.6 L1669.6 1186.6 L1669.9 1184.6 L1670.1 1182.5 L1670.2 1180.5 L1670.2 1178.5 L1670.2 1176.5 L1670.2 1174.5 L1670.2 1172.5 L1670.2 1170.5 L1670.3 1168.5 L1670.6 1166.5 L1671 1164.5 L1671.6 1162.5 L1672.3 1160.5 L1673.1 1158.4 L1674.2 1156.4 L1675.4 1154.4 L1676.5 1152.4 L1677.9 1150.4 L1679.3 1148.4 L1680.8 1146.4 L1682 1144.4 L1683 1142.4 L1683.9 1140.4 L1684.7 1138.4 L1685.4 1136.3 L1685.8 1134.3 L1686.1 1132.3 L1686.4 1130.3 L1686.6 1128.3 L1686.8 1126.3 L1687 1124.3Z" fill="url(#hk)" stroke="#231f20" stroke-width="1.4" stroke-linejoin="round"/>
<rect x="1681.3" y="1168.9" width="5.4" height="5.8" fill="#0d0d0d"/>
<rect x="1687.2" y="1168.9" width="5.4" height="5.8" fill="#0d0d0d"/>
<rect x="1684.3" y="1200.1" width="5.4" height="5.8" fill="#0d0d0d"/>
<rect x="1681.3" y="1213.9" width="5.4" height="5.8" fill="#0d0d0d"/>
<rect x="1687.2" y="1213.9" width="5.4" height="5.8" fill="#0d0d0d"/>
<rect x="1678.4" y="1232.9" width="5.4" height="5.8" fill="#0d0d0d"/>
<rect x="1684.3" y="1232.9" width="5.4" height="5.8" fill="#0d0d0d"/>
<rect x="1690.2" y="1232.9" width="5.4" height="5.8" fill="#0d0d0d"/>
<rect x="1684.3" y="1256.5" width="5.4" height="5.8" fill="#0d0d0d"/>
<rect x="1684.3" y="1291.6" width="5.4" height="5.8" fill="#0d0d0d"/>
<rect x="1683" y="1220.4" width="8" height="8" fill="#fff" stroke="#231f20" stroke-width="1.3"/>
<line x1="1687" y1="1220.4" x2="1687" y2="1228.4" stroke="#3a3636" stroke-width="1.3" stroke-linecap="butt"/>
<line x1="1687" y1="1169.5" x2="1687" y2="1259.4" stroke="#3a3636" stroke-width="1.5" stroke-linecap="butt"/>
<text transform="translate(1447.6,1120.3) scale(0.9062,1)" font-size="43" class="nr" style="stroke:#0a0a0a;stroke-width:0.9px">**</text>
<text transform="translate(1513.5,1272.5) scale(0.9169,1)" font-size="43" class="nr" style="stroke:#0a0a0a;stroke-width:0.9px">***</text>
<text class="nb" transform="translate(1360.7,1464.6) rotate(-45) scale(0.84,1)" font-size="37" font-weight="bold">+/+</text>
<text class="nb" transform="translate(1409.2,1503) rotate(-45) scale(0.84,1)" font-size="37" font-weight="bold">RH/RH</text>
<g transform="translate(1546.2,1435.6) rotate(-45)">
<text class="nb" transform="translate(-34.8,0) scale(0.84,1)" font-size="37" font-weight="bold"><tspan dy="-6.5">-</tspan><tspan dy="6.5" dx="4">/</tspan><tspan dy="-6.5" dx="3.2">-</tspan></text>
<rect x="-36.1" y="-18.5" width="12.2" height="7.6" fill="#000"/>
<rect x="-12.2" y="-18.5" width="12.2" height="7.6" fill="#000"/>
</g>
<text class="nb" transform="translate(1567.4,1484) rotate(-45) scale(0.84,1)" font-size="37" font-weight="bold">+/RH</text>
<g transform="translate(1696.7,1430.1) rotate(-45)">
<text class="nb" transform="translate(-40.5,0) scale(0.84,1)" font-size="37" font-weight="bold">+/<tspan dy="-6.5" dx="3.2">-</tspan></text>
<rect x="-12.2" y="-18.5" width="12.2" height="7.6" fill="#000"/>
</g>
<text transform="translate(10,1615.3) scale(0.9008,1)" font-size="62" font-weight="bold" class="nb">f.</text>
<line x1="125.6" y1="1618.4" x2="125.6" y2="2013.1" stroke="#0d0d0d" stroke-width="3" stroke-linecap="butt"/>
<line x1="124.1" y1="2011.6" x2="501.1" y2="2011.6" stroke="#0d0d0d" stroke-width="3" stroke-linecap="butt"/>
<line x1="121" y1="1635.5" x2="125.6" y2="1635.5" stroke="#231f20" stroke-width="2.6" stroke-linecap="butt"/>
<text transform="translate(62.6,1651.7) scale(0.7850,1)" font-size="36.3" class="nr">400</text>
<line x1="121" y1="1721" x2="125.6" y2="1721" stroke="#231f20" stroke-width="2.6" stroke-linecap="butt"/>
<text transform="translate(62.6,1737.4) scale(0.7850,1)" font-size="36.3" class="nr">300</text>
<line x1="121" y1="1806.5" x2="125.6" y2="1806.5" stroke="#231f20" stroke-width="2.6" stroke-linecap="butt"/>
<text transform="translate(62.6,1822.5) scale(0.7850,1)" font-size="36.3" class="nr">200</text>
<line x1="121" y1="1891.7" x2="125.6" y2="1891.7" stroke="#231f20" stroke-width="2.6" stroke-linecap="butt"/>
<text transform="translate(62.6,1905.6) scale(0.7850,1)" font-size="36.3" class="nr">100</text>
<line x1="121" y1="1976.9" x2="125.6" y2="1976.9" stroke="#231f20" stroke-width="2.6" stroke-linecap="butt"/>
<text transform="translate(96.4,1985) scale(0.7850,1)" font-size="36.3" class="nr">0</text>
<line x1="168.9" y1="2011.6" x2="168.9" y2="2017.4" stroke="#231f20" stroke-width="2" stroke-linecap="butt"/>
<line x1="241.5" y1="2011.6" x2="241.5" y2="2017.4" stroke="#231f20" stroke-width="2" stroke-linecap="butt"/>
<line x1="314" y1="2011.6" x2="314" y2="2017.4" stroke="#231f20" stroke-width="2" stroke-linecap="butt"/>
<line x1="386.5" y1="2011.6" x2="386.5" y2="2017.4" stroke="#231f20" stroke-width="2" stroke-linecap="butt"/>
<line x1="459" y1="2011.6" x2="459" y2="2017.4" stroke="#231f20" stroke-width="2" stroke-linecap="butt"/>
<text class="nb" transform="translate(27.4,2016.4) rotate(-90) scale(0.8124,1)" font-size="36" font-weight="bold">2nd Burst Frequency (Hz)</text>
<path d="M168.9 1724.9 L168.9 1727 L168.9 1729 L169 1731 L169.1 1733 L169.2 1735 L169.3 1737 L169.4 1739 L169.5 1741 L169.6 1743 L169.8 1745 L170.1 1747 L170.4 1749 L170.7 1751 L171.1 1753.1 L171.6 1755.1 L172.2 1757.1 L172.7 1759.1 L173.3 1761.1 L174 1763.1 L174.7 1765.1 L175.4 1767.1 L176.1 1769.1 L176.7 1771.1 L177.4 1773.1 L178.1 1775.1 L178.8 1777.1 L179.5 1779.1 L180.3 1781.2 L181 1783.2 L181.7 1785.2 L182.4 1787.2 L183 1789.2 L183.5 1791.2 L184 1793.2 L184.4 1795.2 L184.8 1797.2 L185.2 1799.2 L185.5 1801.2 L185.9 1803.2 L186.2 1805.2 L186.6 1807.3 L187 1809.3 L187.4 1811.3 L187.8 1813.3 L188.1 1815.3 L188.4 1817.3 L188.6 1819.3 L188.8 1821.3 L189.1 1823.3 L189.3 1825.3 L189.6 1827.3 L189.8 1829.3 L190.1 1831.3 L190.3 1833.4 L190.6 1835.4 L190.8 1837.4 L191 1839.4 L191.2 1841.4 L191.4 1843.4 L191.6 1845.4 L191.8 1847.4 L192 1849.4 L192.2 1851.4 L192.3 1853.4 L192.5 1855.4 L192.7 1857.4 L192.9 1859.5 L193 1861.5 L193.2 1863.5 L193.3 1865.5 L193.5 1867.5 L193.7 1869.5 L194 1871.5 L194.3 1873.5 L194.6 1875.5 L194.9 1877.5 L195.3 1879.5 L195.7 1881.5 L196.2 1883.5 L196.7 1885.6 L197.2 1887.6 L197.7 1889.6 L198.3 1891.6 L198.8 1893.6 L199.4 1895.6 L200 1897.6 L200.6 1899.6 L201 1901.6 L201.4 1903.6 L201.7 1905.6 L202 1907.6 L202.1 1909.6 L202.3 1911.7 L202.3 1913.7 L202.2 1915.7 L201.9 1917.7 L201.4 1919.7 L200.8 1921.7 L200.2 1923.7 L199.3 1925.7 L198.4 1927.7 L197.3 1929.7 L196.2 1931.7 L194.9 1933.7 L193.5 1935.7 L192.1 1937.8 L190.7 1939.8 L189.2 1941.8 L187.6 1943.8 L186.1 1945.8 L184.6 1947.8 L183.2 1949.8 L181.9 1951.8 L180.6 1953.8 L179.4 1955.8 L178.2 1957.8 L177.1 1959.8 L176.1 1961.8 L175.1 1963.9 L174.3 1965.9 L173.4 1967.9 L172.7 1969.9 L172.1 1971.9 L171.5 1973.9 L171.1 1975.9 L170.7 1977.9 L170.3 1979.9 L170 1981.9 L169.8 1983.9 L169.5 1985.9 L169.3 1987.9 L169.1 1990 L169 1992 L168.9 1994 L168.8 1992 L168.7 1990 L168.5 1987.9 L168.3 1985.9 L168 1983.9 L167.8 1981.9 L167.5 1979.9 L167.1 1977.9 L166.7 1975.9 L166.3 1973.9 L165.7 1971.9 L165.1 1969.9 L164.4 1967.9 L163.5 1965.9 L162.7 1963.9 L161.7 1961.8 L160.7 1959.8 L159.6 1957.8 L158.4 1955.8 L157.2 1953.8 L155.9 1951.8 L154.6 1949.8 L153.2 1947.8 L151.7 1945.8 L150.2 1943.8 L148.6 1941.8 L147.1 1939.8 L145.7 1937.8 L144.3 1935.7 L142.9 1933.7 L141.6 1931.7 L140.5 1929.7 L139.4 1927.7 L138.5 1925.7 L137.6 1923.7 L137 1921.7 L136.4 1919.7 L135.9 1917.7 L135.6 1915.7 L135.5 1913.7 L135.5 1911.7 L135.7 1909.6 L135.8 1907.6 L136.1 1905.6 L136.4 1903.6 L136.8 1901.6 L137.2 1899.6 L137.8 1897.6 L138.4 1895.6 L139 1893.6 L139.5 1891.6 L140.1 1889.6 L140.6 1887.6 L141.1 1885.6 L141.6 1883.5 L142.1 1881.5 L142.5 1879.5 L142.9 1877.5 L143.2 1875.5 L143.5 1873.5 L143.8 1871.5 L144.1 1869.5 L144.3 1867.5 L144.5 1865.5 L144.6 1863.5 L144.8 1861.5 L144.9 1859.5 L145.1 1857.4 L145.3 1855.4 L145.5 1853.4 L145.6 1851.4 L145.8 1849.4 L146 1847.4 L146.2 1845.4 L146.4 1843.4 L146.6 1841.4 L146.8 1839.4 L147 1837.4 L147.2 1835.4 L147.5 1833.4 L147.7 1831.3 L148 1829.3 L148.2 1827.3 L148.5 1825.3 L148.7 1823.3 L149 1821.3 L149.2 1819.3 L149.4 1817.3 L149.7 1815.3 L150 1813.3 L150.4 1811.3 L150.8 1809.3 L151.2 1807.3 L151.6 1805.2 L151.9 1803.2 L152.3 1801.2 L152.6 1799.2 L153 1797.2 L153.4 1795.2 L153.8 1793.2 L154.3 1791.2 L154.8 1789.2 L155.4 1787.2 L156.1 1785.2 L156.8 1783.2 L157.5 1781.2 L158.3 1779.1 L159 1777.1 L159.7 1775.1 L160.4 1773.1 L161.1 1771.1 L161.7 1769.1 L162.4 1767.1 L163.1 1765.1 L163.8 1763.1 L164.5 1761.1 L165.1 1759.1 L165.6 1757.1 L166.2 1755.1 L166.7 1753.1 L167.1 1751 L167.4 1749 L167.7 1747 L168 1745 L168.2 1743 L168.3 1741 L168.4 1739 L168.5 1737 L168.6 1735 L168.7 1733 L168.8 1731 L168.9 1729 L168.9 1727Z" fill="#dc2a24" stroke="#231f20" stroke-width="1.4" stroke-linejoin="round"/>
<rect x="166.2" y="1788.7" width="5.4" height="5.8" fill="#0d0d0d"/>
<rect x="160.3" y="1801.9" width="5.4" height="5.8" fill="#0d0d0d"/>
<rect x="166.2" y="1801.9" width="5.4" height="5.8" fill="#0d0d0d"/>
<rect x="172.1" y="1801.9" width="5.4" height="5.8" fill="#0d0d0d"/>
<rect x="166.2" y="1825.3" width="5.4" height="5.8" fill="#0d0d0d"/>
<rect x="166.2" y="1838" width="5.4" height="5.8" fill="#0d0d0d"/>
<rect x="163.2" y="1849.9" width="5.4" height="5.8" fill="#0d0d0d"/>
<rect x="169.2" y="1849.9" width="5.4" height="5.8" fill="#0d0d0d"/>
<rect x="160.3" y="1860.8" width="5.4" height="5.8" fill="#0d0d0d"/>
<rect x="166.2" y="1860.8" width="5.4" height="5.8" fill="#0d0d0d"/>
<rect x="172.1" y="1860.8" width="5.4" height="5.8" fill="#0d0d0d"/>
<rect x="166.2" y="1879.9" width="5.4" height="5.8" fill="#0d0d0d"/>
<rect x="163.2" y="1896.2" width="5.4" height="5.8" fill="#0d0d0d"/>
<rect x="169.2" y="1896.2" width="5.4" height="5.8" fill="#0d0d0d"/>
<rect x="154.4" y="1910.7" width="5.4" height="5.8" fill="#0d0d0d"/>
<rect x="160.3" y="1910.7" width="5.4" height="5.8" fill="#0d0d0d"/>
<rect x="166.2" y="1910.7" width="5.4" height="5.8" fill="#0d0d0d"/>
<rect x="172.1" y="1910.7" width="5.4" height="5.8" fill="#0d0d0d"/>
<rect x="178" y="1910.7" width="5.4" height="5.8" fill="#0d0d0d"/>
<rect x="157.3" y="1926.8" width="5.4" height="5.8" fill="#0d0d0d"/>
<rect x="163.2" y="1926.8" width="5.4" height="5.8" fill="#0d0d0d"/>
<rect x="169.2" y="1926.8" width="5.4" height="5.8" fill="#0d0d0d"/>
<rect x="175.1" y="1926.8" width="5.4" height="5.8" fill="#0d0d0d"/>
<rect x="164.9" y="1871.5" width="8" height="8" fill="#fff" stroke="#231f20" stroke-width="1.3"/>
<line x1="168.9" y1="1871.5" x2="168.9" y2="1879.5" stroke="#3a3636" stroke-width="1.3" stroke-linecap="butt"/>
<line x1="168.9" y1="1791.6" x2="168.9" y2="1934.6" stroke="#3a3636" stroke-width="1.5" stroke-linecap="butt"/>
<path d="M241.5 1882.4 L241.6 1884.4 L242 1886.4 L242.5 1888.4 L243.2 1890.4 L244.2 1892.4 L245.9 1894.4 L248 1896.4 L250.8 1898.4 L254.1 1900.4 L257.3 1902.4 L260.7 1904.4 L264 1906.4 L266.9 1908.4 L269.4 1910.4 L271.5 1912.4 L272.9 1914.4 L273.9 1916.4 L274.6 1918.4 L274.6 1920.4 L274 1922.4 L273.2 1924.4 L272.2 1926.4 L270.9 1928.4 L269.6 1930.4 L268.6 1932.4 L267.7 1934.4 L266.9 1936.4 L266.2 1938.4 L265.6 1940.5 L265.1 1942.5 L264.8 1944.5 L264.4 1946.5 L264 1948.5 L263.5 1950.5 L262.9 1952.5 L262.2 1954.5 L261.3 1956.5 L260.3 1958.5 L258.9 1960.5 L257.3 1962.5 L255.6 1964.5 L253.6 1966.5 L251.5 1968.5 L249.5 1970.5 L247.7 1972.5 L246 1974.5 L244.7 1976.5 L243.7 1978.5 L242.9 1980.5 L242.4 1982.5 L242.1 1984.5 L241.8 1986.5 L241.6 1988.5 L241.5 1990.5 L241.4 1988.5 L241.2 1986.5 L240.9 1984.5 L240.6 1982.5 L240.1 1980.5 L239.3 1978.5 L238.3 1976.5 L237 1974.5 L235.3 1972.5 L233.5 1970.5 L231.5 1968.5 L229.4 1966.5 L227.4 1964.5 L225.7 1962.5 L224.1 1960.5 L222.7 1958.5 L221.7 1956.5 L220.8 1954.5 L220.1 1952.5 L219.5 1950.5 L219 1948.5 L218.6 1946.5 L218.2 1944.5 L217.9 1942.5 L217.4 1940.5 L216.8 1938.4 L216.1 1936.4 L215.3 1934.4 L214.4 1932.4 L213.4 1930.4 L212.1 1928.4 L210.8 1926.4 L209.8 1924.4 L209 1922.4 L208.4 1920.4 L208.4 1918.4 L209.1 1916.4 L210.1 1914.4 L211.5 1912.4 L213.6 1910.4 L216.1 1908.4 L219 1906.4 L222.3 1904.4 L225.7 1902.4 L228.9 1900.4 L232.2 1898.4 L235 1896.4 L237.1 1894.4 L238.8 1892.4 L239.8 1890.4 L240.5 1888.4 L241 1886.4 L241.4 1884.4Z" fill="#4f58ab" stroke="#231f20" stroke-width="1.4" stroke-linejoin="round"/>
<rect x="227" y="1912.3" width="5.4" height="5.8" fill="#0d0d0d"/>
<rect x="232.9" y="1912.3" width="5.4" height="5.8" fill="#0d0d0d"/>
<rect x="238.8" y="1912.3" width="5.4" height="5.8" fill="#0d0d0d"/>
<rect x="244.7" y="1912.3" width="5.4" height="5.8" fill="#0d0d0d"/>
<rect x="250.6" y="1912.3" width="5.4" height="5.8" fill="#0d0d0d"/>
<rect x="232.9" y="1930" width="5.4" height="5.8" fill="#0d0d0d"/>
<rect x="238.8" y="1930" width="5.4" height="5.8" fill="#0d0d0d"/>
<rect x="244.7" y="1930" width="5.4" height="5.8" fill="#0d0d0d"/>
<rect x="235.8" y="1944.8" width="5.4" height="5.8" fill="#0d0d0d"/>
<rect x="241.8" y="1944.8" width="5.4" height="5.8" fill="#0d0d0d"/>
<rect x="235.8" y="1956.5" width="5.4" height="5.8" fill="#0d0d0d"/>
<rect x="241.8" y="1956.5" width="5.4" height="5.8" fill="#0d0d0d"/>
<rect x="237.5" y="1928.5" width="8" height="8" fill="#fff" stroke="#231f20" stroke-width="1.3"/>
<line x1="241.5" y1="1928.5" x2="241.5" y2="1936.5" stroke="#3a3636" stroke-width="1.3" stroke-linecap="butt"/>
<line x1="241.5" y1="1915.2" x2="241.5" y2="1962.2" stroke="#3a3636" stroke-width="1.5" stroke-linecap="butt"/>
<path d="M386.5 1736.3 L386.5 1738.3 L386.6 1740.3 L386.8 1742.3 L386.9 1744.3 L387.1 1746.3 L387.4 1748.3 L387.7 1750.3 L388.3 1752.3 L389.1 1754.3 L389.8 1756.3 L390.5 1758.3 L391.2 1760.3 L391.9 1762.3 L392.5 1764.3 L392.8 1766.3 L393.1 1768.3 L393.4 1770.3 L393.5 1772.3 L393.6 1774.3 L393.6 1776.3 L393.3 1778.3 L392.9 1780.3 L392.4 1782.3 L391.9 1784.3 L391.3 1786.4 L390.6 1788.4 L389.9 1790.4 L389.3 1792.4 L388.8 1794.4 L388.5 1796.4 L388.2 1798.4 L388 1800.4 L387.9 1802.4 L388 1804.4 L388.2 1806.4 L388.5 1808.4 L388.8 1810.4 L389.4 1812.4 L390.3 1814.4 L391.5 1816.4 L392.7 1818.4 L393.8 1820.4 L395 1822.4 L396.3 1824.4 L397.7 1826.4 L399.1 1828.4 L400.7 1830.4 L402.3 1832.4 L403.9 1834.4 L405.5 1836.4 L407.1 1838.4 L408.7 1840.4 L410.3 1842.4 L411.7 1844.4 L413.2 1846.4 L414.6 1848.4 L415.8 1850.4 L416.9 1852.4 L417.7 1854.4 L418.6 1856.4 L419.2 1858.4 L419.6 1860.4 L419.7 1862.4 L419.8 1864.4 L419.8 1866.4 L419.8 1868.4 L419.6 1870.4 L419.1 1872.4 L418.5 1874.4 L418 1876.4 L417.4 1878.4 L416.7 1880.4 L415.9 1882.4 L415.1 1884.4 L414.2 1886.4 L413.3 1888.4 L412.3 1890.4 L411.1 1892.4 L409.9 1894.4 L408.5 1896.4 L407 1898.4 L405.5 1900.4 L404 1902.4 L402.4 1904.4 L400.8 1906.4 L399.2 1908.5 L397.7 1910.5 L396.2 1912.5 L394.7 1914.5 L393.3 1916.5 L392.1 1918.5 L391.1 1920.5 L390.1 1922.5 L389.3 1924.5 L388.6 1926.5 L388 1928.5 L387.5 1930.5 L387.2 1932.5 L386.9 1934.5 L386.7 1936.5 L386.6 1938.5 L386.5 1940.5 L386.4 1938.5 L386.3 1936.5 L386.1 1934.5 L385.8 1932.5 L385.5 1930.5 L385 1928.5 L384.4 1926.5 L383.7 1924.5 L382.9 1922.5 L381.9 1920.5 L380.9 1918.5 L379.7 1916.5 L378.3 1914.5 L376.8 1912.5 L375.3 1910.5 L373.8 1908.5 L372.2 1906.4 L370.6 1904.4 L369 1902.4 L367.5 1900.4 L366 1898.4 L364.5 1896.4 L363.1 1894.4 L361.9 1892.4 L360.7 1890.4 L359.7 1888.4 L358.8 1886.4 L357.9 1884.4 L357.1 1882.4 L356.3 1880.4 L355.6 1878.4 L355 1876.4 L354.5 1874.4 L353.9 1872.4 L353.4 1870.4 L353.2 1868.4 L353.2 1866.4 L353.2 1864.4 L353.3 1862.4 L353.4 1860.4 L353.8 1858.4 L354.4 1856.4 L355.3 1854.4 L356.1 1852.4 L357.2 1850.4 L358.4 1848.4 L359.8 1846.4 L361.3 1844.4 L362.7 1842.4 L364.3 1840.4 L365.9 1838.4 L367.5 1836.4 L369.1 1834.4 L370.7 1832.4 L372.3 1830.4 L373.9 1828.4 L375.3 1826.4 L376.7 1824.4 L378 1822.4 L379.2 1820.4 L380.3 1818.4 L381.5 1816.4 L382.7 1814.4 L383.6 1812.4 L384.2 1810.4 L384.5 1808.4 L384.8 1806.4 L385 1804.4 L385.1 1802.4 L385 1800.4 L384.8 1798.4 L384.5 1796.4 L384.2 1794.4 L383.7 1792.4 L383.1 1790.4 L382.4 1788.4 L381.7 1786.4 L381.1 1784.3 L380.6 1782.3 L380.1 1780.3 L379.7 1778.3 L379.4 1776.3 L379.4 1774.3 L379.5 1772.3 L379.6 1770.3 L379.9 1768.3 L380.2 1766.3 L380.5 1764.3 L381.1 1762.3 L381.8 1760.3 L382.5 1758.3 L383.2 1756.3 L383.9 1754.3 L384.7 1752.3 L385.3 1750.3 L385.6 1748.3 L385.9 1746.3 L386.1 1744.3 L386.2 1742.3 L386.4 1740.3 L386.5 1738.3Z" fill="url(#hb)" stroke="#231f20" stroke-width="1.4" stroke-linejoin="round"/>
<rect x="383.8" y="1773.5" width="5.4" height="5.8" fill="#0d0d0d"/>
<rect x="383.8" y="1829.8" width="5.4" height="5.8" fill="#0d0d0d"/>
<rect x="380.9" y="1850.1" width="5.4" height="5.8" fill="#0d0d0d"/>
<rect x="386.8" y="1850.1" width="5.4" height="5.8" fill="#0d0d0d"/>
<rect x="377.9" y="1862.6" width="5.4" height="5.8" fill="#0d0d0d"/>
<rect x="383.8" y="1862.6" width="5.4" height="5.8" fill="#0d0d0d"/>
<rect x="389.7" y="1862.6" width="5.4" height="5.8" fill="#0d0d0d"/>
<rect x="380.9" y="1882" width="5.4" height="5.8" fill="#0d0d0d"/>
<rect x="386.8" y="1882" width="5.4" height="5.8" fill="#0d0d0d"/>
<rect x="380.9" y="1895.3" width="5.4" height="5.8" fill="#0d0d0d"/>
<rect x="386.8" y="1895.3" width="5.4" height="5.8" fill="#0d0d0d"/>
<rect x="382.5" y="1858.1" width="8" height="8" fill="#fff" stroke="#231f20" stroke-width="1.3"/>
<line x1="386.5" y1="1858.1" x2="386.5" y2="1866.1" stroke="#3a3636" stroke-width="1.3" stroke-linecap="butt"/>
<line x1="386.5" y1="1832.7" x2="386.5" y2="1901.2" stroke="#3a3636" stroke-width="1.5" stroke-linecap="butt"/>
<path d="M459 1848.8 L459.1 1850.8 L459.4 1852.8 L459.9 1854.9 L460.5 1856.9 L461.8 1858.9 L463.4 1860.9 L465.5 1862.9 L468.3 1865 L471.4 1867 L474.3 1869 L477.2 1871 L480 1873 L482.5 1875 L484.9 1877.1 L487 1879.1 L488.6 1881.1 L490 1883.1 L491 1885.1 L491.5 1887.1 L491.8 1889.2 L492 1891.2 L491.9 1893.2 L491.4 1895.2 L490.9 1897.2 L490.3 1899.3 L489.6 1901.3 L488.9 1903.3 L488 1905.3 L487 1907.3 L486 1909.3 L484.8 1911.4 L483.5 1913.4 L482.1 1915.4 L480.7 1917.4 L479.4 1919.4 L478.2 1921.4 L477 1923.5 L476 1925.5 L475.3 1927.5 L474.6 1929.5 L473.9 1931.5 L473.1 1933.6 L472.4 1935.6 L471.6 1937.6 L470.8 1939.6 L469.7 1941.6 L468.4 1943.6 L467.2 1945.7 L466 1947.7 L464.8 1949.7 L463.6 1951.7 L462.5 1953.7 L461.4 1955.8 L460.6 1957.8 L460.1 1959.8 L459.7 1961.8 L459.3 1963.8 L459.1 1965.8 L459 1967.9 L458.9 1965.8 L458.7 1963.8 L458.3 1961.8 L457.9 1959.8 L457.4 1957.8 L456.6 1955.8 L455.5 1953.7 L454.4 1951.7 L453.2 1949.7 L452 1947.7 L450.8 1945.7 L449.6 1943.6 L448.3 1941.6 L447.2 1939.6 L446.4 1937.6 L445.6 1935.6 L444.9 1933.6 L444.1 1931.5 L443.4 1929.5 L442.7 1927.5 L442 1925.5 L441 1923.5 L439.8 1921.4 L438.6 1919.4 L437.3 1917.4 L435.9 1915.4 L434.5 1913.4 L433.2 1911.4 L432 1909.3 L431 1907.3 L430 1905.3 L429.1 1903.3 L428.4 1901.3 L427.7 1899.3 L427.1 1897.2 L426.6 1895.2 L426.1 1893.2 L426 1891.2 L426.2 1889.2 L426.5 1887.1 L427 1885.1 L428 1883.1 L429.4 1881.1 L431 1879.1 L433.1 1877.1 L435.5 1875 L438 1873 L440.8 1871 L443.7 1869 L446.6 1867 L449.7 1865 L452.5 1862.9 L454.6 1860.9 L456.2 1858.9 L457.5 1856.9 L458.1 1854.9 L458.6 1852.8 L458.9 1850.8Z" fill="url(#hk)" stroke="#231f20" stroke-width="1.4" stroke-linejoin="round"/>
<rect x="456.3" y="1878.1" width="5.4" height="5.8" fill="#0d0d0d"/>
<rect x="453.4" y="1887" width="5.4" height="5.8" fill="#0d0d0d"/>
<rect x="459.2" y="1887" width="5.4" height="5.8" fill="#0d0d0d"/>
<rect x="453.4" y="1906.6" width="5.4" height="5.8" fill="#0d0d0d"/>
<rect x="459.2" y="1906.6" width="5.4" height="5.8" fill="#0d0d0d"/>
<rect x="456.3" y="1935.2" width="5.4" height="5.8" fill="#0d0d0d"/>
<rect x="455" y="1898.4" width="8" height="8" fill="#fff" stroke="#231f20" stroke-width="1.3"/>
<line x1="459" y1="1898.4" x2="459" y2="1906.4" stroke="#3a3636" stroke-width="1.3" stroke-linecap="butt"/>
<line x1="459" y1="1879.8" x2="459" y2="1938.1" stroke="#3a3636" stroke-width="1.5" stroke-linecap="butt"/>
<text transform="translate(220.4,1856.1) scale(0.9415,1)" font-size="43" class="nr" style="stroke:#0a0a0a;stroke-width:0.9px">***</text>
<text class="nb" transform="translate(137.9,2071.6) rotate(-45) scale(0.84,1)" font-size="37" font-weight="bold">+/+</text>
<text class="nb" transform="translate(186.9,2109.8) rotate(-45) scale(0.84,1)" font-size="37" font-weight="bold">RH/RH</text>
<g transform="translate(324,2042.6) rotate(-45)">
<text class="nb" transform="translate(-34.8,0) scale(0.84,1)" font-size="37" font-weight="bold"><tspan dy="-6.5">-</tspan><tspan dy="6.5" dx="4">/</tspan><tspan dy="-6.5" dx="3.2">-</tspan></text>
<rect x="-36.1" y="-18.5" width="12.2" height="7.6" fill="#000"/>
<rect x="-12.2" y="-18.5" width="12.2" height="7.6" fill="#000"/>
</g>
<text class="nb" transform="translate(345.4,2090.8) rotate(-45) scale(0.84,1)" font-size="37" font-weight="bold">+/RH</text>
<g transform="translate(474.7,2036.8) rotate(-45)">
<text class="nb" transform="translate(-40.5,0) scale(0.84,1)" font-size="37" font-weight="bold">+/<tspan dy="-6.5" dx="3.2">-</tspan></text>
<rect x="-12.2" y="-18.5" width="12.2" height="7.6" fill="#000"/>
</g>
<line x1="730.9" y1="1614.2" x2="730.9" y2="2009.8" stroke="#0d0d0d" stroke-width="3" stroke-linecap="butt"/>
<line x1="729.4" y1="2008.3" x2="1118.2" y2="2008.3" stroke="#0d0d0d" stroke-width="3" stroke-linecap="butt"/>
<line x1="726.3" y1="1632.6" x2="730.9" y2="1632.6" stroke="#231f20" stroke-width="2.6" stroke-linecap="butt"/>
<text transform="translate(686.1,1645.7) scale(0.7850,1)" font-size="36.3" class="nr">10</text>
<line x1="726.3" y1="1697.9" x2="730.9" y2="1697.9" stroke="#231f20" stroke-width="2.6" stroke-linecap="butt"/>
<text transform="translate(702.2,1711.5) scale(0.7850,1)" font-size="36.3" class="nr">8</text>
<line x1="726.3" y1="1762.8" x2="730.9" y2="1762.8" stroke="#231f20" stroke-width="2.6" stroke-linecap="butt"/>
<text transform="translate(702.2,1779) scale(0.7850,1)" font-size="36.3" class="nr">6</text>
<line x1="726.3" y1="1828.1" x2="730.9" y2="1828.1" stroke="#231f20" stroke-width="2.6" stroke-linecap="butt"/>
<text transform="translate(701.8,1842.7) scale(0.7850,1)" font-size="36.3" class="nr">4</text>
<line x1="726.3" y1="1893.1" x2="730.9" y2="1893.1" stroke="#231f20" stroke-width="2.6" stroke-linecap="butt"/>
<text transform="translate(702.4,1907.7) scale(0.7850,1)" font-size="36.3" class="nr">2</text>
<line x1="726.3" y1="1958.1" x2="730.9" y2="1958.1" stroke="#231f20" stroke-width="2.6" stroke-linecap="butt"/>
<text transform="translate(702,1972.6) scale(0.7850,1)" font-size="36.3" class="nr">0</text>
<line x1="775.2" y1="2008.3" x2="775.2" y2="2014.1" stroke="#231f20" stroke-width="2" stroke-linecap="butt"/>
<line x1="849.8" y1="2008.3" x2="849.8" y2="2014.1" stroke="#231f20" stroke-width="2" stroke-linecap="butt"/>
<line x1="924.3" y1="2008.3" x2="924.3" y2="2014.1" stroke="#231f20" stroke-width="2" stroke-linecap="butt"/>
<line x1="998.9" y1="2008.3" x2="998.9" y2="2014.1" stroke="#231f20" stroke-width="2" stroke-linecap="butt"/>
<line x1="1073.6" y1="2008.3" x2="1073.6" y2="2014.1" stroke="#231f20" stroke-width="2" stroke-linecap="butt"/>
<text class="nb" transform="translate(663.7,1963.6) rotate(-90) scale(0.8370,1)" font-size="36" font-weight="bold">No. of APs 2nd burst</text>
<path d="M775.2 1727.1 L775.3 1729.1 L775.4 1731.1 L775.6 1733.1 L775.8 1735.1 L776.1 1737.1 L776.6 1739.1 L777.2 1741.1 L777.9 1743.1 L778.8 1745.2 L779.9 1747.2 L781.2 1749.2 L782.5 1751.2 L783.9 1753.2 L785.2 1755.2 L786.3 1757.2 L787.2 1759.2 L787.8 1761.2 L788 1763.2 L787.8 1765.2 L787.4 1767.2 L786.6 1769.2 L785.7 1771.2 L784.7 1773.2 L783.8 1775.2 L783 1777.2 L782.5 1779.3 L782.1 1781.3 L782.1 1783.3 L782.2 1785.3 L782.4 1787.3 L782.8 1789.3 L783.1 1791.3 L783.4 1793.3 L783.6 1795.3 L783.7 1797.3 L783.7 1799.3 L783.8 1801.3 L784 1803.3 L784.4 1805.3 L785.2 1807.3 L786.3 1809.3 L788 1811.4 L790.1 1813.4 L792.5 1815.4 L795.2 1817.4 L797.9 1819.4 L800.5 1821.4 L802.6 1823.4 L804.2 1825.4 L805 1827.4 L805.1 1829.4 L804.4 1831.4 L803.2 1833.4 L801.6 1835.4 L800 1837.4 L798.6 1839.4 L797.7 1841.4 L797.4 1843.4 L797.9 1845.5 L799.1 1847.5 L800.8 1849.5 L803 1851.5 L805.2 1853.5 L807.1 1855.5 L808.6 1857.5 L809.4 1859.5 L809.2 1861.5 L808.2 1863.5 L806.4 1865.5 L804 1867.5 L801.1 1869.5 L798.2 1871.5 L795.5 1873.5 L793.1 1875.5 L791.2 1877.5 L789.9 1879.6 L789.1 1881.6 L788.8 1883.6 L788.8 1885.6 L789 1887.6 L789.2 1889.6 L789.2 1891.6 L789 1893.6 L788.5 1895.6 L787.6 1897.6 L786.5 1899.6 L785.2 1901.6 L783.8 1903.6 L782.4 1905.6 L781 1907.6 L779.7 1909.6 L778.6 1911.7 L777.7 1913.7 L777 1915.7 L776.4 1917.7 L776 1919.7 L775.7 1921.7 L775.5 1923.7 L775.4 1925.7 L775.2 1927.7 L775 1925.7 L774.9 1923.7 L774.7 1921.7 L774.4 1919.7 L774 1917.7 L773.4 1915.7 L772.7 1913.7 L771.8 1911.7 L770.7 1909.6 L769.4 1907.6 L768 1905.6 L766.6 1903.6 L765.2 1901.6 L763.9 1899.6 L762.8 1897.6 L761.9 1895.6 L761.4 1893.6 L761.2 1891.6 L761.2 1889.6 L761.4 1887.6 L761.6 1885.6 L761.6 1883.6 L761.3 1881.6 L760.5 1879.6 L759.2 1877.5 L757.3 1875.5 L754.9 1873.5 L752.2 1871.5 L749.3 1869.5 L746.4 1867.5 L744 1865.5 L742.2 1863.5 L741.2 1861.5 L741 1859.5 L741.8 1857.5 L743.3 1855.5 L745.2 1853.5 L747.4 1851.5 L749.6 1849.5 L751.3 1847.5 L752.5 1845.5 L753 1843.4 L752.7 1841.4 L751.8 1839.4 L750.4 1837.4 L748.8 1835.4 L747.2 1833.4 L746 1831.4 L745.3 1829.4 L745.4 1827.4 L746.2 1825.4 L747.8 1823.4 L749.9 1821.4 L752.5 1819.4 L755.2 1817.4 L757.9 1815.4 L760.3 1813.4 L762.4 1811.4 L764.1 1809.3 L765.2 1807.3 L766 1805.3 L766.4 1803.3 L766.6 1801.3 L766.7 1799.3 L766.7 1797.3 L766.8 1795.3 L767 1793.3 L767.3 1791.3 L767.6 1789.3 L768 1787.3 L768.2 1785.3 L768.3 1783.3 L768.3 1781.3 L767.9 1779.3 L767.4 1777.2 L766.6 1775.2 L765.7 1773.2 L764.7 1771.2 L763.8 1769.2 L763 1767.2 L762.6 1765.2 L762.4 1763.2 L762.6 1761.2 L763.2 1759.2 L764.1 1757.2 L765.2 1755.2 L766.5 1753.2 L767.9 1751.2 L769.2 1749.2 L770.5 1747.2 L771.6 1745.2 L772.5 1743.1 L773.2 1741.1 L773.8 1739.1 L774.3 1737.1 L774.6 1735.1 L774.8 1733.1 L775 1731.1 L775.1 1729.1Z" fill="#dc2a24" stroke="#231f20" stroke-width="1.4" stroke-linejoin="round"/>
<rect x="766.6" y="1760.1" width="5.4" height="5.8" fill="#0d0d0d"/>
<rect x="772.5" y="1760.1" width="5.4" height="5.8" fill="#0d0d0d"/>
<rect x="778.4" y="1760.1" width="5.4" height="5.8" fill="#0d0d0d"/>
<rect x="769.6" y="1792.6" width="5.4" height="5.8" fill="#0d0d0d"/>
<rect x="775.5" y="1792.6" width="5.4" height="5.8" fill="#0d0d0d"/>
<rect x="754.8" y="1825.1" width="5.4" height="5.8" fill="#0d0d0d"/>
<rect x="760.7" y="1825.1" width="5.4" height="5.8" fill="#0d0d0d"/>
<rect x="766.6" y="1825.1" width="5.4" height="5.8" fill="#0d0d0d"/>
<rect x="772.5" y="1825.1" width="5.4" height="5.8" fill="#0d0d0d"/>
<rect x="778.4" y="1825.1" width="5.4" height="5.8" fill="#0d0d0d"/>
<rect x="784.3" y="1825.1" width="5.4" height="5.8" fill="#0d0d0d"/>
<rect x="790.2" y="1825.1" width="5.4" height="5.8" fill="#0d0d0d"/>
<rect x="751.9" y="1857.6" width="5.4" height="5.8" fill="#0d0d0d"/>
<rect x="757.8" y="1857.6" width="5.4" height="5.8" fill="#0d0d0d"/>
<rect x="763.6" y="1857.6" width="5.4" height="5.8" fill="#0d0d0d"/>
<rect x="769.6" y="1857.6" width="5.4" height="5.8" fill="#0d0d0d"/>
<rect x="775.5" y="1857.6" width="5.4" height="5.8" fill="#0d0d0d"/>
<rect x="781.4" y="1857.6" width="5.4" height="5.8" fill="#0d0d0d"/>
<rect x="787.2" y="1857.6" width="5.4" height="5.8" fill="#0d0d0d"/>
<rect x="793.1" y="1857.6" width="5.4" height="5.8" fill="#0d0d0d"/>
<rect x="766.6" y="1890.1" width="5.4" height="5.8" fill="#0d0d0d"/>
<rect x="772.5" y="1890.1" width="5.4" height="5.8" fill="#0d0d0d"/>
<rect x="778.4" y="1890.1" width="5.4" height="5.8" fill="#0d0d0d"/>
<rect x="771.2" y="1832.6" width="8" height="8" fill="#fff" stroke="#231f20" stroke-width="1.3"/>
<line x1="775.2" y1="1832.6" x2="775.2" y2="1840.6" stroke="#3a3636" stroke-width="1.3" stroke-linecap="butt"/>
<line x1="775.2" y1="1795.5" x2="775.2" y2="1893" stroke="#3a3636" stroke-width="1.5" stroke-linecap="butt"/>
<path d="M849.8 1850.3 L851.2 1852.3 L853.5 1854.4 L856.7 1856.4 L859.7 1858.4 L861.6 1860.5 L859.9 1862.5 L856.8 1864.5 L853.1 1866.5 L850.8 1868.6 L850.4 1870.6 L850.3 1872.6 L850.3 1874.7 L850.3 1876.7 L850.3 1878.7 L850.4 1880.8 L850.8 1882.8 L852.1 1884.8 L855.3 1886.9 L862.2 1888.9 L873.8 1890.9 L884.1 1892.9 L872.9 1895 L862.6 1897 L855.8 1899 L851.9 1901.1 L849.8 1903.1 L847.7 1901.1 L843.8 1899 L837 1897 L826.7 1895 L815.5 1892.9 L825.8 1890.9 L837.4 1888.9 L844.3 1886.9 L847.5 1884.8 L848.8 1882.8 L849.2 1880.8 L849.3 1878.7 L849.3 1876.7 L849.3 1874.7 L849.3 1872.6 L849.2 1870.6 L848.8 1868.6 L846.5 1866.5 L842.8 1864.5 L839.7 1862.5 L838 1860.5 L839.9 1858.4 L842.9 1856.4 L846.1 1854.4 L848.4 1852.3Z" fill="#4f58ab" stroke="#231f20" stroke-width="1.4" stroke-linejoin="round"/>
<rect x="841.2" y="1857.6" width="5.4" height="5.8" fill="#0d0d0d"/>
<rect x="847.1" y="1857.6" width="5.4" height="5.8" fill="#0d0d0d"/>
<rect x="853" y="1857.6" width="5.4" height="5.8" fill="#0d0d0d"/>
<rect x="823.5" y="1890.1" width="5.4" height="5.8" fill="#0d0d0d"/>
<rect x="829.4" y="1890.1" width="5.4" height="5.8" fill="#0d0d0d"/>
<rect x="835.3" y="1890.1" width="5.4" height="5.8" fill="#0d0d0d"/>
<rect x="841.2" y="1890.1" width="5.4" height="5.8" fill="#0d0d0d"/>
<rect x="847.1" y="1890.1" width="5.4" height="5.8" fill="#0d0d0d"/>
<rect x="853" y="1890.1" width="5.4" height="5.8" fill="#0d0d0d"/>
<rect x="858.9" y="1890.1" width="5.4" height="5.8" fill="#0d0d0d"/>
<rect x="864.8" y="1890.1" width="5.4" height="5.8" fill="#0d0d0d"/>
<rect x="870.7" y="1890.1" width="5.4" height="5.8" fill="#0d0d0d"/>
<rect x="845.8" y="1879.7" width="8" height="8" fill="#fff" stroke="#231f20" stroke-width="1.3"/>
<line x1="849.8" y1="1879.7" x2="849.8" y2="1887.7" stroke="#3a3636" stroke-width="1.3" stroke-linecap="butt"/>
<line x1="849.8" y1="1869" x2="849.8" y2="1893" stroke="#3a3636" stroke-width="1.5" stroke-linecap="butt"/>
<path d="M998.9 1648.3 L998.9 1650.3 L998.9 1652.3 L999 1654.3 L999 1656.3 L999 1658.4 L999.1 1660.4 L999.2 1662.4 L999.3 1664.4 L999.4 1666.4 L999.5 1668.4 L999.6 1670.4 L999.7 1672.4 L999.8 1674.4 L1000 1676.4 L1000.4 1678.4 L1000.8 1680.4 L1001.2 1682.4 L1001.7 1684.4 L1002.2 1686.4 L1002.7 1688.4 L1003.4 1690.4 L1004.2 1692.4 L1005 1694.4 L1005.8 1696.4 L1006.6 1698.4 L1007.4 1700.4 L1008.1 1702.4 L1008.9 1704.4 L1009.7 1706.5 L1010.4 1708.5 L1011.2 1710.5 L1011.9 1712.5 L1012.7 1714.5 L1013.4 1716.5 L1014.2 1718.5 L1014.9 1720.5 L1015.7 1722.5 L1016.4 1724.5 L1017.2 1726.5 L1017.9 1728.5 L1018.7 1730.5 L1019.5 1732.5 L1020.2 1734.5 L1021 1736.5 L1021.7 1738.5 L1022.4 1740.5 L1023.1 1742.5 L1023.7 1744.5 L1024.4 1746.5 L1025 1748.5 L1025.6 1750.5 L1026.2 1752.5 L1026.7 1754.6 L1027.3 1756.6 L1027.8 1758.6 L1028.3 1760.6 L1028.8 1762.6 L1029.3 1764.6 L1029.7 1766.6 L1030.1 1768.6 L1030.5 1770.6 L1030.8 1772.6 L1031.2 1774.6 L1031.5 1776.6 L1031.7 1778.6 L1032 1780.6 L1032.2 1782.6 L1032.4 1784.6 L1032.6 1786.6 L1032.8 1788.6 L1032.9 1790.6 L1033 1792.6 L1033.1 1794.6 L1033.1 1796.6 L1033 1798.6 L1032.9 1800.6 L1032.8 1802.6 L1032.6 1804.7 L1032.5 1806.7 L1032.3 1808.7 L1032.2 1810.7 L1032 1812.7 L1031.8 1814.7 L1031.5 1816.7 L1031.2 1818.7 L1030.9 1820.7 L1030.7 1822.7 L1030.4 1824.7 L1030.1 1826.7 L1029.8 1828.7 L1029.4 1830.7 L1029.1 1832.7 L1028.8 1834.7 L1028.4 1836.7 L1028 1838.7 L1027.6 1840.7 L1027.2 1842.7 L1026.8 1844.7 L1026.3 1846.7 L1025.9 1848.7 L1025.4 1850.7 L1024.9 1852.8 L1024.4 1854.8 L1024 1856.8 L1023.5 1858.8 L1022.9 1860.8 L1022.4 1862.8 L1021.8 1864.8 L1021.2 1866.8 L1020.6 1868.8 L1020 1870.8 L1019.3 1872.8 L1018.7 1874.8 L1018 1876.8 L1017.4 1878.8 L1016.8 1880.8 L1016.2 1882.8 L1015.5 1884.8 L1014.9 1886.8 L1014.3 1888.8 L1013.6 1890.8 L1013 1892.8 L1012.3 1894.8 L1011.6 1896.8 L1010.9 1898.8 L1010.2 1900.8 L1009.6 1902.9 L1008.9 1904.9 L1008.2 1906.9 L1007.5 1908.9 L1006.9 1910.9 L1006.2 1912.9 L1005.6 1914.9 L1005 1916.9 L1004.4 1918.9 L1003.9 1920.9 L1003.4 1922.9 L1002.9 1924.9 L1002.4 1926.9 L1002 1928.9 L1001.6 1930.9 L1001.1 1932.9 L1000.7 1934.9 L1000.4 1936.9 L1000.2 1938.9 L1000 1940.9 L999.9 1942.9 L999.8 1944.9 L999.7 1946.9 L999.6 1948.9 L999.5 1951 L999.4 1953 L999.3 1955 L999.2 1957 L999.2 1959 L999.1 1961 L999 1963 L999 1965 L999 1967 L998.9 1969 L998.9 1971 L998.9 1973 L998.9 1975 L998.9 1973 L998.9 1971 L998.9 1969 L998.8 1967 L998.8 1965 L998.8 1963 L998.7 1961 L998.6 1959 L998.6 1957 L998.5 1955 L998.4 1953 L998.3 1951 L998.2 1948.9 L998.1 1946.9 L998 1944.9 L997.9 1942.9 L997.8 1940.9 L997.6 1938.9 L997.4 1936.9 L997.1 1934.9 L996.7 1932.9 L996.2 1930.9 L995.8 1928.9 L995.4 1926.9 L994.9 1924.9 L994.4 1922.9 L993.9 1920.9 L993.4 1918.9 L992.8 1916.9 L992.2 1914.9 L991.6 1912.9 L990.9 1910.9 L990.3 1908.9 L989.6 1906.9 L988.9 1904.9 L988.2 1902.9 L987.6 1900.8 L986.9 1898.8 L986.2 1896.8 L985.5 1894.8 L984.8 1892.8 L984.2 1890.8 L983.5 1888.8 L982.9 1886.8 L982.3 1884.8 L981.6 1882.8 L981 1880.8 L980.4 1878.8 L979.8 1876.8 L979.1 1874.8 L978.5 1872.8 L977.8 1870.8 L977.2 1868.8 L976.6 1866.8 L976 1864.8 L975.4 1862.8 L974.9 1860.8 L974.3 1858.8 L973.8 1856.8 L973.4 1854.8 L972.9 1852.8 L972.4 1850.7 L971.9 1848.7 L971.5 1846.7 L971 1844.7 L970.6 1842.7 L970.2 1840.7 L969.8 1838.7 L969.4 1836.7 L969 1834.7 L968.7 1832.7 L968.4 1830.7 L968 1828.7 L967.7 1826.7 L967.4 1824.7 L967.1 1822.7 L966.9 1820.7 L966.6 1818.7 L966.3 1816.7 L966 1814.7 L965.8 1812.7 L965.6 1810.7 L965.5 1808.7 L965.3 1806.7 L965.2 1804.7 L965 1802.6 L964.9 1800.6 L964.8 1798.6 L964.7 1796.6 L964.7 1794.6 L964.8 1792.6 L964.9 1790.6 L965 1788.6 L965.2 1786.6 L965.4 1784.6 L965.6 1782.6 L965.8 1780.6 L966.1 1778.6 L966.3 1776.6 L966.6 1774.6 L967 1772.6 L967.3 1770.6 L967.7 1768.6 L968.1 1766.6 L968.5 1764.6 L969 1762.6 L969.5 1760.6 L970 1758.6 L970.5 1756.6 L971.1 1754.6 L971.6 1752.5 L972.2 1750.5 L972.8 1748.5 L973.4 1746.5 L974.1 1744.5 L974.7 1742.5 L975.4 1740.5 L976.1 1738.5 L976.8 1736.5 L977.6 1734.5 L978.3 1732.5 L979.1 1730.5 L979.9 1728.5 L980.6 1726.5 L981.4 1724.5 L982.1 1722.5 L982.9 1720.5 L983.6 1718.5 L984.4 1716.5 L985.1 1714.5 L985.9 1712.5 L986.6 1710.5 L987.4 1708.5 L988.1 1706.5 L988.9 1704.4 L989.7 1702.4 L990.4 1700.4 L991.2 1698.4 L992 1696.4 L992.8 1694.4 L993.6 1692.4 L994.4 1690.4 L995.1 1688.4 L995.6 1686.4 L996.1 1684.4 L996.6 1682.4 L997 1680.4 L997.4 1678.4 L997.8 1676.4 L998 1674.4 L998.1 1672.4 L998.2 1670.4 L998.3 1668.4 L998.4 1666.4 L998.5 1664.4 L998.6 1662.4 L998.7 1660.4 L998.8 1658.4 L998.8 1656.3 L998.8 1654.3 L998.9 1652.3 L998.9 1650.3Z" fill="url(#hb)" stroke="#231f20" stroke-width="1.4" stroke-linejoin="round"/>
<rect x="996.2" y="1727.6" width="5.4" height="5.8" fill="#0d0d0d"/>
<rect x="993.2" y="1760.1" width="5.4" height="5.8" fill="#0d0d0d"/>
<rect x="999.1" y="1760.1" width="5.4" height="5.8" fill="#0d0d0d"/>
<rect x="990.3" y="1792.6" width="5.4" height="5.8" fill="#0d0d0d"/>
<rect x="996.2" y="1792.6" width="5.4" height="5.8" fill="#0d0d0d"/>
<rect x="1002.1" y="1792.6" width="5.4" height="5.8" fill="#0d0d0d"/>
<rect x="993.2" y="1825.1" width="5.4" height="5.8" fill="#0d0d0d"/>
<rect x="999.1" y="1825.1" width="5.4" height="5.8" fill="#0d0d0d"/>
<rect x="993.2" y="1857.6" width="5.4" height="5.8" fill="#0d0d0d"/>
<rect x="999.1" y="1857.6" width="5.4" height="5.8" fill="#0d0d0d"/>
<rect x="996.2" y="1890.1" width="5.4" height="5.8" fill="#0d0d0d"/>
<rect x="994.9" y="1806" width="8" height="8" fill="#fff" stroke="#231f20" stroke-width="1.3"/>
<line x1="998.9" y1="1806" x2="998.9" y2="1814" stroke="#3a3636" stroke-width="1.3" stroke-linecap="butt"/>
<line x1="998.9" y1="1730.5" x2="998.9" y2="1893" stroke="#3a3636" stroke-width="1.5" stroke-linecap="butt"/>
<path d="M1073.6 1688.3 L1073.6 1690.3 L1073.6 1692.4 L1073.7 1694.4 L1073.8 1696.4 L1073.9 1698.4 L1074 1700.4 L1074.1 1702.4 L1074.3 1704.4 L1074.4 1706.4 L1074.6 1708.5 L1075 1710.5 L1075.4 1712.5 L1075.9 1714.5 L1076.4 1716.5 L1077 1718.5 L1077.8 1720.5 L1078.7 1722.5 L1079.6 1724.6 L1080.6 1726.6 L1081.5 1728.6 L1082.4 1730.6 L1083.3 1732.6 L1084.3 1734.6 L1085.2 1736.6 L1086.2 1738.6 L1087.2 1740.7 L1088.2 1742.7 L1089.2 1744.7 L1090.3 1746.7 L1091.3 1748.7 L1092.4 1750.7 L1093.5 1752.7 L1094.6 1754.7 L1095.6 1756.7 L1096.7 1758.8 L1097.7 1760.8 L1098.7 1762.8 L1099.7 1764.8 L1100.7 1766.8 L1101.6 1768.8 L1102.5 1770.8 L1103.4 1772.8 L1104.2 1774.9 L1104.8 1776.9 L1105.3 1778.9 L1105.8 1780.9 L1106.3 1782.9 L1106.6 1784.9 L1106.8 1786.9 L1106.9 1788.9 L1107.1 1791 L1107.2 1793 L1107.2 1795 L1107.3 1797 L1107.2 1799 L1107 1801 L1106.8 1803 L1106.6 1805 L1106.4 1807.1 L1106.2 1809.1 L1106 1811.1 L1105.9 1813.1 L1105.7 1815.1 L1105.6 1817.1 L1105.5 1819.1 L1105.3 1821.1 L1105.2 1823.2 L1105.2 1825.2 L1105.1 1827.2 L1105.1 1829.2 L1105.1 1831.2 L1105.1 1833.2 L1105.1 1835.2 L1105.1 1837.2 L1105.1 1839.2 L1105.1 1841.3 L1104.9 1843.3 L1104.7 1845.3 L1104.4 1847.3 L1104 1849.3 L1103.7 1851.3 L1103.3 1853.3 L1102.8 1855.3 L1102.2 1857.4 L1101.6 1859.4 L1101 1861.4 L1100.2 1863.4 L1099.4 1865.4 L1098.4 1867.4 L1097.5 1869.4 L1096.6 1871.4 L1095.6 1873.5 L1094.6 1875.5 L1093.6 1877.5 L1092.5 1879.5 L1091.4 1881.5 L1090.2 1883.5 L1089 1885.5 L1087.8 1887.5 L1086.7 1889.6 L1085.6 1891.6 L1084.5 1893.6 L1083.5 1895.6 L1082.5 1897.6 L1081.6 1899.6 L1080.7 1901.6 L1079.9 1903.6 L1079.1 1905.7 L1078.3 1907.7 L1077.7 1909.7 L1077.1 1911.7 L1076.6 1913.7 L1076.1 1915.7 L1075.7 1917.7 L1075.3 1919.7 L1075 1921.7 L1074.7 1923.8 L1074.5 1925.8 L1074.2 1927.8 L1074 1929.8 L1073.8 1931.8 L1073.7 1933.8 L1073.6 1935.8 L1073.5 1933.8 L1073.4 1931.8 L1073.2 1929.8 L1073 1927.8 L1072.7 1925.8 L1072.5 1923.8 L1072.2 1921.7 L1071.9 1919.7 L1071.5 1917.7 L1071.1 1915.7 L1070.6 1913.7 L1070.1 1911.7 L1069.5 1909.7 L1068.9 1907.7 L1068.1 1905.7 L1067.3 1903.6 L1066.5 1901.6 L1065.6 1899.6 L1064.7 1897.6 L1063.7 1895.6 L1062.7 1893.6 L1061.6 1891.6 L1060.5 1889.6 L1059.4 1887.5 L1058.2 1885.5 L1057 1883.5 L1055.8 1881.5 L1054.7 1879.5 L1053.6 1877.5 L1052.6 1875.5 L1051.6 1873.5 L1050.6 1871.4 L1049.7 1869.4 L1048.8 1867.4 L1047.8 1865.4 L1047 1863.4 L1046.2 1861.4 L1045.6 1859.4 L1045 1857.4 L1044.4 1855.3 L1043.9 1853.3 L1043.5 1851.3 L1043.2 1849.3 L1042.8 1847.3 L1042.5 1845.3 L1042.3 1843.3 L1042.1 1841.3 L1042.1 1839.2 L1042.1 1837.2 L1042.1 1835.2 L1042.1 1833.2 L1042.1 1831.2 L1042.1 1829.2 L1042.1 1827.2 L1042 1825.2 L1042 1823.2 L1041.9 1821.1 L1041.7 1819.1 L1041.6 1817.1 L1041.5 1815.1 L1041.3 1813.1 L1041.2 1811.1 L1041 1809.1 L1040.8 1807.1 L1040.6 1805 L1040.4 1803 L1040.2 1801 L1040 1799 L1039.9 1797 L1040 1795 L1040 1793 L1040.1 1791 L1040.3 1788.9 L1040.4 1786.9 L1040.6 1784.9 L1040.9 1782.9 L1041.4 1780.9 L1041.9 1778.9 L1042.4 1776.9 L1043 1774.9 L1043.8 1772.8 L1044.7 1770.8 L1045.6 1768.8 L1046.5 1766.8 L1047.5 1764.8 L1048.5 1762.8 L1049.5 1760.8 L1050.5 1758.8 L1051.6 1756.7 L1052.6 1754.7 L1053.7 1752.7 L1054.8 1750.7 L1055.9 1748.7 L1056.9 1746.7 L1058 1744.7 L1059 1742.7 L1060 1740.7 L1061 1738.6 L1062 1736.6 L1062.9 1734.6 L1063.9 1732.6 L1064.8 1730.6 L1065.7 1728.6 L1066.6 1726.6 L1067.6 1724.6 L1068.5 1722.5 L1069.4 1720.5 L1070.2 1718.5 L1070.8 1716.5 L1071.3 1714.5 L1071.8 1712.5 L1072.2 1710.5 L1072.6 1708.5 L1072.8 1706.4 L1072.9 1704.4 L1073.1 1702.4 L1073.2 1700.4 L1073.3 1698.4 L1073.4 1696.4 L1073.5 1694.4 L1073.6 1692.4 L1073.6 1690.3Z" fill="url(#hk)" stroke="#231f20" stroke-width="1.4" stroke-linejoin="round"/>
<rect x="1070.9" y="1760.1" width="5.4" height="5.8" fill="#0d0d0d"/>
<rect x="1067.9" y="1792.6" width="5.4" height="5.8" fill="#0d0d0d"/>
<rect x="1073.8" y="1792.6" width="5.4" height="5.8" fill="#0d0d0d"/>
<rect x="1071.8" y="1825.5" width="3.5" height="5" fill="#0d0d0d"/>
<rect x="1067.9" y="1857.6" width="5.4" height="5.8" fill="#0d0d0d"/>
<rect x="1073.8" y="1857.6" width="5.4" height="5.8" fill="#0d0d0d"/>
<rect x="1069.6" y="1812.7" width="8" height="8" fill="#fff" stroke="#231f20" stroke-width="1.3"/>
<line x1="1073.6" y1="1812.7" x2="1073.6" y2="1820.7" stroke="#3a3636" stroke-width="1.3" stroke-linecap="butt"/>
<line x1="1073.6" y1="1763" x2="1073.6" y2="1860.5" stroke="#3a3636" stroke-width="1.5" stroke-linecap="butt"/>
<text transform="translate(833.9,1838.4) scale(0.9250,1)" font-size="43" class="nr" style="stroke:#0a0a0a;stroke-width:0.9px">**</text>
<text class="nb" transform="translate(751.7,2071.6) rotate(-45) scale(0.84,1)" font-size="37" font-weight="bold">+/+</text>
<text class="nb" transform="translate(800.2,2110.3) rotate(-45) scale(0.84,1)" font-size="37" font-weight="bold">RH/RH</text>
<g transform="translate(937.2,2042.6) rotate(-45)">
<text class="nb" transform="translate(-34.8,0) scale(0.84,1)" font-size="37" font-weight="bold"><tspan dy="-6.5">-</tspan><tspan dy="6.5" dx="4">/</tspan><tspan dy="-6.5" dx="3.2">-</tspan></text>
<rect x="-36.1" y="-18.5" width="12.2" height="7.6" fill="#000"/>
<rect x="-12.2" y="-18.5" width="12.2" height="7.6" fill="#000"/>
</g>
<text class="nb" transform="translate(958.9,2091.3) rotate(-45) scale(0.84,1)" font-size="37" font-weight="bold">+/RH</text>
<g transform="translate(1088.2,2037.3) rotate(-45)">
<text class="nb" transform="translate(-40.5,0) scale(0.84,1)" font-size="37" font-weight="bold">+/<tspan dy="-6.5" dx="3.2">-</tspan></text>
<rect x="-12.2" y="-18.5" width="12.2" height="7.6" fill="#000"/>
</g>
<line x1="1343.5" y1="1610.4" x2="1343.5" y2="2006.1" stroke="#0d0d0d" stroke-width="3" stroke-linecap="butt"/>
<line x1="1342" y1="2004.6" x2="1724" y2="2004.6" stroke="#0d0d0d" stroke-width="3" stroke-linecap="butt"/>
<line x1="1338.9" y1="1628.3" x2="1343.5" y2="1628.3" stroke="#231f20" stroke-width="2.6" stroke-linecap="butt"/>
<text transform="translate(1282.1,1642.1) scale(0.7850,1)" font-size="36.3" class="nr">500</text>
<line x1="1338.9" y1="1693.5" x2="1343.5" y2="1693.5" stroke="#231f20" stroke-width="2.6" stroke-linecap="butt"/>
<text transform="translate(1282.1,1708.4) scale(0.7850,1)" font-size="36.3" class="nr">400</text>
<line x1="1338.9" y1="1758.8" x2="1343.5" y2="1758.8" stroke="#231f20" stroke-width="2.6" stroke-linecap="butt"/>
<text transform="translate(1282.1,1772.9) scale(0.7850,1)" font-size="36.3" class="nr">300</text>
<line x1="1338.9" y1="1823.8" x2="1343.5" y2="1823.8" stroke="#231f20" stroke-width="2.6" stroke-linecap="butt"/>
<text transform="translate(1282.1,1838.5) scale(0.7850,1)" font-size="36.3" class="nr">200</text>
<line x1="1338.9" y1="1889" x2="1343.5" y2="1889" stroke="#231f20" stroke-width="2.6" stroke-linecap="butt"/>
<text transform="translate(1282.1,1901.8) scale(0.7850,1)" font-size="36.3" class="nr">100</text>
<line x1="1338.9" y1="1954" x2="1343.5" y2="1954" stroke="#231f20" stroke-width="2.6" stroke-linecap="butt"/>
<text transform="translate(1313.7,1963.5) scale(0.7850,1)" font-size="36.3" class="nr">0</text>
<line x1="1387.2" y1="2004.6" x2="1387.2" y2="2010.4" stroke="#231f20" stroke-width="2" stroke-linecap="butt"/>
<line x1="1460.4" y1="2004.6" x2="1460.4" y2="2010.4" stroke="#231f20" stroke-width="2" stroke-linecap="butt"/>
<line x1="1533.6" y1="2004.6" x2="1533.6" y2="2010.4" stroke="#231f20" stroke-width="2" stroke-linecap="butt"/>
<line x1="1606.9" y1="2004.6" x2="1606.9" y2="2010.4" stroke="#231f20" stroke-width="2" stroke-linecap="butt"/>
<line x1="1680.1" y1="2004.6" x2="1680.1" y2="2010.4" stroke="#231f20" stroke-width="2" stroke-linecap="butt"/>
<text class="nb" transform="translate(1261.2,1873.9) rotate(-90) scale(0.8305,1)" font-size="36" font-weight="bold">IBI (ms)</text>
<path d="M1387.2 1628.3 L1387.2 1630.3 L1387.3 1632.3 L1387.3 1634.3 L1387.3 1636.3 L1387.4 1638.3 L1387.4 1640.3 L1387.5 1642.3 L1387.6 1644.3 L1387.6 1646.3 L1387.7 1648.3 L1387.8 1650.3 L1387.8 1652.3 L1387.9 1654.3 L1388 1656.3 L1388.1 1658.3 L1388.2 1660.3 L1388.3 1662.4 L1388.4 1664.4 L1388.5 1666.4 L1388.7 1668.4 L1388.9 1670.4 L1389.1 1672.4 L1389.4 1674.4 L1389.7 1676.4 L1390 1678.4 L1390.3 1680.4 L1390.5 1682.4 L1390.8 1684.4 L1391.2 1686.4 L1391.5 1688.4 L1391.8 1690.4 L1392.2 1692.4 L1392.6 1694.4 L1393 1696.4 L1393.4 1698.4 L1393.8 1700.4 L1394.2 1702.4 L1394.7 1704.4 L1395.1 1706.4 L1395.6 1708.4 L1396.1 1710.4 L1396.6 1712.4 L1397.1 1714.4 L1397.6 1716.4 L1398.1 1718.4 L1398.6 1720.4 L1399.2 1722.4 L1399.8 1724.4 L1400.3 1726.4 L1400.9 1728.4 L1401.5 1730.4 L1402.1 1732.4 L1402.7 1734.4 L1403.2 1736.4 L1403.8 1738.4 L1404.3 1740.4 L1404.9 1742.4 L1405.4 1744.4 L1406 1746.4 L1406.5 1748.4 L1407 1750.4 L1407.5 1752.4 L1408 1754.4 L1408.5 1756.4 L1409 1758.4 L1409.5 1760.4 L1409.9 1762.4 L1410.4 1764.4 L1410.9 1766.4 L1411.3 1768.4 L1411.8 1770.4 L1412.2 1772.4 L1412.6 1774.4 L1413 1776.4 L1413.3 1778.4 L1413.7 1780.4 L1414 1782.4 L1414.3 1784.4 L1414.7 1786.4 L1415 1788.4 L1415.3 1790.4 L1415.5 1792.4 L1415.8 1794.4 L1416.1 1796.4 L1416.3 1798.4 L1416.6 1800.4 L1416.8 1802.4 L1417.1 1804.4 L1417.3 1806.4 L1417.5 1808.4 L1417.7 1810.4 L1417.9 1812.4 L1418.1 1814.4 L1418.4 1816.4 L1418.6 1818.4 L1418.8 1820.4 L1419 1822.4 L1419.2 1824.4 L1419.3 1826.4 L1419.5 1828.4 L1419.6 1830.4 L1419.8 1832.4 L1419.9 1834.4 L1420 1836.4 L1420.1 1838.4 L1420.2 1840.4 L1420.3 1842.4 L1420.4 1844.4 L1420.5 1846.4 L1420.6 1848.4 L1420.7 1850.4 L1420.7 1852.4 L1420.7 1854.4 L1420.7 1856.4 L1420.7 1858.4 L1420.7 1860.4 L1420.6 1862.5 L1420.4 1864.5 L1420.2 1866.5 L1419.9 1868.5 L1419.6 1870.5 L1419.2 1872.5 L1418.7 1874.5 L1418.1 1876.5 L1417.4 1878.5 L1416.7 1880.5 L1415.8 1882.5 L1414.9 1884.5 L1413.8 1886.5 L1412.7 1888.5 L1411.6 1890.5 L1410.5 1892.5 L1409.4 1894.5 L1408.2 1896.5 L1407 1898.5 L1405.7 1900.5 L1404.4 1902.5 L1403 1904.5 L1401.6 1906.5 L1400.3 1908.5 L1399.1 1910.5 L1397.9 1912.5 L1396.8 1914.5 L1395.7 1916.5 L1394.7 1918.5 L1393.8 1920.5 L1392.9 1922.5 L1392.1 1924.5 L1391.3 1926.5 L1390.6 1928.5 L1390.1 1930.5 L1389.6 1932.5 L1389.2 1934.5 L1388.8 1936.5 L1388.5 1938.5 L1388.3 1940.5 L1388.2 1942.5 L1388 1944.5 L1387.8 1946.5 L1387.7 1948.5 L1387.6 1950.5 L1387.5 1952.5 L1387.4 1954.5 L1387.3 1956.5 L1387.2 1958.5 L1387.2 1960.5 L1387.2 1962.5 L1387.2 1960.5 L1387.2 1958.5 L1387.1 1956.5 L1387 1954.5 L1386.9 1952.5 L1386.8 1950.5 L1386.7 1948.5 L1386.6 1946.5 L1386.4 1944.5 L1386.2 1942.5 L1386.1 1940.5 L1385.9 1938.5 L1385.6 1936.5 L1385.2 1934.5 L1384.8 1932.5 L1384.3 1930.5 L1383.8 1928.5 L1383.1 1926.5 L1382.3 1924.5 L1381.5 1922.5 L1380.6 1920.5 L1379.7 1918.5 L1378.7 1916.5 L1377.6 1914.5 L1376.5 1912.5 L1375.3 1910.5 L1374.1 1908.5 L1372.8 1906.5 L1371.4 1904.5 L1370 1902.5 L1368.7 1900.5 L1367.4 1898.5 L1366.2 1896.5 L1365 1894.5 L1363.9 1892.5 L1362.8 1890.5 L1361.7 1888.5 L1360.6 1886.5 L1359.5 1884.5 L1358.6 1882.5 L1357.7 1880.5 L1357 1878.5 L1356.3 1876.5 L1355.7 1874.5 L1355.2 1872.5 L1354.8 1870.5 L1354.5 1868.5 L1354.2 1866.5 L1354 1864.5 L1353.8 1862.5 L1353.7 1860.4 L1353.7 1858.4 L1353.7 1856.4 L1353.7 1854.4 L1353.7 1852.4 L1353.7 1850.4 L1353.8 1848.4 L1353.9 1846.4 L1354 1844.4 L1354.1 1842.4 L1354.2 1840.4 L1354.3 1838.4 L1354.4 1836.4 L1354.5 1834.4 L1354.6 1832.4 L1354.8 1830.4 L1354.9 1828.4 L1355.1 1826.4 L1355.2 1824.4 L1355.4 1822.4 L1355.6 1820.4 L1355.8 1818.4 L1356 1816.4 L1356.3 1814.4 L1356.5 1812.4 L1356.7 1810.4 L1356.9 1808.4 L1357.1 1806.4 L1357.3 1804.4 L1357.6 1802.4 L1357.8 1800.4 L1358.1 1798.4 L1358.3 1796.4 L1358.6 1794.4 L1358.9 1792.4 L1359.1 1790.4 L1359.4 1788.4 L1359.7 1786.4 L1360.1 1784.4 L1360.4 1782.4 L1360.7 1780.4 L1361.1 1778.4 L1361.4 1776.4 L1361.8 1774.4 L1362.2 1772.4 L1362.6 1770.4 L1363.1 1768.4 L1363.5 1766.4 L1364 1764.4 L1364.5 1762.4 L1364.9 1760.4 L1365.4 1758.4 L1365.9 1756.4 L1366.4 1754.4 L1366.9 1752.4 L1367.4 1750.4 L1367.9 1748.4 L1368.4 1746.4 L1369 1744.4 L1369.5 1742.4 L1370.1 1740.4 L1370.6 1738.4 L1371.2 1736.4 L1371.7 1734.4 L1372.3 1732.4 L1372.9 1730.4 L1373.5 1728.4 L1374.1 1726.4 L1374.6 1724.4 L1375.2 1722.4 L1375.8 1720.4 L1376.3 1718.4 L1376.8 1716.4 L1377.3 1714.4 L1377.8 1712.4 L1378.3 1710.4 L1378.8 1708.4 L1379.3 1706.4 L1379.7 1704.4 L1380.2 1702.4 L1380.6 1700.4 L1381 1698.4 L1381.4 1696.4 L1381.8 1694.4 L1382.2 1692.4 L1382.6 1690.4 L1382.9 1688.4 L1383.2 1686.4 L1383.6 1684.4 L1383.9 1682.4 L1384.1 1680.4 L1384.4 1678.4 L1384.7 1676.4 L1385 1674.4 L1385.3 1672.4 L1385.5 1670.4 L1385.7 1668.4 L1385.9 1666.4 L1386 1664.4 L1386.1 1662.4 L1386.2 1660.3 L1386.3 1658.3 L1386.4 1656.3 L1386.5 1654.3 L1386.6 1652.3 L1386.6 1650.3 L1386.7 1648.3 L1386.8 1646.3 L1386.8 1644.3 L1386.9 1642.3 L1387 1640.3 L1387 1638.3 L1387.1 1636.3 L1387.1 1634.3 L1387.1 1632.3 L1387.2 1630.3Z" fill="#dc2a24" stroke="#231f20" stroke-width="1.4" stroke-linejoin="round"/>
<rect x="1384.5" y="1699.1" width="5.4" height="5.8" fill="#0d0d0d"/>
<rect x="1384.5" y="1735.8" width="5.4" height="5.8" fill="#0d0d0d"/>
<rect x="1384.5" y="1750.4" width="5.4" height="5.8" fill="#0d0d0d"/>
<rect x="1381.5" y="1757.9" width="5.4" height="5.8" fill="#0d0d0d"/>
<rect x="1387.5" y="1757.9" width="5.4" height="5.8" fill="#0d0d0d"/>
<rect x="1375.7" y="1789.6" width="5.4" height="5.8" fill="#0d0d0d"/>
<rect x="1381.6" y="1789.6" width="5.4" height="5.8" fill="#0d0d0d"/>
<rect x="1387.5" y="1789.6" width="5.4" height="5.8" fill="#0d0d0d"/>
<rect x="1393.4" y="1789.6" width="5.4" height="5.8" fill="#0d0d0d"/>
<rect x="1372.7" y="1827.9" width="5.4" height="5.8" fill="#0d0d0d"/>
<rect x="1378.6" y="1827.9" width="5.4" height="5.8" fill="#0d0d0d"/>
<rect x="1384.5" y="1827.9" width="5.4" height="5.8" fill="#0d0d0d"/>
<rect x="1390.4" y="1827.9" width="5.4" height="5.8" fill="#0d0d0d"/>
<rect x="1396.3" y="1827.9" width="5.4" height="5.8" fill="#0d0d0d"/>
<rect x="1375.7" y="1866.8" width="5.4" height="5.8" fill="#0d0d0d"/>
<rect x="1381.6" y="1866.8" width="5.4" height="5.8" fill="#0d0d0d"/>
<rect x="1387.5" y="1866.8" width="5.4" height="5.8" fill="#0d0d0d"/>
<rect x="1393.4" y="1866.8" width="5.4" height="5.8" fill="#0d0d0d"/>
<rect x="1375.7" y="1879.1" width="5.4" height="5.8" fill="#0d0d0d"/>
<rect x="1381.6" y="1879.1" width="5.4" height="5.8" fill="#0d0d0d"/>
<rect x="1387.5" y="1879.1" width="5.4" height="5.8" fill="#0d0d0d"/>
<rect x="1393.4" y="1879.1" width="5.4" height="5.8" fill="#0d0d0d"/>
<rect x="1383.2" y="1815.5" width="8" height="8" fill="#fff" stroke="#231f20" stroke-width="1.3"/>
<line x1="1387.2" y1="1815.5" x2="1387.2" y2="1823.5" stroke="#3a3636" stroke-width="1.3" stroke-linecap="butt"/>
<line x1="1387.2" y1="1702" x2="1387.2" y2="1886.7" stroke="#3a3636" stroke-width="1.5" stroke-linecap="butt"/>
<path d="M1460.4 1640.8 L1460.4 1642.8 L1460.4 1644.8 L1460.5 1646.8 L1460.5 1648.9 L1460.6 1650.9 L1460.7 1652.9 L1460.8 1654.9 L1460.9 1656.9 L1461 1658.9 L1461.1 1660.9 L1461.2 1662.9 L1461.3 1664.9 L1461.5 1666.9 L1461.8 1668.9 L1462 1670.9 L1462.3 1672.9 L1462.6 1674.9 L1462.9 1676.9 L1463.3 1678.9 L1463.7 1680.9 L1464.1 1682.9 L1464.5 1684.9 L1465 1687 L1465.4 1689 L1465.7 1691 L1466.1 1693 L1466.5 1695 L1466.8 1697 L1467.2 1699 L1467.5 1701 L1467.8 1703 L1468.2 1705 L1468.5 1707 L1468.7 1709 L1469 1711 L1469.2 1713 L1469.4 1715 L1469.5 1717 L1469.7 1719 L1469.8 1721 L1469.9 1723 L1470 1725.1 L1470.1 1727.1 L1470.2 1729.1 L1470.3 1731.1 L1470.3 1733.1 L1470.4 1735.1 L1470.5 1737.1 L1470.5 1739.1 L1470.6 1741.1 L1470.6 1743.1 L1470.7 1745.1 L1470.7 1747.1 L1470.8 1749.1 L1470.8 1751.1 L1470.9 1753.1 L1471 1755.1 L1471.1 1757.1 L1471.2 1759.1 L1471.3 1761.1 L1471.5 1763.2 L1471.6 1765.2 L1471.8 1767.2 L1472 1769.2 L1472.2 1771.2 L1472.4 1773.2 L1472.7 1775.2 L1473 1777.2 L1473.3 1779.2 L1473.6 1781.2 L1474 1783.2 L1474.5 1785.2 L1475 1787.2 L1475.6 1789.2 L1476.3 1791.2 L1477.2 1793.2 L1478.1 1795.2 L1479.2 1797.2 L1480.2 1799.2 L1481.2 1801.2 L1482.3 1803.3 L1483.4 1805.3 L1484.5 1807.3 L1485.6 1809.3 L1486.5 1811.3 L1487.4 1813.3 L1488.3 1815.3 L1489.1 1817.3 L1489.8 1819.3 L1490.5 1821.3 L1491.2 1823.3 L1491.8 1825.3 L1492.4 1827.3 L1492.8 1829.3 L1493.1 1831.3 L1493.3 1833.3 L1493.6 1835.3 L1493.7 1837.3 L1493.9 1839.3 L1494 1841.4 L1494 1843.4 L1494.1 1845.4 L1494 1847.4 L1493.8 1849.4 L1493.6 1851.4 L1493.4 1853.4 L1493.1 1855.4 L1492.6 1857.4 L1492.1 1859.4 L1491.5 1861.4 L1490.9 1863.4 L1490.2 1865.4 L1489.4 1867.4 L1488.5 1869.4 L1487.6 1871.4 L1486.7 1873.4 L1485.7 1875.4 L1484.8 1877.4 L1483.7 1879.5 L1482.7 1881.5 L1481.7 1883.5 L1480.6 1885.5 L1479.5 1887.5 L1478.4 1889.5 L1477.2 1891.5 L1476.1 1893.5 L1475 1895.5 L1473.9 1897.5 L1472.8 1899.5 L1471.8 1901.5 L1470.8 1903.5 L1469.9 1905.5 L1469 1907.5 L1468.2 1909.5 L1467.4 1911.5 L1466.7 1913.5 L1466 1915.5 L1465.3 1917.6 L1464.7 1919.6 L1464.2 1921.6 L1463.7 1923.6 L1463.2 1925.6 L1462.7 1927.6 L1462.3 1929.6 L1461.9 1931.6 L1461.7 1933.6 L1461.5 1935.6 L1461.4 1937.6 L1461.2 1939.6 L1461.1 1941.6 L1461 1943.6 L1460.9 1945.6 L1460.8 1947.6 L1460.7 1949.6 L1460.6 1951.6 L1460.5 1953.6 L1460.5 1955.7 L1460.4 1957.7 L1460.4 1959.7 L1460.4 1961.7 L1460.4 1959.7 L1460.4 1957.7 L1460.3 1955.7 L1460.3 1953.6 L1460.2 1951.6 L1460.1 1949.6 L1460 1947.6 L1459.9 1945.6 L1459.8 1943.6 L1459.7 1941.6 L1459.6 1939.6 L1459.4 1937.6 L1459.3 1935.6 L1459.1 1933.6 L1458.9 1931.6 L1458.5 1929.6 L1458.1 1927.6 L1457.6 1925.6 L1457.1 1923.6 L1456.6 1921.6 L1456.1 1919.6 L1455.5 1917.6 L1454.8 1915.5 L1454.1 1913.5 L1453.4 1911.5 L1452.6 1909.5 L1451.8 1907.5 L1450.9 1905.5 L1450 1903.5 L1449 1901.5 L1448 1899.5 L1446.9 1897.5 L1445.8 1895.5 L1444.7 1893.5 L1443.6 1891.5 L1442.4 1889.5 L1441.3 1887.5 L1440.2 1885.5 L1439.1 1883.5 L1438.1 1881.5 L1437.1 1879.5 L1436 1877.4 L1435.1 1875.4 L1434.1 1873.4 L1433.2 1871.4 L1432.3 1869.4 L1431.4 1867.4 L1430.6 1865.4 L1429.9 1863.4 L1429.3 1861.4 L1428.7 1859.4 L1428.2 1857.4 L1427.7 1855.4 L1427.4 1853.4 L1427.2 1851.4 L1427 1849.4 L1426.8 1847.4 L1426.7 1845.4 L1426.8 1843.4 L1426.8 1841.4 L1426.9 1839.3 L1427.1 1837.3 L1427.2 1835.3 L1427.5 1833.3 L1427.7 1831.3 L1428 1829.3 L1428.4 1827.3 L1429 1825.3 L1429.6 1823.3 L1430.3 1821.3 L1431 1819.3 L1431.7 1817.3 L1432.5 1815.3 L1433.4 1813.3 L1434.3 1811.3 L1435.2 1809.3 L1436.3 1807.3 L1437.4 1805.3 L1438.5 1803.3 L1439.6 1801.2 L1440.6 1799.2 L1441.6 1797.2 L1442.7 1795.2 L1443.6 1793.2 L1444.5 1791.2 L1445.2 1789.2 L1445.8 1787.2 L1446.3 1785.2 L1446.8 1783.2 L1447.2 1781.2 L1447.5 1779.2 L1447.8 1777.2 L1448.1 1775.2 L1448.4 1773.2 L1448.6 1771.2 L1448.8 1769.2 L1449 1767.2 L1449.2 1765.2 L1449.3 1763.2 L1449.5 1761.1 L1449.6 1759.1 L1449.7 1757.1 L1449.8 1755.1 L1449.9 1753.1 L1450 1751.1 L1450 1749.1 L1450.1 1747.1 L1450.1 1745.1 L1450.2 1743.1 L1450.2 1741.1 L1450.3 1739.1 L1450.3 1737.1 L1450.4 1735.1 L1450.5 1733.1 L1450.5 1731.1 L1450.6 1729.1 L1450.7 1727.1 L1450.8 1725.1 L1450.9 1723 L1451 1721 L1451.1 1719 L1451.3 1717 L1451.4 1715 L1451.6 1713 L1451.8 1711 L1452.1 1709 L1452.3 1707 L1452.6 1705 L1453 1703 L1453.3 1701 L1453.6 1699 L1454 1697 L1454.3 1695 L1454.7 1693 L1455.1 1691 L1455.4 1689 L1455.8 1687 L1456.3 1684.9 L1456.7 1682.9 L1457.1 1680.9 L1457.5 1678.9 L1457.9 1676.9 L1458.2 1674.9 L1458.5 1672.9 L1458.8 1670.9 L1459 1668.9 L1459.3 1666.9 L1459.5 1664.9 L1459.6 1662.9 L1459.7 1660.9 L1459.8 1658.9 L1459.9 1656.9 L1460 1654.9 L1460.1 1652.9 L1460.2 1650.9 L1460.3 1648.9 L1460.3 1646.8 L1460.4 1644.8 L1460.4 1642.8Z" fill="#4f58ab" stroke="#231f20" stroke-width="1.4" stroke-linejoin="round"/>
<rect x="1457.7" y="1708.4" width="5.4" height="5.8" fill="#0d0d0d"/>
<rect x="1457.7" y="1747.4" width="5.4" height="5.8" fill="#0d0d0d"/>
<rect x="1457.7" y="1776.3" width="5.4" height="5.8" fill="#0d0d0d"/>
<rect x="1451.8" y="1821.8" width="5.4" height="5.8" fill="#0d0d0d"/>
<rect x="1457.7" y="1821.8" width="5.4" height="5.8" fill="#0d0d0d"/>
<rect x="1463.6" y="1821.8" width="5.4" height="5.8" fill="#0d0d0d"/>
<rect x="1454.8" y="1836.3" width="5.4" height="5.8" fill="#0d0d0d"/>
<rect x="1460.7" y="1836.3" width="5.4" height="5.8" fill="#0d0d0d"/>
<rect x="1451.8" y="1865.4" width="5.4" height="5.8" fill="#0d0d0d"/>
<rect x="1457.7" y="1865.4" width="5.4" height="5.8" fill="#0d0d0d"/>
<rect x="1463.6" y="1865.4" width="5.4" height="5.8" fill="#0d0d0d"/>
<rect x="1457.7" y="1887.1" width="5.4" height="5.8" fill="#0d0d0d"/>
<rect x="1456.4" y="1820.2" width="8" height="8" fill="#fff" stroke="#231f20" stroke-width="1.3"/>
<line x1="1460.4" y1="1820.2" x2="1460.4" y2="1828.2" stroke="#3a3636" stroke-width="1.3" stroke-linecap="butt"/>
<line x1="1460.4" y1="1750.3" x2="1460.4" y2="1893.3" stroke="#3a3636" stroke-width="1.5" stroke-linecap="butt"/>
<path d="M1606.9 1680.8 L1606.9 1682.8 L1606.9 1684.8 L1607 1686.8 L1607.1 1688.8 L1607.1 1690.8 L1607.2 1692.8 L1607.4 1694.8 L1607.5 1696.8 L1607.6 1698.8 L1607.8 1700.8 L1608 1702.8 L1608.3 1704.8 L1608.7 1706.8 L1609.1 1708.8 L1609.5 1710.8 L1610 1712.8 L1610.5 1714.8 L1611.2 1716.8 L1611.8 1718.8 L1612.5 1720.8 L1613.2 1722.8 L1613.9 1724.8 L1614.7 1726.8 L1615.4 1728.8 L1616.2 1730.8 L1617 1732.8 L1617.7 1734.8 L1618.5 1736.8 L1619.3 1738.8 L1620 1740.8 L1620.8 1742.8 L1621.5 1744.8 L1622.2 1746.8 L1622.9 1748.8 L1623.6 1750.8 L1624.3 1752.8 L1624.9 1754.8 L1625.4 1756.8 L1625.9 1758.8 L1626.4 1760.8 L1626.9 1762.8 L1627.3 1764.8 L1627.6 1766.8 L1628 1768.8 L1628.3 1770.8 L1628.6 1772.8 L1628.9 1774.8 L1629.2 1776.8 L1629.4 1778.8 L1629.6 1780.8 L1629.8 1782.8 L1630 1784.8 L1630.2 1786.8 L1630.4 1788.8 L1630.6 1790.8 L1630.9 1792.8 L1631.2 1794.8 L1631.5 1796.8 L1631.9 1798.8 L1632.2 1800.8 L1632.6 1802.8 L1633 1804.8 L1633.5 1806.8 L1634 1808.8 L1634.5 1810.8 L1635.1 1812.8 L1635.7 1814.8 L1636.4 1816.8 L1637.1 1818.8 L1637.7 1820.8 L1638.2 1822.8 L1638.7 1824.8 L1639.2 1826.8 L1639.6 1828.8 L1639.8 1830.8 L1640 1832.8 L1640.2 1834.8 L1640.3 1836.8 L1640.3 1838.8 L1640.2 1840.8 L1640 1842.8 L1639.7 1844.8 L1639.3 1846.8 L1638.8 1848.8 L1638.1 1850.8 L1637.2 1852.8 L1636.3 1854.8 L1635.3 1856.8 L1634.3 1858.8 L1633.2 1860.8 L1632.1 1862.8 L1630.9 1864.8 L1629.8 1866.8 L1628.6 1868.8 L1627.4 1870.8 L1626.2 1872.8 L1625 1874.8 L1623.7 1876.8 L1622.5 1878.8 L1621.3 1880.8 L1620.1 1882.8 L1619 1884.8 L1618 1886.8 L1617 1888.8 L1616 1890.8 L1615.1 1892.8 L1614.2 1894.8 L1613.4 1896.8 L1612.7 1898.8 L1612 1900.8 L1611.3 1902.8 L1610.8 1904.8 L1610.2 1906.8 L1609.7 1908.8 L1609.3 1910.8 L1608.9 1912.8 L1608.5 1914.8 L1608.2 1916.8 L1608 1918.8 L1607.8 1920.8 L1607.6 1922.8 L1607.5 1924.8 L1607.4 1926.8 L1607.3 1928.8 L1607.2 1930.8 L1607.1 1932.8 L1607.1 1934.8 L1607 1936.8 L1607 1938.8 L1606.9 1940.8 L1606.9 1942.8 L1606.9 1944.8 L1606.9 1942.8 L1606.9 1940.8 L1606.8 1938.8 L1606.8 1936.8 L1606.7 1934.8 L1606.7 1932.8 L1606.6 1930.8 L1606.5 1928.8 L1606.4 1926.8 L1606.3 1924.8 L1606.2 1922.8 L1606 1920.8 L1605.8 1918.8 L1605.6 1916.8 L1605.3 1914.8 L1604.9 1912.8 L1604.5 1910.8 L1604.1 1908.8 L1603.6 1906.8 L1603 1904.8 L1602.5 1902.8 L1601.8 1900.8 L1601.1 1898.8 L1600.4 1896.8 L1599.6 1894.8 L1598.7 1892.8 L1597.8 1890.8 L1596.8 1888.8 L1595.8 1886.8 L1594.8 1884.8 L1593.7 1882.8 L1592.5 1880.8 L1591.3 1878.8 L1590.1 1876.8 L1588.8 1874.8 L1587.6 1872.8 L1586.4 1870.8 L1585.2 1868.8 L1584 1866.8 L1582.9 1864.8 L1581.7 1862.8 L1580.6 1860.8 L1579.5 1858.8 L1578.5 1856.8 L1577.5 1854.8 L1576.6 1852.8 L1575.7 1850.8 L1575 1848.8 L1574.5 1846.8 L1574.1 1844.8 L1573.8 1842.8 L1573.6 1840.8 L1573.5 1838.8 L1573.5 1836.8 L1573.6 1834.8 L1573.8 1832.8 L1574 1830.8 L1574.2 1828.8 L1574.6 1826.8 L1575.1 1824.8 L1575.6 1822.8 L1576.1 1820.8 L1576.7 1818.8 L1577.4 1816.8 L1578.1 1814.8 L1578.7 1812.8 L1579.3 1810.8 L1579.8 1808.8 L1580.3 1806.8 L1580.8 1804.8 L1581.2 1802.8 L1581.6 1800.8 L1581.9 1798.8 L1582.3 1796.8 L1582.6 1794.8 L1582.9 1792.8 L1583.2 1790.8 L1583.4 1788.8 L1583.6 1786.8 L1583.8 1784.8 L1584 1782.8 L1584.2 1780.8 L1584.4 1778.8 L1584.6 1776.8 L1584.9 1774.8 L1585.2 1772.8 L1585.5 1770.8 L1585.8 1768.8 L1586.2 1766.8 L1586.5 1764.8 L1586.9 1762.8 L1587.4 1760.8 L1587.9 1758.8 L1588.4 1756.8 L1588.9 1754.8 L1589.5 1752.8 L1590.2 1750.8 L1590.9 1748.8 L1591.6 1746.8 L1592.3 1744.8 L1593 1742.8 L1593.8 1740.8 L1594.5 1738.8 L1595.3 1736.8 L1596.1 1734.8 L1596.8 1732.8 L1597.6 1730.8 L1598.4 1728.8 L1599.1 1726.8 L1599.9 1724.8 L1600.6 1722.8 L1601.3 1720.8 L1602 1718.8 L1602.6 1716.8 L1603.3 1714.8 L1603.8 1712.8 L1604.3 1710.8 L1604.7 1708.8 L1605.1 1706.8 L1605.5 1704.8 L1605.8 1702.8 L1606 1700.8 L1606.2 1698.8 L1606.3 1696.8 L1606.4 1694.8 L1606.6 1692.8 L1606.7 1690.8 L1606.7 1688.8 L1606.8 1686.8 L1606.9 1684.8 L1606.9 1682.8Z" fill="url(#hb3)" stroke="#231f20" stroke-width="1.4" stroke-linejoin="round"/>
<rect x="1604.2" y="1745.5" width="5.4" height="5.8" fill="#0d0d0d"/>
<rect x="1601.2" y="1772.7" width="5.4" height="5.8" fill="#0d0d0d"/>
<rect x="1607.2" y="1772.7" width="5.4" height="5.8" fill="#0d0d0d"/>
<rect x="1604.2" y="1790.3" width="5.4" height="5.8" fill="#0d0d0d"/>
<rect x="1604.2" y="1805.9" width="5.4" height="5.8" fill="#0d0d0d"/>
<rect x="1598.3" y="1833.5" width="5.4" height="5.8" fill="#0d0d0d"/>
<rect x="1604.2" y="1833.5" width="5.4" height="5.8" fill="#0d0d0d"/>
<rect x="1610.1" y="1833.5" width="5.4" height="5.8" fill="#0d0d0d"/>
<rect x="1601.2" y="1847.6" width="5.4" height="5.8" fill="#0d0d0d"/>
<rect x="1607.2" y="1847.6" width="5.4" height="5.8" fill="#0d0d0d"/>
<rect x="1604.2" y="1874.3" width="5.4" height="5.8" fill="#0d0d0d"/>
<rect x="1602.9" y="1813.4" width="8" height="8" fill="#fff" stroke="#231f20" stroke-width="1.3"/>
<line x1="1606.9" y1="1813.4" x2="1606.9" y2="1821.4" stroke="#3a3636" stroke-width="1.3" stroke-linecap="butt"/>
<line x1="1606.9" y1="1748.4" x2="1606.9" y2="1878.5" stroke="#3a3636" stroke-width="1.5" stroke-linecap="butt"/>
<path d="M1680.1 1688 L1680.2 1690 L1680.4 1692 L1680.7 1694 L1681.1 1696 L1681.6 1698 L1682.2 1700 L1683.1 1702 L1684 1704.1 L1685 1706.1 L1686.2 1708.1 L1687.5 1710.1 L1688.7 1712.1 L1689.7 1714.1 L1690.5 1716.1 L1691.3 1718.2 L1691.8 1720.2 L1692.2 1722.2 L1692.4 1724.2 L1692.5 1726.2 L1692.4 1728.2 L1692 1730.2 L1691.5 1732.2 L1690.9 1734.3 L1690 1736.3 L1688.9 1738.3 L1687.8 1740.3 L1686.8 1742.3 L1685.6 1744.3 L1684.5 1746.3 L1683.6 1748.4 L1683.1 1750.4 L1682.8 1752.4 L1682.6 1754.4 L1682.6 1756.4 L1683.1 1758.4 L1683.8 1760.4 L1684.8 1762.5 L1686 1764.5 L1687.6 1766.5 L1689.7 1768.5 L1692 1770.5 L1694.3 1772.5 L1696.6 1774.5 L1699.1 1776.5 L1701.5 1778.6 L1703.7 1780.6 L1705.6 1782.6 L1707.3 1784.6 L1708.9 1786.6 L1710.1 1788.6 L1711.1 1790.6 L1712 1792.7 L1712.8 1794.7 L1713.2 1796.7 L1713.4 1798.7 L1713.5 1800.7 L1713.4 1802.7 L1713 1804.7 L1712.4 1806.7 L1711.6 1808.8 L1710.3 1810.8 L1708.5 1812.8 L1706.5 1814.8 L1704.5 1816.8 L1702.3 1818.8 L1699.9 1820.8 L1697.4 1822.9 L1695.1 1824.9 L1692.6 1826.9 L1690.1 1828.9 L1687.9 1830.9 L1686.3 1832.9 L1685.2 1834.9 L1684.2 1836.9 L1683.6 1839 L1683.6 1841 L1684.1 1843 L1684.9 1845 L1685.8 1847 L1686.7 1849 L1687.9 1851 L1689.2 1853.1 L1690.3 1855.1 L1691.1 1857.1 L1691.6 1859.1 L1692.1 1861.1 L1692.4 1863.1 L1692.5 1865.1 L1692.4 1867.2 L1692 1869.2 L1691.6 1871.2 L1691.1 1873.2 L1690.5 1875.2 L1689.6 1877.2 L1688.7 1879.2 L1687.7 1881.2 L1686.7 1883.3 L1685.6 1885.3 L1684.6 1887.3 L1683.7 1889.3 L1682.9 1891.3 L1682.3 1893.3 L1681.8 1895.3 L1681.3 1897.4 L1680.8 1899.4 L1680.4 1901.4 L1680.1 1903.4 L1679.8 1901.4 L1679.4 1899.4 L1678.9 1897.4 L1678.4 1895.3 L1677.9 1893.3 L1677.3 1891.3 L1676.5 1889.3 L1675.6 1887.3 L1674.6 1885.3 L1673.5 1883.3 L1672.5 1881.2 L1671.5 1879.2 L1670.6 1877.2 L1669.7 1875.2 L1669.1 1873.2 L1668.6 1871.2 L1668.2 1869.2 L1667.8 1867.2 L1667.7 1865.1 L1667.8 1863.1 L1668.1 1861.1 L1668.6 1859.1 L1669.1 1857.1 L1669.9 1855.1 L1671 1853.1 L1672.3 1851 L1673.5 1849 L1674.4 1847 L1675.3 1845 L1676.1 1843 L1676.6 1841 L1676.6 1839 L1676 1836.9 L1675 1834.9 L1673.9 1832.9 L1672.3 1830.9 L1670.1 1828.9 L1667.6 1826.9 L1665.1 1824.9 L1662.8 1822.9 L1660.3 1820.8 L1657.9 1818.8 L1655.7 1816.8 L1653.7 1814.8 L1651.7 1812.8 L1649.9 1810.8 L1648.6 1808.8 L1647.8 1806.7 L1647.2 1804.7 L1646.8 1802.7 L1646.7 1800.7 L1646.8 1798.7 L1647 1796.7 L1647.4 1794.7 L1648.2 1792.7 L1649.1 1790.6 L1650.1 1788.6 L1651.3 1786.6 L1652.9 1784.6 L1654.6 1782.6 L1656.5 1780.6 L1658.7 1778.6 L1661.1 1776.5 L1663.6 1774.5 L1665.9 1772.5 L1668.2 1770.5 L1670.5 1768.5 L1672.6 1766.5 L1674.2 1764.5 L1675.4 1762.5 L1676.4 1760.4 L1677.1 1758.4 L1677.6 1756.4 L1677.6 1754.4 L1677.4 1752.4 L1677.1 1750.4 L1676.6 1748.4 L1675.7 1746.3 L1674.6 1744.3 L1673.4 1742.3 L1672.4 1740.3 L1671.3 1738.3 L1670.2 1736.3 L1669.3 1734.3 L1668.7 1732.2 L1668.2 1730.2 L1667.8 1728.2 L1667.7 1726.2 L1667.8 1724.2 L1668 1722.2 L1668.4 1720.2 L1668.9 1718.2 L1669.7 1716.1 L1670.5 1714.1 L1671.5 1712.1 L1672.7 1710.1 L1674 1708.1 L1675.2 1706.1 L1676.2 1704.1 L1677.1 1702 L1678 1700 L1678.6 1698 L1679.1 1696 L1679.5 1694 L1679.8 1692 L1680 1690Z" fill="url(#hk3)" stroke="#231f20" stroke-width="1.4" stroke-linejoin="round"/>
<rect x="1677.4" y="1723.7" width="5.4" height="5.8" fill="#0d0d0d"/>
<rect x="1677.4" y="1777.6" width="5.4" height="5.8" fill="#0d0d0d"/>
<rect x="1677.4" y="1797.6" width="5.4" height="5.8" fill="#0d0d0d"/>
<rect x="1677.4" y="1812.8" width="5.4" height="5.8" fill="#0d0d0d"/>
<rect x="1677.4" y="1861.8" width="5.4" height="5.8" fill="#0d0d0d"/>
<rect x="1676.1" y="1794.4" width="8" height="8" fill="#fff" stroke="#231f20" stroke-width="1.3"/>
<line x1="1680.1" y1="1794.4" x2="1680.1" y2="1802.4" stroke="#3a3636" stroke-width="1.3" stroke-linecap="butt"/>
<line x1="1680.1" y1="1780.5" x2="1680.1" y2="1816.4" stroke="#3a3636" stroke-width="1.5" stroke-linecap="butt"/>
<text class="nb" transform="translate(1355.9,2065.4) rotate(-45) scale(0.84,1)" font-size="37" font-weight="bold">+/+</text>
<text class="nb" transform="translate(1404.2,2104) rotate(-45) scale(0.84,1)" font-size="37" font-weight="bold">RH/RH</text>
<g transform="translate(1541.7,2036.1) rotate(-45)">
<text class="nb" transform="translate(-34.8,0) scale(0.84,1)" font-size="37" font-weight="bold"><tspan dy="-6.5">-</tspan><tspan dy="6.5" dx="4">/</tspan><tspan dy="-6.5" dx="3.2">-</tspan></text>
<rect x="-36.1" y="-18.5" width="12.2" height="7.6" fill="#000"/>
<rect x="-12.2" y="-18.5" width="12.2" height="7.6" fill="#000"/>
</g>
<text class="nb" transform="translate(1562.7,2085) rotate(-45) scale(0.84,1)" font-size="37" font-weight="bold">+/RH</text>
<g transform="translate(1692.5,2031.1) rotate(-45)">
<text class="nb" transform="translate(-40.5,0) scale(0.84,1)" font-size="37" font-weight="bold">+/<tspan dy="-6.5" dx="3.2">-</tspan></text>
<rect x="-12.2" y="-18.5" width="12.2" height="7.6" fill="#000"/>
</g>
</svg>
</body></html>
